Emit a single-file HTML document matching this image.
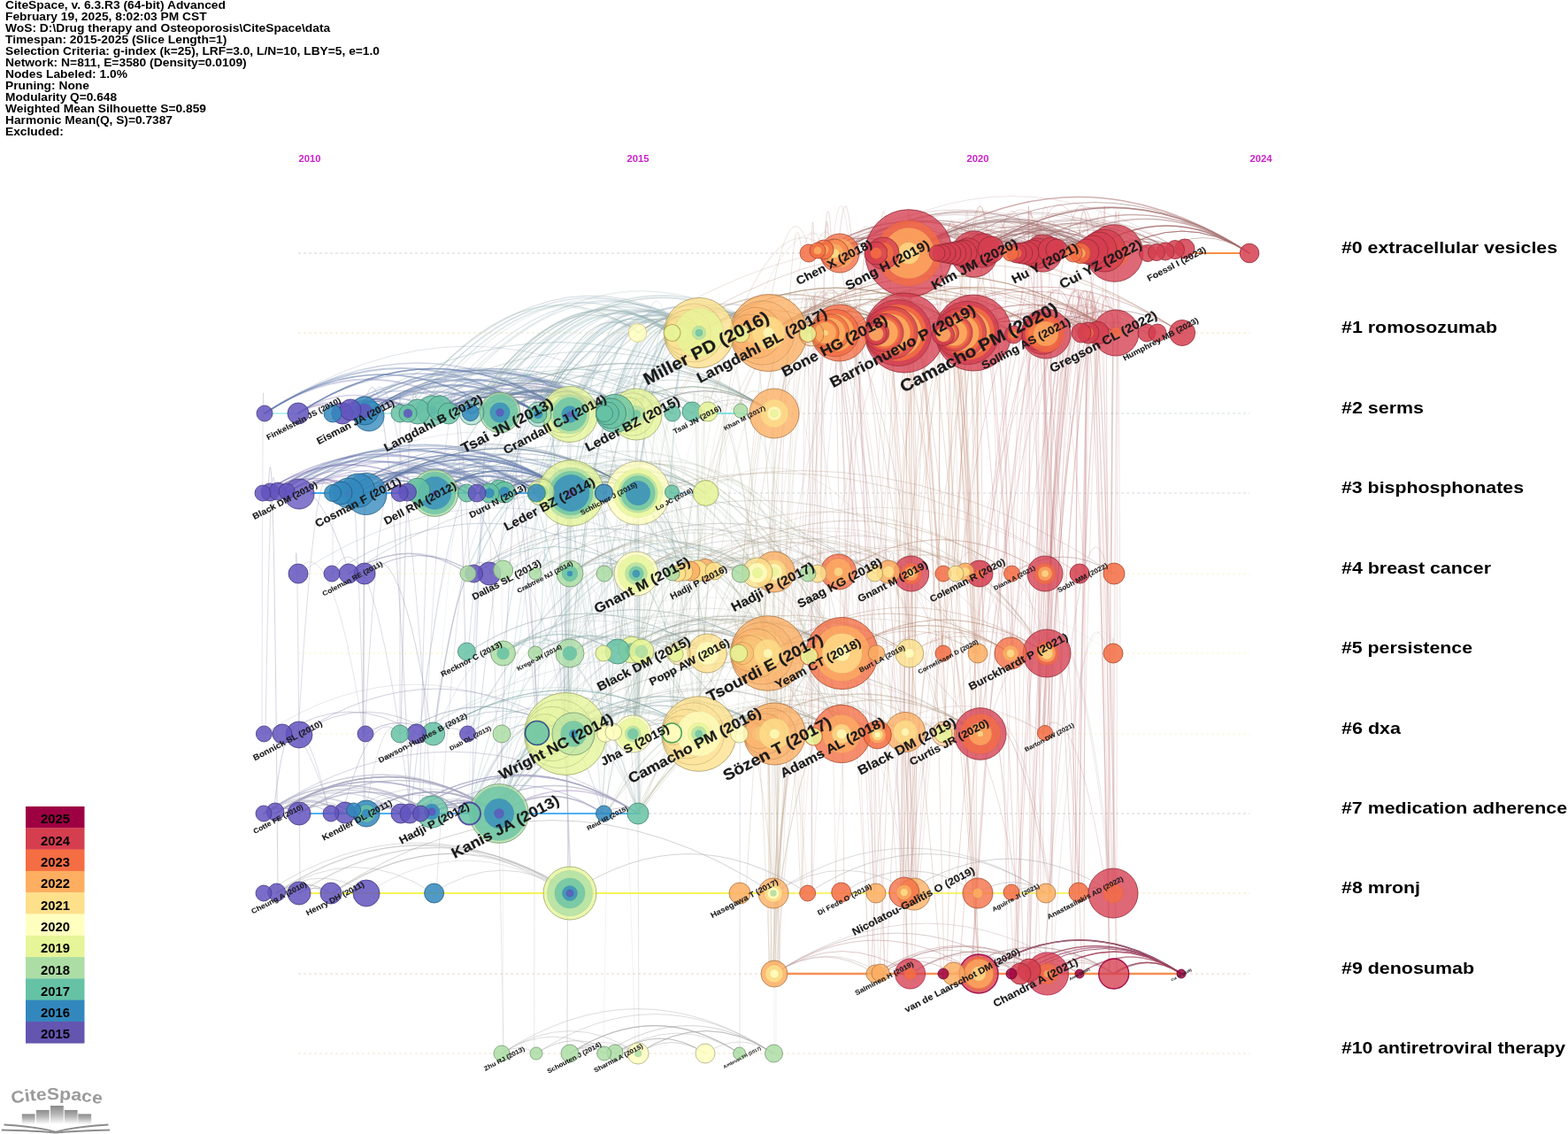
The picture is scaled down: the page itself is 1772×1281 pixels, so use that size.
<!DOCTYPE html>
<html lang="en"><head><meta charset="utf-8"><title>CiteSpace timeline</title>
<style>html,body{margin:0;padding:0;background:#fff;}svg{display:block}text{font-family:"Liberation Sans",sans-serif;font-weight:bold}</style></head><body>
<svg width="1772" height="1281" viewBox="0 0 1772 1281">
<rect width="1772" height="1281" fill="#fff"/>
<defs><linearGradient id="bg" x1="0" y1="0" x2="0" y2="1"><stop offset="0" stop-color="#8a8a8a"/><stop offset="0.45" stop-color="#b5b5b5"/><stop offset="1" stop-color="#ffffff"/></linearGradient>
<path id="lp" d="M 13.5 1247 Q 63 1237 116 1247.5"/></defs>
<g fill="none" stroke-width="1" stroke-dasharray="3 3">
<path d="M337 286.0H1412" stroke="#a8a8a8" stroke-opacity="0.50"/>
<path d="M337 376.0H1412" stroke="#e8d8a0" stroke-opacity="0.60"/>
<path d="M337 467.0H1412" stroke="#b4c4cc" stroke-opacity="0.60"/>
<path d="M337 557.0H1412" stroke="#b4c0cc" stroke-opacity="0.60"/>
<path d="M337 648.0H1412" stroke="#f3efb0" stroke-opacity="0.60"/>
<path d="M337 738.0H1412" stroke="#f3efb0" stroke-opacity="0.60"/>
<path d="M337 829.0H1412" stroke="#f3efb0" stroke-opacity="0.60"/>
<path d="M337 919.0H1412" stroke="#aaaaaa" stroke-opacity="0.50"/>
<path d="M337 1009.0H1412" stroke="#f0d8a0" stroke-opacity="0.60"/>
<path d="M337 1100.0H1412" stroke="#e0b8a8" stroke-opacity="0.60"/>
<path d="M337 1190.0H1412" stroke="#f0d0a8" stroke-opacity="0.60"/>
</g>
<g fill="none" stroke-linecap="round">
<path d="M338 557Q492 456 645 557M394 557Q466 509 539 557M491 557Q515 541 539 557" stroke="#6078a8" stroke-opacity="0.4" stroke-width="1.0"/>
<path d="M490 829Q569 777 648 829M490 829Q509 816 528 829M452 829Q546 767 639 829" stroke="#607890" stroke-opacity="0.3" stroke-width="1.0"/>
<path d="M1180 738Q1084 578 988 648" stroke="#a89078" stroke-opacity="0.3" stroke-width="1.5"/>
<path d="M1061 648Q1063 167 1064 286M1033 738Q1046 256 1058 376" stroke="#c09078" stroke-opacity="0.2" stroke-width="1.5"/>
<path d="M1187 738Q1187 257 1188 376M1175 829Q1173 107 1172 286" stroke="#c07878" stroke-opacity="0.2" stroke-width="1.5"/>
<path d="M414 919Q489 870 564 919M488 919Q526 894 564 919" stroke="#9090c0" stroke-opacity="0.4" stroke-width="1.5"/>
<path d="M868 738Q815 602 762 648M648 829Q800 633 952 738M950 829Q892 689 833 738M720 919Q834 748 949 829" stroke="#a8a890" stroke-opacity="0.3" stroke-width="1.5"/>
<path d="M1022 376Q1084 335 1146 376M952 738Q1047 675 1142 738" stroke="#a87860" stroke-opacity="0.4" stroke-width="0.5"/>
<path d="M721 1190Q798 1139 874 1190M721 1190Q798 1139 874 1190M644 1190Q670 1173 695 1190M721 1190Q759 1165 797 1190" stroke="#a8a8a8" stroke-opacity="0.5" stroke-width="1.0"/>
<path d="M683 1190Q779 1127 874 1190M376 1009Q513 919 649 1009" stroke="#a8a8a8" stroke-opacity="0.5" stroke-width="1.0"/>
<path d="M1251 1009Q1213 765 1175 829M1107 1100Q1084 618 1060 738M1031 1009Q1028 770 1025 829M1098 1100Q1123 617 1148 738" stroke="#c09090" stroke-opacity="0.3" stroke-width="1.0"/>
<path d="M298 919Q344 889 390 919M682 919Q702 906 721 919M463 919Q469 915 476 919M311 919Q400 861 488 919" stroke="#a8a8c0" stroke-opacity="0.6" stroke-width="1.0"/>
<path d="M507 467Q576 422 644 467M417 467Q512 404 608 467M305 557Q456 458 606 557M553 557Q562 551 570 557" stroke="#6078a8" stroke-opacity="0.5" stroke-width="2.0"/>
<path d="M720 376Q1028 173 1336 376M949 376Q1105 273 1261 376M949 376Q1024 326 1100 376M868 376Q1065 246 1261 376" stroke="#a87860" stroke-opacity="0.2" stroke-width="1.0"/>
<path d="M472 467Q540 422 608 467M337 467Q490 366 644 467M387 467Q442 431 497 467M337 467Q490 366 644 467" stroke="#6078a8" stroke-opacity="0.3" stroke-width="1.5"/>
<path d="M1248 286Q1330 232 1412 286M943 286Q1016 238 1089 286M1178 1100Q1220 615 1262 738" stroke="#a89090" stroke-opacity="0.2" stroke-width="0.5"/>
<path d="M411 829Q373 583 334 648M413 919Q432 797 451 829M493 1009Q530 406 568 557" stroke="#a8a8c0" stroke-opacity="0.3" stroke-width="1.0"/>
<path d="M374 919Q382 914 390 919" stroke="#a8a8c0" stroke-opacity="0.6" stroke-width="1.5"/>
<path d="M874 829Q872 227 870 376M868 738Q829 254 789 376M797 738Q837 608 877 648M917 829Q862 578 806 648" stroke="#a8a890" stroke-opacity="0.2" stroke-width="1.0"/>
<path d="M387 467Q400 459 412 467M337 467Q366 448 396 467M338 557Q399 517 460 557" stroke="#7860a8" stroke-opacity="0.3" stroke-width="2.0"/>
<path d="M952 738Q781 429 609 557M953 829Q777 518 602 648M640 829Q755 656 870 738M685 919Q780 760 875 829" stroke="#90a890" stroke-opacity="0.3" stroke-width="1.5"/>
<path d="M907 648Q910 286 913 376M988 1100Q952 136 916 376M945 1009Q928 167 912 376M873 738Q949 246 1026 376" stroke="#c09090" stroke-opacity="0.2" stroke-width="1.0"/>
<path d="M497 467Q553 430 609 467M314 557Q442 473 570 557M472 557Q500 539 528 557M452 557Q508 520 564 557" stroke="#6078a8" stroke-opacity="0.4" stroke-width="2.0"/>
<path d="M650 557Q704 306 759 376M684 467Q776 308 868 376M525 557Q641 279 758 376M465 467Q592 287 719 376" stroke="#a8c0c0" stroke-opacity="0.3" stroke-width="1.0"/>
<path d="M690 467Q783 406 875 467M644 467Q760 391 875 467M721 557Q759 532 798 557M719 648Q778 609 837 648" stroke="#90a890" stroke-opacity="0.3" stroke-width="0.5"/>
<path d="M857 648Q713 457 569 557" stroke="#90a8a8" stroke-opacity="0.2" stroke-width="1.0"/>
<path d="M690 467Q783 406 875 467M764 738Q782 726 799 738" stroke="#90a890" stroke-opacity="0.4" stroke-width="0.5"/>
<path d="M568 738Q569 497 569 557M530 738Q570 374 610 467" stroke="#7890a8" stroke-opacity="0.1" stroke-width="0.5"/>
<path d="M1059 286Q1150 226 1242 286M1179 286Q1207 268 1235 286" stroke="#904848" stroke-opacity="0.3" stroke-width="1.5"/>
<path d="M1111 286Q1170 247 1228 286M1167 286Q1198 266 1228 286" stroke="#906060" stroke-opacity="0.5" stroke-width="0.5"/>
<path d="M1100 376Q1170 330 1240 376" stroke="#a86060" stroke-opacity="0.3" stroke-width="1.5"/>
<path d="M1219 1009Q1229 167 1239 376M1262 1100Q1244 137 1226 376M1186 648Q1207 285 1228 376M1251 1009Q1235 47 1218 286" stroke="#c07878" stroke-opacity="0.3" stroke-width="1.5"/>
<path d="M608 738Q652 373 695 467M713 829Q661 461 609 557M725 738Q668 486 611 557M638 829Q641 588 644 648" stroke="#90a8a8" stroke-opacity="0.2" stroke-width="0.5"/>
<path d="M833 738Q811 256 789 376M875 829Q911 225 946 376M915 738Q857 370 799 467M873 829Q832 224 792 376" stroke="#a8a890" stroke-opacity="0.2" stroke-width="1.0"/>
<path d="M1157 1100Q1126 17 1095 286M1215 1100Q1217 137 1220 376M1212 1009Q1170 46 1127 286M1084 648Q1133 281 1182 376" stroke="#c07878" stroke-opacity="0.3" stroke-width="1.0"/>
<path d="M1078 1100Q1092 1091 1106 1100" stroke="#c09090" stroke-opacity="0.6" stroke-width="1.0"/>
<path d="M693 829Q669 466 644 557M605 829Q643 699 681 738" stroke="#90a8a8" stroke-opacity="0.2" stroke-width="0.5"/>
<path d="M641 829Q598 582 555 648M477 919Q504 317 530 467M296 829Q297 348 298 467M376 648Q376 527 376 557" stroke="#a8a8c0" stroke-opacity="0.3" stroke-width="1.0"/>
<path d="M1078 1100Q1168 1040 1259 1100" stroke="#c0a8a8" stroke-opacity="0.6" stroke-width="1.5"/>
<path d="M311 919Q421 847 530 919M463 919Q592 834 721 919" stroke="#9090c0" stroke-opacity="0.5" stroke-width="1.5"/>
<path d="M400 919Q407 914 414 919M414 919Q489 870 564 919M311 919Q342 898 374 919M390 919Q402 911 414 919" stroke="#a8a8c0" stroke-opacity="0.5" stroke-width="1.5"/>
<path d="M610 467Q685 319 759 376" stroke="#90c0c0" stroke-opacity="0.3" stroke-width="1.0"/>
<path d="M868 738Q986 660 1105 738M952 738Q990 713 1028 738M875 829Q992 752 1108 829M715 829Q912 699 1108 829" stroke="#a89078" stroke-opacity="0.2" stroke-width="1.0"/>
<path d="M1028 1009Q1015 529 1003 648M1018 1009Q1025 529 1031 648M1035 1009Q1026 769 1017 829M1002 1100Q1015 739 1029 829" stroke="#c09090" stroke-opacity="0.3" stroke-width="1.0"/>
<path d="M992 648Q953 283 914 376M914 829Q927 226 941 376M986 648Q953 165 920 286M918 1009Q914 167 909 376" stroke="#c09090" stroke-opacity="0.3" stroke-width="1.0"/>
<path d="M868 376Q1007 285 1146 376M949 376Q1105 273 1261 376" stroke="#a87860" stroke-opacity="0.3" stroke-width="1.5"/>
<path d="M837 376Q853 366 868 376M790 376Q854 334 917 376M788 648Q856 603 924 648M835 738Q851 727 868 738" stroke="#909078" stroke-opacity="0.2" stroke-width="1.0"/>
<path d="M461 467Q622 361 782 467M533 467Q626 406 719 467M491 557Q606 481 721 557M605 738Q660 702 714 738" stroke="#609090" stroke-opacity="0.2" stroke-width="1.0"/>
<path d="M914 738Q971 701 1028 738" stroke="#a89078" stroke-opacity="0.2" stroke-width="0.5"/>
<path d="M790 376Q829 350 868 376M720 376Q794 327 868 376M720 376Q794 327 868 376M719 467Q797 416 875 467" stroke="#909090" stroke-opacity="0.3" stroke-width="1.0"/>
<path d="M497 467Q608 394 719 467M570 557Q646 507 721 557M564 557Q642 505 721 557M536 648Q627 587 719 648" stroke="#609090" stroke-opacity="0.4" stroke-width="1.0"/>
<path d="M1257 1009Q1240 167 1223 376M1146 1100Q1193 16 1241 286M1253 1009Q1258 47 1263 286M1163 1100Q1195 136 1226 376" stroke="#c07878" stroke-opacity="0.3" stroke-width="1.0"/>
<path d="M646 648Q645 527 645 557M686 829Q684 588 681 648M639 829Q679 345 719 467M638 829Q642 348 646 467" stroke="#90a8a8" stroke-opacity="0.2" stroke-width="1.0"/>
<path d="M1214 1009Q1237 167 1260 376M1164 1100Q1163 17 1162 286M1143 738Q1118 255 1093 376M1253 1100Q1250 17 1247 286" stroke="#c07878" stroke-opacity="0.3" stroke-width="1.0"/>
<path d="M394 648Q465 601 536 648M298 829Q469 717 639 829" stroke="#606090" stroke-opacity="0.3" stroke-width="0.5"/>
<path d="M714 738Q791 687 868 738" stroke="#909090" stroke-opacity="0.4" stroke-width="1.5"/>
<path d="M650 829Q610 463 570 557M641 829Q606 464 570 557M561 919Q605 434 648 557M562 919Q606 787 651 829" stroke="#78a8a8" stroke-opacity="0.2" stroke-width="1.0"/>
<path d="M882 467Q895 345 909 376M881 648Q894 166 906 286M836 738Q894 251 952 376M754 467Q832 316 911 376" stroke="#c0a890" stroke-opacity="0.3" stroke-width="1.0"/>
<path d="M645 557Q664 545 682 557" stroke="#7890a8" stroke-opacity="0.5" stroke-width="1.0"/>
<path d="M488 467Q592 399 695 467M488 467Q586 403 683 467M553 557Q599 527 645 557M564 557Q605 530 645 557" stroke="#7878a8" stroke-opacity="0.4" stroke-width="1.5"/>
<path d="M645 557Q664 545 682 557M533 919Q548 318 563 467M529 738Q549 496 568 557M531 919Q587 313 644 467" stroke="#7890a8" stroke-opacity="0.3" stroke-width="1.0"/>
<path d="M1020 829Q983 583 945 648M1142 738Q1009 555 876 648" stroke="#a89090" stroke-opacity="0.2" stroke-width="1.0"/>
<path d="M564 557Q605 530 645 557" stroke="#7878a8" stroke-opacity="0.3" stroke-width="1.0"/>
<path d="M1104 738Q990 567 876 648" stroke="#a89090" stroke-opacity="0.3" stroke-width="1.0"/>
<path d="M564 919Q645 658 726 738M723 919Q665 781 607 829M782 648Q694 491 605 557M566 919Q683 640 801 738" stroke="#90a8a8" stroke-opacity="0.2" stroke-width="1.5"/>
<path d="M875 829Q992 752 1108 829M790 829Q906 752 1023 829M875 829Q913 804 951 829M1180 738Q1052 558 923 648" stroke="#a89078" stroke-opacity="0.3" stroke-width="1.0"/>
<path d="M394 557Q557 449 721 557M414 557Q567 456 721 557M337 648Q562 499 788 648M452 829Q546 767 639 829" stroke="#607890" stroke-opacity="0.2" stroke-width="1.0"/>
<path d="M954 829Q953 588 953 648M882 1100Q875 739 869 829M872 1100Q865 499 857 648M877 1100Q880 499 883 648" stroke="#c0a890" stroke-opacity="0.2" stroke-width="1.0"/>
<path d="M497 467Q648 367 800 467M387 467Q631 306 875 467M565 467Q642 416 719 467M565 467Q642 416 719 467" stroke="#609090" stroke-opacity="0.3" stroke-width="1.0"/>
<path d="M1187 829Q1211 226 1235 376M1254 1100Q1241 137 1228 376M1142 738Q1205 249 1269 376M1149 738Q1168 136 1187 286" stroke="#c07878" stroke-opacity="0.2" stroke-width="1.0"/>
<path d="M1120 286Q1184 244 1248 286" stroke="#a89090" stroke-opacity="0.4" stroke-width="1.5"/>
<path d="M723 919Q685 435 647 557M642 829Q645 467 648 557M714 738Q678 493 643 557M714 829Q697 587 680 648" stroke="#90a8a8" stroke-opacity="0.2" stroke-width="1.0"/>
<path d="M472 467Q502 447 533 467M417 467Q552 378 686 467M461 467Q576 391 690 467M417 467Q556 375 695 467" stroke="#6078a8" stroke-opacity="0.3" stroke-width="1.0"/>
<path d="M339 1009Q336 529 334 648M491 829Q523 585 555 648M411 919Q412 438 413 557M372 919Q345 794 318 829" stroke="#a8a8c0" stroke-opacity="0.4" stroke-width="1.0"/>
<path d="M412 467Q566 366 719 467M414 557Q567 456 721 557M414 557Q567 456 721 557M375 648Q547 534 719 648" stroke="#607890" stroke-opacity="0.3" stroke-width="1.0"/>
<path d="M533 467Q614 414 695 467M533 467Q612 415 690 467" stroke="#7890a8" stroke-opacity="0.3" stroke-width="1.5"/>
<path d="M721 919Q836 641 951 738" stroke="#a8a890" stroke-opacity="0.3" stroke-width="1.0"/>
<path d="M472 557Q518 527 564 557M491 557Q568 506 645 557M405 557Q479 508 553 557" stroke="#6078a8" stroke-opacity="0.4" stroke-width="1.5"/>
<path d="M875 1100Q952 1049 1029 1100M1184 1100Q1221 1075 1259 1100M989 1100Q1033 1071 1078 1100M989 1100Q1086 1036 1184 1100" stroke="#c09090" stroke-opacity="0.5" stroke-width="1.0"/>
<path d="M1017 1009Q1024 529 1031 648M1163 1100Q1174 618 1185 738M1027 1009Q1027 529 1027 648M1070 829Q1105 700 1140 738" stroke="#c09090" stroke-opacity="0.2" stroke-width="1.0"/>
<path d="M1179 286Q1210 265 1242 286" stroke="#904848" stroke-opacity="0.4" stroke-width="1.0"/>
<path d="M949 376Q985 352 1022 376M837 376Q930 315 1022 376M917 376Q970 341 1022 376M868 376Q945 325 1022 376" stroke="#a89078" stroke-opacity="0.4" stroke-width="1.0"/>
<path d="M949 286Q988 260 1027 286M1173 286Q1208 263 1242 286M1111 286Q1136 270 1161 286" stroke="#a87878" stroke-opacity="0.3" stroke-width="1.0"/>
<path d="M338 557Q415 506 491 557" stroke="#6060a8" stroke-opacity="0.4" stroke-width="1.0"/>
<path d="M949 376Q1047 311 1146 376M949 376Q1105 273 1261 376M949 376Q1065 299 1182 376M1023 829Q1102 777 1181 829" stroke="#a87860" stroke-opacity="0.3" stroke-width="0.5"/>
<path d="M604 829Q779 619 954 738" stroke="#90a890" stroke-opacity="0.2" stroke-width="1.5"/>
<path d="M943 286Q1008 243 1074 286M943 286Q1055 212 1167 286M998 286Q1012 276 1027 286M1120 286Q1157 262 1194 286" stroke="#904848" stroke-opacity="0.4" stroke-width="1.0"/>
<path d="M385 557Q399 548 414 557" stroke="#7860a8" stroke-opacity="0.5" stroke-width="2.0"/>
<path d="M1027 286Q1134 215 1242 286" stroke="#906060" stroke-opacity="0.4" stroke-width="1.5"/>
<path d="M787 829Q754 465 721 557M762 829Q780 466 798 557M759 829Q763 708 767 738M762 829Q759 467 757 557" stroke="#90a890" stroke-opacity="0.2" stroke-width="1.0"/>
<path d="M725 738Q838 663 952 738M605 738Q798 611 990 738M714 738Q833 660 952 738" stroke="#909090" stroke-opacity="0.2" stroke-width="0.5"/>
<path d="M1257 1100Q1296 1074 1335 1100" stroke="#903048" stroke-opacity="0.8" stroke-width="1.0"/>
<path d="M868 376Q945 325 1022 376M790 376Q945 274 1100 376M790 376Q869 324 949 376M790 376Q945 274 1100 376" stroke="#a89078" stroke-opacity="0.3" stroke-width="1.0"/>
<path d="M644 648Q784 556 924 648M715 829Q775 789 836 829M725 738Q742 496 760 557M791 829Q787 348 783 467" stroke="#90a890" stroke-opacity="0.2" stroke-width="1.5"/>
<path d="M644 1190Q682 1165 721 1190M695 1190Q746 1156 797 1190M695 1190Q708 1181 721 1190M567 1190Q644 1139 721 1190" stroke="#a8a8a8" stroke-opacity="0.4" stroke-width="1.0"/>
<path d="M948 829Q912 584 876 648M875 829Q839 700 802 738M949 829Q913 345 877 467M787 648Q811 405 836 467" stroke="#a8a890" stroke-opacity="0.3" stroke-width="0.5"/>
<path d="M642 829Q642 348 641 467M608 829Q647 464 685 557M641 738Q644 378 646 467M686 829Q646 583 607 648" stroke="#90a8a8" stroke-opacity="0.3" stroke-width="0.5"/>
<path d="M715 829Q869 727 1023 829" stroke="#a89078" stroke-opacity="0.3" stroke-width="0.5"/>
<path d="M394 648Q403 642 412 648" stroke="#606090" stroke-opacity="0.2" stroke-width="1.0"/>
<path d="M714 738Q833 660 952 738M799 738Q834 715 868 738M715 829Q753 804 790 829M639 829Q795 726 951 829" stroke="#909090" stroke-opacity="0.3" stroke-width="1.0"/>
<path d="M998 286Q1113 210 1228 286M1027 286Q1048 272 1069 286M1027 286Q1058 266 1089 286M931 286Q1026 224 1120 286" stroke="#a87878" stroke-opacity="0.2" stroke-width="1.0"/>
<path d="M791 829Q870 569 948 648M876 829Q934 689 991 738M953 738Q799 439 645 557" stroke="#a8a890" stroke-opacity="0.3" stroke-width="1.5"/>
<path d="M1101 286Q1137 262 1173 286" stroke="#904848" stroke-opacity="0.2" stroke-width="1.5"/>
<path d="M472 467Q518 436 565 467M414 557Q512 492 611 557M414 557Q433 544 452 557M491 557Q551 517 611 557" stroke="#6078a8" stroke-opacity="0.3" stroke-width="2.0"/>
<path d="M771 648Q728 516 685 557M562 919Q738 607 915 738M526 829Q698 621 869 738M874 648Q742 465 609 557" stroke="#90a8a8" stroke-opacity="0.2" stroke-width="1.0"/>
<path d="M759 829Q875 752 992 829M1067 829Q1009 577 950 648M1064 829Q1007 577 950 648" stroke="#a89078" stroke-opacity="0.2" stroke-width="1.0"/>
<path d="M564 919Q586 317 608 467M461 919Q466 799 470 829M309 919Q323 798 337 829M644 1009Q626 288 609 467" stroke="#a8a8c0" stroke-opacity="0.5" stroke-width="1.0"/>
<path d="M1223 648Q1229 286 1236 376M1074 1100Q1151 13 1228 286M1100 738Q1159 250 1217 376M1254 1100Q1235 137 1215 376" stroke="#c07878" stroke-opacity="0.3" stroke-width="1.0"/>
<path d="M778 648Q730 514 683 557M684 829Q741 460 798 557M797 738Q759 492 720 557M774 648Q747 405 720 467" stroke="#90a890" stroke-opacity="0.1" stroke-width="1.0"/>
<path d="M799 738Q914 663 1028 738M767 738Q897 652 1028 738M875 829Q913 804 951 829" stroke="#a89078" stroke-opacity="0.4" stroke-width="1.0"/>
<path d="M376 467Q424 435 472 467" stroke="#6060a8" stroke-opacity="0.4" stroke-width="2.0"/>
<path d="M716 829Q741 586 766 648M693 829Q730 699 767 738M700 738Q745 253 789 376M834 829Q776 689 717 738" stroke="#90a890" stroke-opacity="0.3" stroke-width="1.0"/>
<path d="M376 467Q394 455 412 467M297 557Q394 493 491 557M324 557Q359 534 394 557M314 557Q393 505 472 557" stroke="#7860a8" stroke-opacity="0.3" stroke-width="1.0"/>
<path d="M868 376Q984 300 1100 376M780 648Q962 528 1144 648M766 648Q877 575 989 648M875 648Q894 635 913 648" stroke="#a89078" stroke-opacity="0.4" stroke-width="1.0"/>
<path d="M685 557Q738 307 791 376M689 467Q726 337 763 376M721 467Q757 337 794 376M536 467Q700 264 864 376" stroke="#90a8a8" stroke-opacity="0.4" stroke-width="1.5"/>
<path d="M949 286Q1085 196 1221 286M1155 286Q1167 278 1179 286M1182 376Q1206 360 1230 376M1240 376Q1250 369 1261 376" stroke="#906060" stroke-opacity="0.3" stroke-width="0.5"/>
<path d="M568 738Q633 695 698 738" stroke="#609090" stroke-opacity="0.3" stroke-width="1.5"/>
<path d="M868 376Q945 325 1022 376M949 376Q985 352 1022 376M868 738Q910 710 952 738M836 829Q972 739 1108 829" stroke="#a89078" stroke-opacity="0.4" stroke-width="1.5"/>
<path d="M645 557Q683 532 721 557M721 557Q740 544 760 557M644 738Q706 697 767 738M527 738Q663 648 799 738" stroke="#789090" stroke-opacity="0.2" stroke-width="0.5"/>
<path d="M1307 286Q1360 251 1412 286" stroke="#a87878" stroke-opacity="0.5" stroke-width="1.0"/>
<path d="M911 648Q929 285 948 376M724 919Q818 652 913 738M954 829Q834 653 714 738M952 738Q869 586 786 648" stroke="#a8a890" stroke-opacity="0.2" stroke-width="1.0"/>
<path d="M338 919Q451 844 564 919M564 919Q623 880 682 919M488 919Q526 894 564 919M414 919Q489 870 564 919" stroke="#a8a8c0" stroke-opacity="0.4" stroke-width="1.5"/>
<path d="M644 467Q718 319 792 376M760 467Q776 344 792 376M723 467Q756 339 790 376" stroke="#90a8c0" stroke-opacity="0.4" stroke-width="1.5"/>
<path d="M953 829Q905 580 857 648M991 829Q816 619 642 738M950 829Q908 697 866 738M684 919Q817 736 951 829" stroke="#a8a890" stroke-opacity="0.3" stroke-width="1.0"/>
<path d="M1031 648Q991 282 951 376M983 738Q1024 254 1065 376M1008 648Q1040 284 1073 376M984 738Q1000 256 1016 376" stroke="#c09078" stroke-opacity="0.2" stroke-width="1.0"/>
<path d="M686 829Q664 586 641 648M723 919Q722 438 721 557M714 829Q679 464 643 557M716 829Q716 708 716 738" stroke="#90a8a8" stroke-opacity="0.2" stroke-width="1.0"/>
<path d="M1149 286Q1196 255 1242 286M1074 286Q1118 257 1161 286M1242 286Q1290 254 1339 286M943 286Q1016 238 1089 286" stroke="#906060" stroke-opacity="0.5" stroke-width="1.0"/>
<path d="M1021 1100Q1025 137 1029 376M1037 648Q1032 286 1027 376M1059 738Q1036 256 1014 376M1021 1009Q1007 47 993 286" stroke="#c09078" stroke-opacity="0.3" stroke-width="1.0"/>
<path d="M536 467Q646 297 756 376M608 557Q739 271 870 376" stroke="#a8c0c0" stroke-opacity="0.3" stroke-width="1.0"/>
<path d="M1116 829Q1091 106 1066 286M1067 1100Q1046 137 1025 376M1100 1009Q1060 46 1020 286M1107 1100Q1032 132 956 376" stroke="#c09078" stroke-opacity="0.3" stroke-width="1.0"/>
<path d="M641 829Q678 583 716 648M789 829Q678 658 566 738M792 829Q737 690 681 738M867 738Q738 453 609 557" stroke="#90a8a8" stroke-opacity="0.2" stroke-width="1.0"/>
<path d="M1027 286Q1131 217 1235 286M924 286Q976 252 1027 286M1027 286Q1046 274 1064 286M1297 286Q1312 276 1328 286" stroke="#906060" stroke-opacity="0.3" stroke-width="0.5"/>
<path d="M400 919Q426 901 453 919M400 919Q465 876 530 919" stroke="#9090c0" stroke-opacity="0.4" stroke-width="1.0"/>
<path d="M412 467Q528 390 644 467M387 467Q535 369 683 467M417 467Q452 444 488 467M376 467Q492 390 609 467" stroke="#6078a8" stroke-opacity="0.4" stroke-width="1.5"/>
<path d="M394 557Q520 474 645 557M460 557Q476 547 491 557M414 557Q471 519 528 557" stroke="#6078a8" stroke-opacity="0.3" stroke-width="1.0"/>
<path d="M412 829Q432 466 452 557M413 919Q402 437 391 557M567 919Q586 797 606 829M452 829Q452 348 452 467" stroke="#a8a8c0" stroke-opacity="0.4" stroke-width="1.0"/>
<path d="M1104 1009Q1097 47 1090 286M1026 1100Q1006 137 985 376M1062 829Q1004 222 946 376M1038 1009Q1107 162 1176 376" stroke="#c09078" stroke-opacity="0.2" stroke-width="1.0"/>
<path d="M533 467Q588 430 644 467M565 467Q604 441 644 467" stroke="#7878a8" stroke-opacity="0.3" stroke-width="1.5"/>
<path d="M1067 829Q1008 577 950 648" stroke="#a89078" stroke-opacity="0.1" stroke-width="1.0"/>
<path d="M645 557Q683 532 721 557M645 557Q721 507 798 557M721 557Q740 544 760 557M645 557Q683 532 721 557" stroke="#789090" stroke-opacity="0.4" stroke-width="1.0"/>
<path d="M718 829Q699 587 680 648M640 829Q641 588 641 648M530 919Q659 739 788 829M564 919Q640 771 716 829" stroke="#90a8a8" stroke-opacity="0.3" stroke-width="1.0"/>
<path d="M1101 286Q1257 183 1412 286" stroke="#904848" stroke-opacity="0.6" stroke-width="1.0"/>
<path d="M376 467Q424 435 472 467M299 467Q416 390 533 467M387 467Q430 439 472 467M305 557Q416 484 528 557" stroke="#6060a8" stroke-opacity="0.3" stroke-width="2.0"/>
<path d="M1027 1100Q972 134 917 376" stroke="#c09090" stroke-opacity="0.2" stroke-width="1.5"/>
<path d="M1175 829Q1185 107 1195 286M1187 648Q1205 285 1222 376M1181 1100Q1223 135 1266 376M1266 738Q1264 257 1262 376" stroke="#c07878" stroke-opacity="0.2" stroke-width="1.0"/>
<path d="M1242 286Q1285 258 1328 286M1111 286Q1214 218 1317 286M1179 286Q1214 263 1248 286M1111 286Q1214 218 1317 286" stroke="#a87878" stroke-opacity="0.3" stroke-width="1.0"/>
<path d="M912 829Q991 218 1070 376M1109 829Q1093 106 1077 286M1068 829Q1031 225 994 376M1037 648Q1026 286 1015 376" stroke="#c09078" stroke-opacity="0.2" stroke-width="1.0"/>
<path d="M1106 1100Q1220 1024 1335 1100" stroke="#781830" stroke-opacity="0.8" stroke-width="1.5"/>
<path d="M566 919Q629 778 692 829M603 738Q730 559 858 648M567 919Q702 735 837 829M608 738Q684 589 761 648" stroke="#90a8a8" stroke-opacity="0.3" stroke-width="1.5"/>
<path d="M1194 286Q1227 264 1260 286M1084 286Q1136 252 1188 286M1094 286Q1253 181 1412 286M1059 286Q1074 276 1089 286" stroke="#a87878" stroke-opacity="0.4" stroke-width="1.0"/>
<path d="M1260 286Q1336 236 1412 286" stroke="#904848" stroke-opacity="0.7" stroke-width="1.0"/>
<path d="M715 829Q737 587 758 648M788 829Q734 579 681 648M759 829Q767 588 775 648M765 738Q782 496 799 557" stroke="#90a890" stroke-opacity="0.2" stroke-width="1.0"/>
<path d="M1161 1100Q1248 1043 1335 1100" stroke="#781830" stroke-opacity="0.7" stroke-width="1.0"/>
<path d="M529 919Q583 783 637 829" stroke="#7890a8" stroke-opacity="0.2" stroke-width="1.0"/>
<path d="M760 376Q775 366 790 376M690 467Q764 419 837 467M719 467Q760 440 800 467M721 557Q759 532 798 557" stroke="#90a890" stroke-opacity="0.2" stroke-width="1.0"/>
<path d="M609 467Q740 285 871 376M473 467Q631 267 789 376M564 557Q678 280 791 376" stroke="#a8c0c0" stroke-opacity="0.2" stroke-width="1.5"/>
<path d="M1177 286Q1294 208 1412 286" stroke="#a86060" stroke-opacity="0.5" stroke-width="1.0"/>
<path d="M1029 1100Q1106 1049 1184 1100" stroke="#c0a8a8" stroke-opacity="0.5" stroke-width="1.5"/>
<path d="M788 648Q934 552 1080 648M766 648Q993 498 1220 648M780 648Q936 545 1091 648M868 738Q910 710 952 738" stroke="#a89078" stroke-opacity="0.2" stroke-width="1.0"/>
<path d="M530 829Q547 467 564 557M530 919Q585 782 641 829" stroke="#7890a8" stroke-opacity="0.2" stroke-width="1.5"/>
<path d="M640 829Q660 466 680 557" stroke="#90a8a8" stroke-opacity="0.1" stroke-width="1.0"/>
<path d="M992 829Q930 687 869 738M1069 738Q933 450 798 557M1022 829Q969 692 916 738M797 738Q859 597 922 648" stroke="#a8a890" stroke-opacity="0.2" stroke-width="1.0"/>
<path d="M644 467Q702 429 760 467M553 557Q675 476 798 557M645 557Q721 507 798 557M539 557Q668 472 798 557" stroke="#789090" stroke-opacity="0.3" stroke-width="0.5"/>
<path d="M528 919Q620 653 713 738" stroke="#78a8a8" stroke-opacity="0.2" stroke-width="1.5"/>
<path d="M1228 286Q1268 260 1307 286M931 286Q964 264 998 286" stroke="#904848" stroke-opacity="0.5" stroke-width="1.0"/>
<path d="M533 467Q588 430 644 467M564 557Q605 530 645 557" stroke="#7878a8" stroke-opacity="0.5" stroke-width="2.0"/>
<path d="M1072 648Q1073 286 1073 376M1103 738Q1081 256 1059 376M1111 738Q1108 257 1105 376M1068 738Q1087 256 1107 376" stroke="#c09078" stroke-opacity="0.3" stroke-width="1.0"/>
<path d="M719 919Q749 556 779 648M793 829Q786 347 780 467" stroke="#90a890" stroke-opacity="0.1" stroke-width="0.5"/>
<path d="M647 829Q609 464 572 557" stroke="#78a8a8" stroke-opacity="0.1" stroke-width="0.5"/>
<path d="M452 557Q472 544 491 557M472 557Q482 551 491 557M405 557Q508 489 611 557M414 557Q529 481 645 557" stroke="#6078a8" stroke-opacity="0.3" stroke-width="1.5"/>
<path d="M374 1009Q624 844 874 1009M644 1190Q740 1127 836 1190M695 1190Q746 1156 797 1190M606 1190Q650 1161 695 1190" stroke="#a8a8a8" stroke-opacity="0.5" stroke-width="1.0"/>
<path d="M1027 286Q1162 197 1297 286M949 286Q1088 194 1228 286" stroke="#a89090" stroke-opacity="0.5" stroke-width="0.5"/>
<path d="M714 467Q791 317 867 376M608 467Q665 328 723 376" stroke="#90a8a8" stroke-opacity="0.4" stroke-width="1.5"/>
<path d="M605 738Q665 698 725 738M527 738Q663 648 799 738" stroke="#789090" stroke-opacity="0.4" stroke-width="1.0"/>
<path d="M470 467Q613 277 756 376" stroke="#a8c0c0" stroke-opacity="0.4" stroke-width="1.5"/>
<path d="M924 286Q976 252 1027 286M1027 286Q1084 248 1142 286M1173 286Q1210 261 1248 286M1089 286Q1155 242 1221 286" stroke="#904848" stroke-opacity="0.4" stroke-width="1.0"/>
<path d="M876 1009Q874 529 873 648M1019 829Q988 702 957 738M906 1009Q915 529 924 648" stroke="#c0a890" stroke-opacity="0.2" stroke-width="1.0"/>
<path d="M528 919Q659 737 790 829M877 648Q741 462 604 557" stroke="#90a8a8" stroke-opacity="0.3" stroke-width="1.0"/>
<path d="M553 648Q906 415 1259 648M924 648Q936 640 948 648M807 648Q918 575 1030 648M868 738Q910 710 952 738" stroke="#a89078" stroke-opacity="0.3" stroke-width="1.0"/>
<path d="M1027 286Q1053 269 1079 286M1084 286Q1156 238 1228 286" stroke="#a87878" stroke-opacity="0.2" stroke-width="0.5"/>
<path d="M565 467Q630 424 695 467M533 467Q612 415 690 467" stroke="#7890a8" stroke-opacity="0.4" stroke-width="2.0"/>
<path d="M719 467Q797 416 875 467" stroke="#909090" stroke-opacity="0.2" stroke-width="1.5"/>
<path d="M1022 376Q1084 335 1146 376M990 376Q1006 365 1022 376M913 376Q1068 274 1222 376M760 376Q1048 186 1336 376" stroke="#a87860" stroke-opacity="0.3" stroke-width="1.0"/>
<path d="M1225 1100Q1227 137 1229 376M1152 1100Q1111 136 1070 376M1175 648Q1195 285 1215 376M1159 1100Q1194 136 1229 376" stroke="#c07878" stroke-opacity="0.3" stroke-width="1.0"/>
<path d="M787 829Q739 343 691 467M797 648Q739 508 681 557M765 738Q780 496 796 557M716 829Q749 346 783 467" stroke="#90a890" stroke-opacity="0.2" stroke-width="0.5"/>
<path d="M835 738Q851 727 868 738" stroke="#909078" stroke-opacity="0.4" stroke-width="0.5"/>
<path d="M759 829Q817 791 875 829M759 829Q797 804 836 829M648 829Q836 705 1023 829M715 829Q753 804 790 829" stroke="#909090" stroke-opacity="0.2" stroke-width="1.0"/>
<path d="M305 557Q355 524 405 557" stroke="#7860a8" stroke-opacity="0.4" stroke-width="1.5"/>
<path d="M920 829Q782 539 645 648M641 738Q759 565 877 648M866 738Q773 580 681 648" stroke="#90a890" stroke-opacity="0.2" stroke-width="1.0"/>
<path d="M1032 1009Q1029 47 1025 286M1101 738Q1067 135 1034 286" stroke="#c09078" stroke-opacity="0.3" stroke-width="1.5"/>
<path d="M723 738Q752 376 781 467M716 829Q740 586 765 648M698 738Q727 494 757 557M696 829Q747 693 798 738" stroke="#90a890" stroke-opacity="0.2" stroke-width="1.0"/>
<path d="M836 1190Q836 710 837 829" stroke="#a8a8a8" stroke-opacity="0.3" stroke-width="1.0"/>
<path d="M460 557Q476 547 491 557M491 557Q509 545 528 557M314 557Q480 448 645 557" stroke="#6078a8" stroke-opacity="0.4" stroke-width="2.0"/>
<path d="M1069 829Q1043 226 1017 376M1021 1009Q1104 41 1187 286M1099 738Q1082 256 1065 376M995 829Q1014 106 1033 286" stroke="#c09078" stroke-opacity="0.3" stroke-width="1.0"/>
<path d="M1027 286Q1088 246 1149 286M1066 376Q1106 350 1146 376M1146 376Q1164 364 1182 376" stroke="#a86060" stroke-opacity="0.4" stroke-width="0.5"/>
<path d="M385 557Q418 535 452 557M324 557Q432 486 539 557" stroke="#6060a8" stroke-opacity="0.3" stroke-width="1.5"/>
<path d="M1104 829Q1086 226 1069 376M1106 1100Q1047 134 987 376M1061 738Q1062 257 1063 376M1065 738Q1086 136 1108 286" stroke="#c09078" stroke-opacity="0.3" stroke-width="1.0"/>
<path d="M1186 829Q1216 225 1246 376M1084 1100Q1150 133 1217 376M1107 738Q1147 254 1188 376M1223 1100Q1187 136 1150 376" stroke="#c07878" stroke-opacity="0.3" stroke-width="1.0"/>
<path d="M868 738Q910 710 952 738M767 738Q859 677 952 738M790 829Q928 738 1066 829M790 829Q891 762 992 829" stroke="#a89078" stroke-opacity="0.3" stroke-width="1.0"/>
<path d="M698 738Q743 606 788 648M805 648Q750 397 695 467" stroke="#90a890" stroke-opacity="0.1" stroke-width="1.0"/>
<path d="M868 376Q891 361 913 376M868 376Q909 350 949 376M837 376Q991 274 1146 376M790 376Q869 324 949 376" stroke="#a89078" stroke-opacity="0.2" stroke-width="1.0"/>
<path d="M526 648Q586 508 645 557" stroke="#78a8a8" stroke-opacity="0.3" stroke-width="1.5"/>
<path d="M765 738Q820 601 876 648M947 648Q796 453 645 557" stroke="#a8a890" stroke-opacity="0.2" stroke-width="1.5"/>
<path d="M412 467Q551 375 690 467M337 467Q490 366 644 467M461 467Q474 458 488 467M452 467Q574 387 695 467" stroke="#6078a8" stroke-opacity="0.4" stroke-width="1.5"/>
<path d="M878 829Q800 569 722 648M989 829Q816 519 644 648M724 919Q800 770 877 829M793 829Q835 582 877 648" stroke="#a8a890" stroke-opacity="0.2" stroke-width="1.5"/>
<path d="M913 648Q1010 584 1107 648M1066 648Q1105 622 1144 648M990 738Q1009 726 1028 738M868 738Q1005 648 1142 738" stroke="#a87860" stroke-opacity="0.2" stroke-width="0.5"/>
<path d="M872 1100Q893 738 914 829M878 1009Q909 527 941 648M875 1009Q852 768 829 829M869 829Q890 587 911 648" stroke="#c0a890" stroke-opacity="0.3" stroke-width="1.0"/>
<path d="M528 829Q622 767 715 829M490 829Q624 740 759 829" stroke="#609090" stroke-opacity="0.3" stroke-width="1.0"/>
<path d="M1102 1009Q1059 165 1015 376M1107 738Q1103 257 1098 376M994 1100Q1030 136 1065 376M1031 1100Q1023 137 1014 376" stroke="#c09078" stroke-opacity="0.3" stroke-width="1.0"/>
<path d="M1146 1009Q1128 768 1110 829M1140 738Q1111 613 1082 648M1113 829Q1092 587 1070 648M1188 738Q1145 607 1102 648" stroke="#c09090" stroke-opacity="0.2" stroke-width="1.0"/>
<path d="M472 467Q484 459 497 467M412 467Q510 402 609 467M472 467Q484 459 497 467M417 467Q439 452 461 467" stroke="#6078a8" stroke-opacity="0.3" stroke-width="1.5"/>
<path d="M1027 286Q1134 215 1242 286M914 286Q992 235 1069 286M1094 286Q1177 231 1260 286" stroke="#a87878" stroke-opacity="0.3" stroke-width="0.5"/>
<path d="M1222 376Q1242 363 1261 376M1182 376Q1259 325 1336 376" stroke="#906060" stroke-opacity="0.3" stroke-width="1.0"/>
<path d="M606 467Q699 308 792 376M714 467Q753 337 791 376" stroke="#a8c0c0" stroke-opacity="0.4" stroke-width="1.0"/>
<path d="M1022 376Q1142 297 1261 376M1066 376Q1164 312 1261 376M1100 376Q1180 323 1261 376M1100 376Q1170 330 1240 376" stroke="#a86060" stroke-opacity="0.2" stroke-width="1.0"/>
<path d="M641 648Q624 525 607 557M650 829Q629 705 607 738M650 829Q630 347 611 467M570 829Q608 464 647 557" stroke="#78a8a8" stroke-opacity="0.2" stroke-width="0.5"/>
<path d="M698 738Q825 654 952 738M682 738Q798 661 914 738" stroke="#909090" stroke-opacity="0.4" stroke-width="0.5"/>
<path d="M639 829Q714 779 790 829M648 829Q719 782 790 829" stroke="#789090" stroke-opacity="0.2" stroke-width="0.5"/>
<path d="M390 919Q477 862 564 919M414 919Q438 903 463 919M298 919Q318 906 338 919M463 919Q592 834 721 919" stroke="#a8a8c0" stroke-opacity="0.4" stroke-width="1.0"/>
<path d="M1101 286Q1122 272 1142 286M949 286Q988 260 1027 286" stroke="#a87878" stroke-opacity="0.2" stroke-width="1.0"/>
<path d="M528 557Q586 518 645 557" stroke="#7878a8" stroke-opacity="0.4" stroke-width="1.5"/>
<path d="M562 919Q605 788 648 829M566 919Q606 789 646 829" stroke="#78a8a8" stroke-opacity="0.2" stroke-width="1.0"/>
<path d="M1074 286Q1158 231 1242 286" stroke="#906060" stroke-opacity="0.3" stroke-width="1.5"/>
<path d="M1188 648Q1176 166 1164 286M1181 738Q1211 255 1241 376M1177 829Q1223 223 1269 376M1180 829Q1199 226 1219 376" stroke="#c07878" stroke-opacity="0.3" stroke-width="1.0"/>
<path d="M1027 286Q1097 240 1167 286M1100 376Q1123 361 1146 376M1100 376Q1165 333 1230 376M1022 376Q1179 272 1336 376" stroke="#a86060" stroke-opacity="0.4" stroke-width="1.0"/>
<path d="M531 648Q520 407 509 467M490 829Q523 584 556 648M608 829Q586 347 563 467M474 919Q484 437 493 557" stroke="#a8a8c0" stroke-opacity="0.4" stroke-width="1.0"/>
<path d="M1100 376Q1141 349 1182 376M1066 376Q1164 312 1261 376M1066 376Q1164 312 1261 376" stroke="#a86060" stroke-opacity="0.3" stroke-width="1.0"/>
<path d="M639 829Q757 751 875 829M684 829Q780 766 875 829M759 829Q775 819 790 829M714 829Q755 582 796 648" stroke="#90a890" stroke-opacity="0.2" stroke-width="1.0"/>
<path d="M533 467Q704 354 875 467M645 557Q702 519 760 557M606 557Q683 506 760 557M536 648Q666 562 797 648" stroke="#789090" stroke-opacity="0.3" stroke-width="1.0"/>
<path d="M790 376Q945 274 1100 376M917 376Q933 366 949 376M949 376Q969 362 990 376M605 738Q932 523 1258 738" stroke="#a89078" stroke-opacity="0.2" stroke-width="0.5"/>
<path d="M924 286Q1033 214 1142 286M990 286Q1008 274 1027 286" stroke="#a89090" stroke-opacity="0.4" stroke-width="1.0"/>
<path d="M1027 286Q1100 238 1173 286M1189 1100Q1221 617 1252 738M1258 1009Q1218 645 1179 738M1256 1009Q1217 645 1177 738" stroke="#a89090" stroke-opacity="0.2" stroke-width="1.0"/>
<path d="M1106 1100Q1082 137 1059 376M1104 738Q1105 137 1105 286M1077 648Q1073 286 1068 376M1104 829Q1086 106 1068 286" stroke="#c09078" stroke-opacity="0.2" stroke-width="1.5"/>
<path d="M872 467Q947 318 1022 376M925 829Q921 107 917 286M957 738Q974 256 990 376M989 1100Q968 17 947 286" stroke="#c09090" stroke-opacity="0.3" stroke-width="1.0"/>
<path d="M644 467Q702 429 760 467M611 557Q704 496 798 557M644 648Q716 600 788 648" stroke="#789090" stroke-opacity="0.4" stroke-width="0.5"/>
<path d="M873 829Q864 588 855 648M875 829Q828 344 782 467M836 829Q851 706 866 738M869 738Q908 254 946 376" stroke="#a8a890" stroke-opacity="0.2" stroke-width="1.0"/>
<path d="M790 376Q906 299 1022 376M868 376Q945 325 1022 376" stroke="#a89078" stroke-opacity="0.4" stroke-width="0.5"/>
<path d="M311 919Q350 893 390 919M311 919Q421 847 530 919M390 919Q426 895 463 919M298 919Q431 831 564 919" stroke="#a8a8c0" stroke-opacity="0.5" stroke-width="1.5"/>
<path d="M396 467Q446 434 497 467M299 467Q432 379 565 467M497 467Q515 455 533 467M452 467Q492 441 532 467" stroke="#6078a8" stroke-opacity="0.3" stroke-width="1.5"/>
<path d="M790 376Q869 324 949 376M868 376Q945 325 1022 376M948 648Q989 621 1030 648M875 648Q952 597 1030 648" stroke="#a89078" stroke-opacity="0.2" stroke-width="1.0"/>
<path d="M787 829Q850 575 913 648M1031 738Q973 600 916 648M953 829Q857 668 762 738M951 738Q833 565 716 648" stroke="#a8a890" stroke-opacity="0.2" stroke-width="1.0"/>
<path d="M1028 738Q1085 700 1142 738" stroke="#a87860" stroke-opacity="0.2" stroke-width="1.5"/>
<path d="M875 1190Q874 710 873 829M682 1190Q691 589 701 738M877 1190Q877 949 876 1009M718 1190Q705 710 692 829" stroke="#a8a8a8" stroke-opacity="0.3" stroke-width="0.5"/>
<path d="M1108 829Q1085 226 1062 376M1019 1009Q1057 166 1096 376M1028 738Q1008 256 988 376M1065 738Q1041 255 1016 376" stroke="#c09078" stroke-opacity="0.3" stroke-width="1.0"/>
<path d="M533 467Q614 414 695 467M644 467Q667 452 690 467" stroke="#7890a8" stroke-opacity="0.5" stroke-width="2.0"/>
<path d="M872 829Q837 700 802 738M789 648Q832 401 875 467M918 829Q934 226 950 376M835 738Q821 617 807 648" stroke="#a8a890" stroke-opacity="0.2" stroke-width="0.5"/>
<path d="M647 648Q667 406 688 467M717 829Q718 467 719 557M650 829Q669 347 688 467M692 829Q668 346 644 467" stroke="#90a8a8" stroke-opacity="0.2" stroke-width="1.0"/>
<path d="M644 467Q682 442 719 467M695 467Q707 459 719 467M565 467Q720 365 875 467M644 467Q722 416 800 467" stroke="#789090" stroke-opacity="0.4" stroke-width="1.0"/>
<path d="M569 648Q746 531 924 648M719 648Q833 573 948 648M807 648Q832 632 856 648M698 738Q825 654 952 738" stroke="#909090" stroke-opacity="0.3" stroke-width="1.0"/>
<path d="M606 557Q626 544 645 557M645 557Q664 545 682 557" stroke="#7890a8" stroke-opacity="0.3" stroke-width="2.0"/>
<path d="M1002 1100Q973 738 944 829M1029 1100Q987 615 945 738M876 1100Q873 740 870 829" stroke="#c0a890" stroke-opacity="0.2" stroke-width="0.5"/>
<path d="M924 286Q1033 214 1142 286" stroke="#a86060" stroke-opacity="0.4" stroke-width="1.5"/>
<path d="M1150 1100Q1170 17 1189 286M1183 829Q1213 106 1243 286M1225 648Q1242 286 1259 376M1139 1100Q1122 137 1106 376" stroke="#c07878" stroke-opacity="0.2" stroke-width="1.0"/>
<path d="M529 919Q541 558 554 648M556 648Q602 514 648 557M640 829Q596 463 553 557" stroke="#7890a8" stroke-opacity="0.1" stroke-width="1.0"/>
<path d="M1089 286Q1131 258 1173 286M1101 286Q1144 257 1188 286M1230 376Q1246 366 1261 376M1144 648Q1201 610 1259 648" stroke="#906060" stroke-opacity="0.4" stroke-width="1.0"/>
<path d="M533 467Q608 418 683 467M564 557Q605 530 645 557" stroke="#7878a8" stroke-opacity="0.4" stroke-width="2.0"/>
<path d="M684 829Q649 464 614 557M682 919Q647 316 612 467M719 919Q720 438 721 557M695 829Q705 707 716 738" stroke="#90a8a8" stroke-opacity="0.1" stroke-width="1.0"/>
<path d="M452 829Q490 804 528 829" stroke="#606090" stroke-opacity="0.2" stroke-width="0.5"/>
<path d="M690 467Q723 339 757 376M716 829Q718 588 719 648M651 829Q705 460 760 557M715 738Q664 489 614 557" stroke="#90a8a8" stroke-opacity="0.2" stroke-width="1.0"/>
<path d="M1106 1100Q1134 1081 1163 1100M1106 1100Q1145 1074 1184 1100M875 1100Q1048 986 1220 1100M1029 1100Q1096 1056 1163 1100" stroke="#c0a8a8" stroke-opacity="0.4" stroke-width="1.0"/>
<path d="M337 467Q490 366 644 467M376 467Q454 416 532 467M507 467Q536 448 565 467M507 467Q520 458 533 467" stroke="#6078a8" stroke-opacity="0.3" stroke-width="1.5"/>
<path d="M417 467Q491 418 565 467M396 467Q543 370 690 467M497 467Q552 430 608 467M299 467Q454 365 608 467" stroke="#6078a8" stroke-opacity="0.4" stroke-width="2.0"/>
<path d="M414 919Q434 906 453 919M564 919Q642 867 721 919" stroke="#a890c0" stroke-opacity="0.5" stroke-width="1.5"/>
<path d="M1262 1009Q1263 47 1265 286M1251 738Q1246 137 1242 286M1222 1009Q1239 167 1257 376M1189 738Q1222 255 1254 376" stroke="#c07878" stroke-opacity="0.2" stroke-width="1.0"/>
<path d="M338 557Q376 532 414 557" stroke="#7860a8" stroke-opacity="0.4" stroke-width="1.0"/>
<path d="M1066 1100Q1110 1071 1153 1100M875 1100Q990 1024 1106 1100M1153 1100Q1186 1078 1220 1100" stroke="#c09090" stroke-opacity="0.5" stroke-width="1.0"/>
<path d="M868 376Q1025 273 1182 376M868 376Q1065 246 1261 376M868 376Q1025 273 1182 376M1022 376Q1044 361 1066 376" stroke="#a87860" stroke-opacity="0.2" stroke-width="1.0"/>
<path d="M1144 738Q1185 254 1225 376M1174 829Q1208 225 1243 376M1143 738Q1160 256 1178 376M1186 1009Q1206 167 1227 376" stroke="#c07878" stroke-opacity="0.2" stroke-width="1.0"/>
<path d="M1027 1009Q1011 167 994 376M1035 1009Q1026 167 1016 376M1064 1100Q984 131 905 376M1103 648Q1081 285 1059 376" stroke="#c09078" stroke-opacity="0.3" stroke-width="1.0"/>
<path d="M385 557Q553 446 721 557M452 557Q586 468 721 557M567 829Q603 805 639 829" stroke="#607890" stroke-opacity="0.4" stroke-width="1.0"/>
<path d="M1120 286Q1150 267 1179 286M1161 286Q1204 257 1248 286M931 286Q1080 188 1228 286M949 286Q1081 199 1213 286" stroke="#a87878" stroke-opacity="0.3" stroke-width="1.0"/>
<path d="M606 467Q696 310 785 376M565 467Q662 305 759 376M691 467Q727 338 763 376" stroke="#90c0c0" stroke-opacity="0.3" stroke-width="1.5"/>
<path d="M488 919Q585 855 682 919M453 919Q587 831 721 919" stroke="#9090c0" stroke-opacity="0.5" stroke-width="1.0"/>
<path d="M490 829Q640 730 790 829M607 829Q623 818 639 829" stroke="#609090" stroke-opacity="0.4" stroke-width="1.0"/>
<path d="M297 557Q345 525 394 557" stroke="#7860a8" stroke-opacity="0.3" stroke-width="1.0"/>
<path d="M1026 829Q1028 227 1029 376" stroke="#c09078" stroke-opacity="0.2" stroke-width="1.0"/>
<path d="M464 919Q515 433 566 557" stroke="#7890a8" stroke-opacity="0.3" stroke-width="1.0"/>
<path d="M931 286Q1021 227 1111 286M949 286Q1092 192 1235 286M1027 286Q1143 209 1260 286M1188 286Q1224 262 1260 286" stroke="#906060" stroke-opacity="0.5" stroke-width="1.0"/>
<path d="M1142 286Q1152 280 1161 286" stroke="#904848" stroke-opacity="0.3" stroke-width="0.5"/>
<path d="M497 467Q608 394 719 467M497 467Q640 373 782 467M570 557Q646 507 721 557M568 738Q633 695 698 738" stroke="#609090" stroke-opacity="0.3" stroke-width="0.5"/>
<path d="M1120 286Q1224 217 1328 286M1079 286Q1117 261 1155 286M1027 286Q1094 242 1161 286M1259 286Q1336 236 1412 286" stroke="#a87878" stroke-opacity="0.5" stroke-width="1.0"/>
<path d="M875 1100Q935 1060 995 1100M1078 1100Q1168 1040 1259 1100M1153 1100Q1168 1090 1184 1100M1106 1100Q1182 1050 1259 1100" stroke="#c0a8a8" stroke-opacity="0.4" stroke-width="1.0"/>
<path d="M1022 376Q1061 350 1100 376M1022 376Q1061 350 1100 376M913 376Q1048 287 1182 376M913 376Q1072 271 1230 376" stroke="#a87860" stroke-opacity="0.4" stroke-width="1.0"/>
<path d="M1183 1100Q1259 1050 1335 1100" stroke="#901848" stroke-opacity="0.8" stroke-width="1.0"/>
<path d="M694 829Q669 466 645 557M683 829Q665 587 646 648M699 738Q673 495 646 557M680 919Q719 195 757 376" stroke="#90a8a8" stroke-opacity="0.2" stroke-width="1.0"/>
<path d="M488 467Q604 391 719 467M338 557Q549 418 760 557" stroke="#607890" stroke-opacity="0.3" stroke-width="0.5"/>
<path d="M1142 286Q1182 260 1221 286" stroke="#a87878" stroke-opacity="0.4" stroke-width="1.5"/>
<path d="M954 1009Q943 47 931 286M992 738Q950 253 909 376M906 648Q931 285 955 376M984 829Q951 225 917 376" stroke="#c09090" stroke-opacity="0.3" stroke-width="1.0"/>
<path d="M1034 1009Q972 163 909 376M1000 1100Q954 135 909 376M871 467Q906 338 942 376M982 1100Q947 136 911 376" stroke="#c09090" stroke-opacity="0.2" stroke-width="1.0"/>
<path d="M507 467Q597 408 686 467" stroke="#7878a8" stroke-opacity="0.3" stroke-width="2.0"/>
<path d="M1143 1100Q1239 1037 1335 1100" stroke="#903048" stroke-opacity="0.7" stroke-width="1.5"/>
<path d="M1177 738Q1156 615 1136 648M1186 1009Q1145 764 1104 829" stroke="#c09090" stroke-opacity="0.3" stroke-width="1.0"/>
<path d="M394 557Q404 550 414 557M297 557Q394 493 491 557" stroke="#7860a8" stroke-opacity="0.3" stroke-width="1.5"/>
<path d="M1080 648Q1094 639 1107 648M948 648Q1064 571 1181 648M952 738Q1067 662 1183 738M1028 738Q1105 687 1183 738" stroke="#a87860" stroke-opacity="0.2" stroke-width="1.0"/>
<path d="M394 648Q462 603 529 648" stroke="#606090" stroke-opacity="0.3" stroke-width="1.5"/>
<path d="M720 376Q794 327 868 376M695 467Q785 408 875 467M800 467Q838 442 875 467M644 738Q798 636 952 738" stroke="#909090" stroke-opacity="0.2" stroke-width="1.0"/>
<path d="M782 467Q828 436 875 467M773 648Q785 640 797 648M644 648Q796 548 948 648M780 648Q828 617 875 648" stroke="#909090" stroke-opacity="0.3" stroke-width="1.0"/>
<path d="M868 376Q945 325 1022 376M790 376Q928 285 1066 376M868 376Q945 325 1022 376M790 376Q945 274 1100 376" stroke="#a89078" stroke-opacity="0.2" stroke-width="1.0"/>
<path d="M488 467Q624 377 760 467M472 557Q635 450 798 557M491 557Q606 481 721 557M490 829Q640 730 790 829" stroke="#609090" stroke-opacity="0.3" stroke-width="1.0"/>
<path d="M414 557Q492 505 570 557M414 557Q548 468 682 557M324 557Q468 462 611 557M491 557Q515 541 539 557" stroke="#6078a8" stroke-opacity="0.3" stroke-width="2.0"/>
<path d="M639 829Q677 804 715 829M648 829Q682 807 715 829M607 829Q661 793 715 829M607 829Q661 793 715 829" stroke="#789090" stroke-opacity="0.3" stroke-width="1.0"/>
<path d="M532 467Q657 384 782 467M553 557Q656 489 760 557" stroke="#609090" stroke-opacity="0.4" stroke-width="0.5"/>
<path d="M1084 286Q1132 255 1179 286M1149 286Q1228 234 1307 286M1256 648Q1258 286 1260 376" stroke="#a87878" stroke-opacity="0.3" stroke-width="1.5"/>
<path d="M1101 286Q1220 207 1339 286M949 286Q988 260 1027 286M943 286Q1049 216 1155 286" stroke="#904848" stroke-opacity="0.2" stroke-width="1.0"/>
<path d="M920 738Q957 135 993 286M873 1100Q935 134 997 376M880 1100Q916 136 952 376M873 648Q901 165 930 286" stroke="#c09090" stroke-opacity="0.2" stroke-width="1.0"/>
<path d="M376 467Q418 439 461 467M297 557Q430 469 564 557" stroke="#6060a8" stroke-opacity="0.4" stroke-width="1.5"/>
<path d="M872 1100Q866 618 860 738M913 1009Q895 768 876 829M869 1100Q909 616 950 738M883 829Q879 588 875 648" stroke="#c0a890" stroke-opacity="0.2" stroke-width="1.0"/>
<path d="M797 738Q741 370 686 467M802 738Q760 373 718 467M722 919Q742 677 761 738" stroke="#90a890" stroke-opacity="0.2" stroke-width="0.5"/>
<path d="M868 376Q984 300 1100 376M790 376Q945 274 1100 376M868 376Q967 311 1066 376M760 376Q891 289 1022 376" stroke="#a89078" stroke-opacity="0.3" stroke-width="1.0"/>
<path d="M719 648Q763 619 807 648M800 738Q762 492 723 557M764 738Q781 616 798 648M761 829Q727 345 693 467" stroke="#90a890" stroke-opacity="0.3" stroke-width="1.0"/>
<path d="M681 919Q644 790 606 829M566 919Q603 790 641 829" stroke="#a8a8c0" stroke-opacity="0.4" stroke-width="1.0"/>
<path d="M790 376Q854 334 917 376M605 648Q856 482 1107 648" stroke="#909078" stroke-opacity="0.3" stroke-width="1.0"/>
<path d="M924 286Q1036 212 1149 286M1248 286Q1288 260 1328 286M1221 286Q1264 258 1307 286M1120 286Q1218 221 1317 286" stroke="#904848" stroke-opacity="0.3" stroke-width="1.0"/>
<path d="M955 829Q952 708 948 738M983 1100Q953 497 922 648M880 1100Q878 619 875 738" stroke="#c0a890" stroke-opacity="0.3" stroke-width="1.0"/>
<path d="M607 829Q857 664 1108 829" stroke="#909078" stroke-opacity="0.4" stroke-width="1.0"/>
<path d="M868 376Q929 336 990 376M760 376Q891 289 1022 376M949 376Q985 352 1022 376M914 738Q952 713 990 738" stroke="#a89078" stroke-opacity="0.3" stroke-width="1.5"/>
<path d="M720 376Q819 311 917 376" stroke="#909090" stroke-opacity="0.3" stroke-width="1.5"/>
<path d="M639 829Q714 779 790 829" stroke="#789090" stroke-opacity="0.3" stroke-width="0.5"/>
<path d="M1094 286Q1164 239 1235 286" stroke="#a87878" stroke-opacity="0.5" stroke-width="0.5"/>
<path d="M1027 286Q1094 242 1161 286" stroke="#a87878" stroke-opacity="0.4" stroke-width="1.0"/>
<path d="M607 467Q681 319 755 376" stroke="#90a8a8" stroke-opacity="0.4" stroke-width="1.0"/>
<path d="M869 1100Q867 619 865 738M875 1009Q896 528 917 648M877 1100Q915 616 953 738M905 1009Q889 648 873 738" stroke="#c0a890" stroke-opacity="0.3" stroke-width="1.0"/>
<path d="M390 919Q402 911 414 919M298 919Q393 856 488 919M476 919Q520 890 564 919M311 919Q438 836 564 919" stroke="#a8a8c0" stroke-opacity="0.4" stroke-width="1.5"/>
<path d="M473 829Q521 462 569 557M486 919Q526 316 565 467M608 648Q587 524 566 557" stroke="#7890a8" stroke-opacity="0.2" stroke-width="0.5"/>
<path d="M680 919Q646 436 613 557M679 738Q701 495 724 557M720 648Q707 407 693 467M718 648Q682 403 646 467" stroke="#90a8a8" stroke-opacity="0.2" stroke-width="1.5"/>
<path d="M1101 286Q1140 260 1179 286M1022 376Q1165 282 1308 376M1100 376Q1141 349 1182 376M1100 376Q1141 349 1182 376" stroke="#a86060" stroke-opacity="0.3" stroke-width="1.0"/>
<path d="M529 467Q643 295 758 376M646 557Q704 305 761 376M714 467Q752 337 789 376M495 557Q645 261 794 376" stroke="#a8c0c0" stroke-opacity="0.4" stroke-width="1.5"/>
<path d="M1154 1100Q1245 1040 1335 1100" stroke="#903060" stroke-opacity="0.6" stroke-width="1.5"/>
<path d="M1260 286Q1299 260 1339 286M1064 286Q1074 279 1084 286M1069 286Q1145 236 1221 286M990 286Q1055 243 1120 286" stroke="#a87878" stroke-opacity="0.4" stroke-width="1.0"/>
<path d="M690 467Q783 406 875 467M764 738Q782 726 799 738" stroke="#90a890" stroke-opacity="0.4" stroke-width="1.0"/>
<path d="M943 286Q1014 239 1084 286M1142 286Q1235 225 1328 286M1027 286Q1138 213 1248 286M1179 286Q1219 259 1260 286" stroke="#906060" stroke-opacity="0.4" stroke-width="1.0"/>
<path d="M993 1100Q966 17 940 286M1033 1100Q1050 618 1068 738M1187 1009Q1145 763 1103 829M1100 738Q1139 609 1179 648" stroke="#c09090" stroke-opacity="0.2" stroke-width="1.0"/>
<path d="M717 829Q682 584 647 648M727 738Q710 377 693 467" stroke="#90a8a8" stroke-opacity="0.1" stroke-width="0.5"/>
<path d="M787 829Q793 347 799 467M993 738Q934 599 876 648M807 648Q802 527 797 557M790 829Q812 586 835 648" stroke="#a8a890" stroke-opacity="0.1" stroke-width="1.0"/>
<path d="M719 919Q776 781 834 829M858 648Q750 480 642 557M714 829Q775 576 835 648" stroke="#90a890" stroke-opacity="0.3" stroke-width="1.0"/>
<path d="M916 738Q856 485 795 557" stroke="#a8a890" stroke-opacity="0.1" stroke-width="1.5"/>
<path d="M690 467Q783 406 875 467M644 467Q760 391 875 467M719 648Q778 609 837 648M766 648Q782 638 797 648" stroke="#90a890" stroke-opacity="0.3" stroke-width="1.0"/>
<path d="M1101 286Q1131 266 1161 286M1101 286Q1174 237 1248 286M1228 286Q1235 281 1242 286M949 286Q1061 212 1173 286" stroke="#a89090" stroke-opacity="0.3" stroke-width="1.0"/>
<path d="M875 1100Q1014 1008 1153 1100M995 1100Q1089 1038 1184 1100" stroke="#c0a8a8" stroke-opacity="0.6" stroke-width="1.0"/>
<path d="M722 919Q720 559 718 648M719 919Q718 318 717 467M723 919Q704 437 684 557M683 738Q648 493 613 557" stroke="#90a8a8" stroke-opacity="0.1" stroke-width="1.0"/>
<path d="M913 1009Q1047 920 1182 1009M1219 1009Q1238 996 1258 1009M1022 1009Q1140 931 1258 1009M1105 1009Q1144 984 1182 1009" stroke="#a8a8a8" stroke-opacity="0.5" stroke-width="1.0"/>
<path d="M951 1009Q1028 958 1105 1009M644 1009Q778 920 913 1009M313 1009Q343 989 374 1009M338 1009Q356 997 374 1009" stroke="#a8a8a8" stroke-opacity="0.5" stroke-width="1.0"/>
<path d="M715 738Q757 607 799 648M878 648Q763 475 648 557M877 648Q763 476 648 557M946 648Q758 429 570 557" stroke="#90a890" stroke-opacity="0.2" stroke-width="1.5"/>
<path d="M877 1009Q895 768 913 829M863 738Q852 617 842 648M988 1009Q990 770 993 829M875 1100Q903 498 931 648" stroke="#c0a890" stroke-opacity="0.3" stroke-width="1.0"/>
<path d="M953 738Q973 136 994 286M925 829Q931 107 937 286M959 829Q950 226 942 376" stroke="#c09090" stroke-opacity="0.3" stroke-width="1.5"/>
<path d="M497 467Q553 430 609 467M417 467Q530 392 644 467M528 557Q540 549 553 557M324 557Q485 451 645 557" stroke="#6078a8" stroke-opacity="0.3" stroke-width="1.0"/>
<path d="M1258 1009Q1258 649 1258 738M1025 829Q987 699 950 738M993 829Q971 705 949 738M1001 648Q956 282 912 376" stroke="#a89090" stroke-opacity="0.2" stroke-width="1.0"/>
<path d="M689 467Q741 331 793 376M458 467Q622 264 785 376M567 467Q677 297 788 376M606 467Q737 285 867 376" stroke="#90a8c0" stroke-opacity="0.3" stroke-width="1.5"/>
<path d="M868 376Q909 350 949 376M799 738Q875 688 952 738M868 738Q929 698 990 738M875 829Q933 791 992 829" stroke="#a89078" stroke-opacity="0.3" stroke-width="0.5"/>
<path d="M559 557Q675 279 791 376M647 557Q760 281 873 376M719 467Q795 317 871 376M640 467Q713 319 786 376" stroke="#90a8c0" stroke-opacity="0.2" stroke-width="1.5"/>
<path d="M989 738Q898 581 808 648M641 829Q817 618 992 738M868 738Q794 591 720 648M684 919Q838 620 992 738" stroke="#a8a890" stroke-opacity="0.2" stroke-width="1.0"/>
<path d="M1015 1009Q981 527 946 648M880 1009Q919 764 959 829M870 1100Q852 618 834 738M873 1009Q916 644 960 738" stroke="#c0a890" stroke-opacity="0.3" stroke-width="1.0"/>
<path d="M876 1009Q900 166 925 376M833 467Q879 333 925 376M799 557Q876 183 953 286M881 1009Q903 167 924 376" stroke="#c0a890" stroke-opacity="0.2" stroke-width="1.0"/>
<path d="M452 467Q664 327 875 467M644 467Q682 442 719 467M719 467Q740 453 760 467M609 467Q742 379 875 467" stroke="#789090" stroke-opacity="0.3" stroke-width="1.0"/>
<path d="M609 829Q588 466 566 557M569 648Q530 518 492 557M314 1009Q309 408 303 557M410 829Q412 467 414 557" stroke="#a8a8c0" stroke-opacity="0.5" stroke-width="1.0"/>
<path d="M1212 1009Q1219 167 1226 376M1148 648Q1119 165 1090 286M1138 738Q1136 137 1135 286M1258 1009Q1262 167 1266 376" stroke="#c07878" stroke-opacity="0.2" stroke-width="1.5"/>
<path d="M488 919Q526 894 564 919M338 919Q451 844 564 919M414 919Q489 870 564 919M390 919Q402 911 414 919" stroke="#a8a8c0" stroke-opacity="0.4" stroke-width="1.0"/>
<path d="M305 557Q314 551 324 557M324 557Q369 527 414 557" stroke="#7860a8" stroke-opacity="0.4" stroke-width="2.0"/>
<path d="M949 738Q904 606 858 648M866 738Q816 604 767 648M1023 829Q860 627 698 738M788 829Q890 664 993 738" stroke="#a8a890" stroke-opacity="0.2" stroke-width="1.0"/>
<path d="M719 648Q874 545 1030 648M788 648Q909 568 1030 648M529 648Q874 420 1220 648M719 648Q931 508 1144 648" stroke="#a89078" stroke-opacity="0.3" stroke-width="1.0"/>
<path d="M311 919Q382 872 453 919M298 919Q356 881 414 919M298 919Q318 906 338 919M488 919Q526 894 564 919" stroke="#a8a8c0" stroke-opacity="0.4" stroke-width="1.5"/>
<path d="M338 829Q414 779 490 829M338 829Q493 727 648 829M319 829Q395 779 471 829" stroke="#606090" stroke-opacity="0.3" stroke-width="1.0"/>
<path d="M718 557Q756 311 795 376" stroke="#90a8c0" stroke-opacity="0.2" stroke-width="1.0"/>
<path d="M761 829Q818 342 876 467M866 738Q824 373 782 467M952 738Q932 615 912 648M870 738Q838 612 806 648" stroke="#a8a890" stroke-opacity="0.3" stroke-width="1.0"/>
<path d="M605 829Q685 677 765 738M562 919Q675 749 788 829M721 919Q682 789 642 829M876 829Q721 632 566 738" stroke="#90a8a8" stroke-opacity="0.2" stroke-width="1.0"/>
<path d="M568 738Q606 713 644 738M471 829Q630 724 790 829M607 829Q628 815 648 829" stroke="#609090" stroke-opacity="0.2" stroke-width="1.0"/>
<path d="M861 738Q889 255 917 376" stroke="#c0a890" stroke-opacity="0.3" stroke-width="1.5"/>
<path d="M797 829Q836 698 876 738" stroke="#c0a8a8" stroke-opacity="0.3" stroke-width="1.0"/>
<path d="M924 286Q976 252 1027 286" stroke="#a87878" stroke-opacity="0.5" stroke-width="1.5"/>
<path d="M1213 286Q1230 274 1248 286M1027 286Q1167 194 1307 286M931 286Q940 280 949 286M1027 286Q1143 209 1260 286" stroke="#906060" stroke-opacity="0.3" stroke-width="1.0"/>
<path d="M533 467Q704 354 875 467" stroke="#789090" stroke-opacity="0.2" stroke-width="1.5"/>
<path d="M1225 286Q1318 224 1412 286" stroke="#904848" stroke-opacity="0.7" stroke-width="1.5"/>
<path d="M797 648Q795 286 792 376M762 829Q816 222 869 376M950 648Q908 282 866 376M952 829Q905 581 858 648" stroke="#a8a890" stroke-opacity="0.2" stroke-width="1.0"/>
<path d="M645 557Q682 311 720 376M757 557Q771 316 785 376M606 467Q737 284 869 376M529 467Q700 259 871 376" stroke="#a8c0c0" stroke-opacity="0.4" stroke-width="1.5"/>
<path d="M719 467Q797 416 875 467M807 648Q822 638 837 648M807 648Q832 632 856 648M644 648Q816 534 989 648" stroke="#909090" stroke-opacity="0.4" stroke-width="1.0"/>
<path d="M337 467Q399 426 461 467M337 467Q374 442 412 467M396 467Q406 460 417 467M376 467Q386 460 396 467" stroke="#7860a8" stroke-opacity="0.3" stroke-width="1.5"/>
<path d="M952 738Q1047 675 1142 738M952 738Q1067 662 1183 738" stroke="#a87860" stroke-opacity="0.4" stroke-width="1.0"/>
<path d="M374 1009Q509 920 644 1009M338 1009Q356 997 374 1009M683 1190Q702 1177 721 1190M644 1190Q740 1127 836 1190" stroke="#a8a8a8" stroke-opacity="0.4" stroke-width="1.0"/>
<path d="M414 557Q567 456 721 557" stroke="#607890" stroke-opacity="0.2" stroke-width="1.5"/>
<path d="M566 919Q624 313 681 467M643 738Q605 492 567 557M564 919Q623 550 683 648M682 829Q622 341 562 467" stroke="#78a8a8" stroke-opacity="0.2" stroke-width="1.0"/>
<path d="M642 738Q704 597 766 648M716 738Q644 592 572 648M646 829Q724 678 802 738M530 919Q699 612 867 738" stroke="#90a8a8" stroke-opacity="0.2" stroke-width="1.0"/>
<path d="M1101 286Q1214 211 1328 286M1027 286Q1120 225 1213 286M1242 286Q1251 280 1260 286M1027 286Q1108 233 1188 286" stroke="#906060" stroke-opacity="0.4" stroke-width="1.0"/>
<path d="M759 829Q855 766 951 829" stroke="#909078" stroke-opacity="0.3" stroke-width="0.5"/>
<path d="M868 376Q945 325 1022 376M868 376Q909 350 949 376M868 376Q909 350 949 376M868 376Q945 325 1022 376" stroke="#a89078" stroke-opacity="0.3" stroke-width="0.5"/>
<path d="M914 286Q970 249 1027 286M1222 376Q1231 370 1240 376" stroke="#906060" stroke-opacity="0.4" stroke-width="0.5"/>
<path d="M463 919Q497 897 530 919M311 919Q438 836 564 919M338 919Q413 870 488 919M298 919Q318 906 338 919" stroke="#a8a8c0" stroke-opacity="0.5" stroke-width="1.5"/>
<path d="M1101 286Q1172 239 1242 286" stroke="#904848" stroke-opacity="0.3" stroke-width="1.0"/>
<path d="M788 829Q745 696 701 738M716 829Q739 347 761 467M925 648Q785 460 646 557M859 648Q752 480 645 557" stroke="#90a890" stroke-opacity="0.2" stroke-width="1.5"/>
<path d="M567 1190Q586 1177 606 1190M567 1190Q625 1152 683 1190M644 1190Q663 1177 683 1190M606 1190Q740 1101 874 1190" stroke="#a8a8a8" stroke-opacity="0.4" stroke-width="1.0"/>
<path d="M639 829Q757 751 875 829M722 919Q780 313 838 467M695 738Q738 607 780 648M799 738Q778 615 758 648" stroke="#90a890" stroke-opacity="0.2" stroke-width="0.5"/>
<path d="M1022 376Q1102 323 1182 376M868 376Q1007 285 1146 376M868 376Q1065 246 1261 376M949 376Q1065 299 1182 376" stroke="#a87860" stroke-opacity="0.3" stroke-width="1.0"/>
<path d="M794 557Q871 298 948 376M803 557Q873 300 944 376M799 467Q869 210 939 286" stroke="#c0a890" stroke-opacity="0.2" stroke-width="1.5"/>
<path d="M764 738Q782 726 799 738M685 829Q743 690 800 738" stroke="#90a890" stroke-opacity="0.3" stroke-width="0.5"/>
<path d="M412 648Q474 607 536 648M413 829Q451 804 490 829" stroke="#606090" stroke-opacity="0.4" stroke-width="1.0"/>
<path d="M489 829Q547 459 605 557M534 648Q591 509 648 557M492 829Q550 689 608 738M531 919Q585 783 639 829" stroke="#7890a8" stroke-opacity="0.2" stroke-width="1.0"/>
<path d="M762 738Q741 376 719 467M800 648Q759 517 719 557M792 829Q757 345 721 467M764 738Q723 491 681 557" stroke="#90a890" stroke-opacity="0.1" stroke-width="1.0"/>
<path d="M488 829Q450 583 411 648M453 829Q463 347 472 467M395 648Q353 516 312 557" stroke="#a8a8c0" stroke-opacity="0.5" stroke-width="1.0"/>
<path d="M713 829Q741 703 768 738M766 738Q742 495 719 557M682 919Q726 672 770 738M718 829Q759 698 799 738" stroke="#90a890" stroke-opacity="0.2" stroke-width="1.0"/>
<path d="M312 1009Q325 1000 338 1009M312 1009Q343 989 374 1009M312 1009Q363 975 414 1009M312 1009Q401 950 490 1009" stroke="#a8a8a8" stroke-opacity="0.4" stroke-width="1.0"/>
<path d="M693 467Q782 310 871 376" stroke="#90a8c0" stroke-opacity="0.2" stroke-width="1.5"/>
<path d="M562 557Q677 279 793 376M538 467Q631 308 724 376M718 557Q753 312 788 376M449 467Q620 259 792 376" stroke="#90a8a8" stroke-opacity="0.4" stroke-width="1.0"/>
<path d="M488 467Q592 399 695 467M532 467Q607 417 683 467" stroke="#7878a8" stroke-opacity="0.4" stroke-width="1.0"/>
<path d="M874 829Q932 577 989 648M950 829Q877 572 805 648M720 919Q835 748 950 829M718 919Q835 747 951 829" stroke="#a8a890" stroke-opacity="0.3" stroke-width="1.0"/>
<path d="M1106 1100Q1221 1024 1335 1100" stroke="#781848" stroke-opacity="0.6" stroke-width="1.5"/>
<path d="M1188 1009Q1150 764 1111 829M1028 1009Q1045 648 1063 738M1027 829Q1031 588 1036 648M1219 1009Q1200 648 1180 738" stroke="#c09090" stroke-opacity="0.3" stroke-width="1.0"/>
<path d="M299 467Q432 379 565 467M461 467Q497 443 533 467M337 467Q473 377 609 467M507 467Q536 448 565 467" stroke="#6078a8" stroke-opacity="0.4" stroke-width="1.5"/>
<path d="M992 829Q1007 819 1023 829M1067 829Q1087 816 1108 829" stroke="#a87860" stroke-opacity="0.3" stroke-width="1.0"/>
<path d="M1027 286Q1043 275 1059 286M1155 286Q1192 262 1228 286M1179 286Q1296 209 1412 286M1027 286Q1138 213 1248 286" stroke="#a89090" stroke-opacity="0.4" stroke-width="1.0"/>
<path d="M1023 829Q1045 814 1067 829" stroke="#a87860" stroke-opacity="0.3" stroke-width="0.5"/>
<path d="M695 1190Q765 1144 836 1190M797 1190Q836 1164 874 1190M567 1190Q721 1089 874 1190M644 1190Q740 1127 836 1190" stroke="#a8a8a8" stroke-opacity="0.4" stroke-width="1.0"/>
<path d="M875 1100Q932 1062 989 1100M1106 1100Q1145 1074 1184 1100M989 1100Q1071 1046 1153 1100M1078 1100Q1120 1072 1163 1100" stroke="#c0a8a8" stroke-opacity="0.5" stroke-width="1.0"/>
<path d="M394 648Q691 452 989 648M568 738Q718 639 868 738M639 829Q737 764 836 829M693 829Q742 797 790 829" stroke="#789090" stroke-opacity="0.3" stroke-width="1.0"/>
<path d="M1222 376Q1259 352 1296 376M1182 376Q1222 350 1261 376M1146 376Q1203 338 1261 376M1261 376Q1284 360 1308 376" stroke="#906060" stroke-opacity="0.3" stroke-width="1.0"/>
<path d="M1173 829Q1181 226 1188 376M1146 1100Q1162 137 1179 376M1160 1100Q1202 135 1245 376M1109 829Q1172 221 1236 376" stroke="#c07878" stroke-opacity="0.2" stroke-width="1.0"/>
<path d="M873 648Q856 286 840 376M914 738Q855 486 796 557M788 829Q828 224 868 376M761 829Q856 669 950 738" stroke="#a8a890" stroke-opacity="0.3" stroke-width="1.0"/>
<path d="M719 648Q788 603 856 648M799 738Q834 715 868 738M714 738Q791 687 868 738M790 829Q833 801 875 829" stroke="#909090" stroke-opacity="0.4" stroke-width="1.0"/>
<path d="M562 919Q676 748 790 829M566 919Q721 722 876 829M720 919Q679 789 638 829M562 919Q676 748 791 829" stroke="#90a8a8" stroke-opacity="0.2" stroke-width="1.5"/>
<path d="M1184 1100Q1260 1050 1335 1100" stroke="#a84860" stroke-opacity="0.7" stroke-width="1.5"/>
<path d="M567 738Q626 370 684 467M553 648Q598 515 643 557M530 919Q587 668 644 738M565 919Q606 789 647 829" stroke="#78a8a8" stroke-opacity="0.3" stroke-width="1.0"/>
<path d="M992 829Q1086 766 1181 829M992 829Q1029 804 1067 829M1023 829Q1065 801 1108 829" stroke="#a87860" stroke-opacity="0.2" stroke-width="1.0"/>
<path d="M1101 286Q1180 234 1260 286M1062 286Q1237 171 1412 286" stroke="#906060" stroke-opacity="0.5" stroke-width="1.0"/>
<path d="M497 467Q570 418 644 467M472 557Q506 535 539 557M405 557Q448 528 491 557" stroke="#6078a8" stroke-opacity="0.5" stroke-width="1.0"/>
<path d="M874 1009Q1028 907 1182 1009M1219 1009Q1238 996 1258 1009M874 1009Q954 957 1033 1009M1143 1009Q1162 996 1182 1009" stroke="#a8a8a8" stroke-opacity="0.4" stroke-width="1.0"/>
<path d="M486 467Q639 271 792 376M568 557Q677 283 786 376" stroke="#90a8c0" stroke-opacity="0.4" stroke-width="1.0"/>
<path d="M800 738Q744 370 688 467" stroke="#90a890" stroke-opacity="0.1" stroke-width="1.5"/>
<path d="M680 919Q721 315 762 467M641 829Q679 345 716 467M645 738Q680 375 716 467M636 829Q678 344 721 467" stroke="#90a8a8" stroke-opacity="0.3" stroke-width="1.0"/>
<path d="M759 648Q660 486 562 557M798 648Q681 474 565 557M918 829Q744 619 570 738M608 738Q742 555 876 648" stroke="#90a8a8" stroke-opacity="0.2" stroke-width="1.0"/>
<path d="M497 467Q515 455 533 467M533 467Q549 456 565 467M472 467Q558 410 644 467M472 467Q502 447 533 467" stroke="#6078a8" stroke-opacity="0.3" stroke-width="2.0"/>
<path d="M461 467Q534 418 608 467M488 467Q526 442 565 467M491 557Q568 506 645 557M460 557Q536 507 611 557" stroke="#6078a8" stroke-opacity="0.5" stroke-width="1.5"/>
<path d="M1027 648Q1048 285 1070 376M1036 1009Q1032 167 1028 376M1067 829Q1105 105 1143 286M1070 1100Q1094 17 1117 286" stroke="#c09078" stroke-opacity="0.3" stroke-width="1.0"/>
<path d="M532 467Q609 416 686 467M611 557Q628 546 645 557" stroke="#7890a8" stroke-opacity="0.5" stroke-width="1.5"/>
<path d="M1106 1100Q1145 1074 1184 1100" stroke="#c0a8a8" stroke-opacity="0.4" stroke-width="1.5"/>
<path d="M452 467Q470 455 488 467M507 467Q576 422 644 467M472 557Q559 500 645 557M385 557Q515 471 645 557" stroke="#6078a8" stroke-opacity="0.4" stroke-width="1.0"/>
<path d="M868 376Q1102 222 1336 376M868 376Q1065 246 1261 376M868 376Q1025 273 1182 376M948 648Q1064 571 1181 648" stroke="#a87860" stroke-opacity="0.3" stroke-width="1.0"/>
<path d="M645 557Q683 532 721 557M606 557Q664 519 721 557M529 648Q683 546 837 648M644 648Q682 623 719 648" stroke="#789090" stroke-opacity="0.4" stroke-width="1.0"/>
<path d="M537 557Q662 274 787 376M715 467Q755 336 794 376M692 467Q740 332 788 376M723 738Q720 378 716 467" stroke="#90a8a8" stroke-opacity="0.3" stroke-width="1.0"/>
<path d="M647 829Q685 464 723 557M643 738Q645 497 647 557M682 648Q687 407 692 467M694 829Q649 581 605 648" stroke="#90a8a8" stroke-opacity="0.2" stroke-width="1.0"/>
<path d="M1167 1100Q1191 498 1215 648M1182 1009Q1158 647 1135 738" stroke="#c09090" stroke-opacity="0.2" stroke-width="0.5"/>
<path d="M298 919Q510 779 721 919M464 919Q437 317 410 467M387 919Q420 792 452 829M528 829Q518 347 508 467" stroke="#a8a8c0" stroke-opacity="0.5" stroke-width="1.0"/>
<path d="M488 467Q510 452 533 467M532 467Q548 456 565 467M488 467Q510 453 532 467M491 557Q568 506 645 557" stroke="#6078a8" stroke-opacity="0.4" stroke-width="1.5"/>
<path d="M606 829Q625 347 643 467M646 829Q628 466 610 557M535 648Q589 510 643 557M564 919Q605 789 645 829" stroke="#78a8a8" stroke-opacity="0.2" stroke-width="1.5"/>
<path d="M645 557Q683 532 721 557" stroke="#789090" stroke-opacity="0.4" stroke-width="1.5"/>
<path d="M1184 738Q1066 565 948 648" stroke="#a89078" stroke-opacity="0.2" stroke-width="1.5"/>
<path d="M530 557Q658 273 786 376M529 467Q660 284 792 376" stroke="#a8c0c0" stroke-opacity="0.2" stroke-width="1.0"/>
<path d="M917 376Q970 341 1022 376M917 376Q954 352 990 376M790 376Q906 299 1022 376M790 376Q945 274 1100 376" stroke="#a89078" stroke-opacity="0.3" stroke-width="1.0"/>
<path d="M794 467Q859 324 924 376M843 648Q876 284 909 376M832 738Q874 134 916 286M870 1009Q869 649 868 738" stroke="#c0a890" stroke-opacity="0.3" stroke-width="1.0"/>
<path d="M1084 648Q1077 286 1071 376M1024 738Q1065 253 1107 376M1022 738Q1020 257 1019 376M990 829Q1003 226 1015 376" stroke="#c09078" stroke-opacity="0.2" stroke-width="1.0"/>
<path d="M687 467Q736 332 785 376M609 557Q698 292 788 376" stroke="#a8c0c0" stroke-opacity="0.3" stroke-width="1.5"/>
<path d="M338 1009Q494 906 649 1009" stroke="#a8a8a8" stroke-opacity="0.4" stroke-width="1.5"/>
<path d="M311 919Q362 885 414 919M373 919Q337 791 301 829M488 919Q451 316 414 467M300 829Q306 467 311 557" stroke="#a8a8c0" stroke-opacity="0.4" stroke-width="1.0"/>
<path d="M790 376Q869 324 949 376M868 376Q984 300 1100 376M913 376Q931 364 949 376M917 376Q933 366 949 376" stroke="#a89078" stroke-opacity="0.3" stroke-width="1.0"/>
<path d="M460 557Q553 496 645 557M414 557Q529 481 645 557M385 557Q456 510 528 557M491 557Q549 519 606 557" stroke="#6078a8" stroke-opacity="0.5" stroke-width="1.5"/>
<path d="M644 648Q708 605 773 648M568 738Q718 639 868 738M644 738Q722 687 799 738M639 829Q677 804 715 829" stroke="#789090" stroke-opacity="0.3" stroke-width="0.5"/>
<path d="M648 829Q800 729 951 829" stroke="#909090" stroke-opacity="0.3" stroke-width="1.0"/>
<path d="M949 286Q988 260 1027 286M1100 376Q1141 349 1182 376M1100 376Q1161 336 1222 376M990 376Q1106 299 1222 376" stroke="#a86060" stroke-opacity="0.2" stroke-width="1.0"/>
<path d="M951 829Q1009 791 1067 829M992 829Q1050 791 1108 829" stroke="#a87860" stroke-opacity="0.2" stroke-width="0.5"/>
<path d="M533 467Q612 415 690 467M609 467Q626 455 644 467M533 467Q610 416 686 467M683 467Q689 463 695 467" stroke="#7890a8" stroke-opacity="0.3" stroke-width="2.0"/>
<path d="M460 557Q572 484 682 557M405 557Q484 504 564 557M405 557Q448 528 491 557M539 557Q546 552 553 557" stroke="#6078a8" stroke-opacity="0.4" stroke-width="1.5"/>
<path d="M787 829Q795 347 802 467M802 738Q839 374 877 467M833 829Q854 347 875 467M866 738Q830 610 795 648" stroke="#a8a890" stroke-opacity="0.2" stroke-width="1.0"/>
<path d="M608 648Q665 509 721 557M722 919Q646 660 569 738M564 919Q720 722 875 829M762 738Q723 609 684 648" stroke="#90a8a8" stroke-opacity="0.3" stroke-width="1.5"/>
<path d="M299 467Q472 353 644 467M338 557Q446 486 553 557M414 557Q529 481 645 557M405 557Q525 478 645 557" stroke="#6078a8" stroke-opacity="0.3" stroke-width="1.5"/>
<path d="M453 919Q587 831 721 919M311 919Q393 865 476 919M488 919Q509 905 530 919M311 919Q438 836 564 919" stroke="#a8a8c0" stroke-opacity="0.6" stroke-width="1.0"/>
<path d="M529 919Q701 712 873 829M766 648Q688 497 609 557M528 829Q691 525 854 648M780 648Q732 513 683 557" stroke="#90a8a8" stroke-opacity="0.3" stroke-width="1.5"/>
<path d="M1111 286Q1225 211 1339 286M924 286Q961 262 998 286M1027 286Q1124 222 1221 286M1064 286Q1142 234 1221 286" stroke="#906060" stroke-opacity="0.2" stroke-width="1.0"/>
<path d="M1072 829Q1036 584 1000 648M1028 1009Q1044 769 1060 829M1176 1100Q1161 618 1146 738M1105 1009Q1083 647 1062 738" stroke="#c09090" stroke-opacity="0.2" stroke-width="1.0"/>
<path d="M1149 286Q1196 255 1242 286" stroke="#a89090" stroke-opacity="0.5" stroke-width="1.0"/>
<path d="M1027 286Q1219 159 1412 286" stroke="#a86060" stroke-opacity="0.5" stroke-width="1.5"/>
<path d="M995 1100Q1012 1089 1029 1100" stroke="#c09090" stroke-opacity="0.4" stroke-width="1.0"/>
<path d="M723 919Q837 748 951 829M1020 829Q860 628 699 738M952 738Q797 542 642 648M711 738Q794 586 876 648" stroke="#a8a890" stroke-opacity="0.3" stroke-width="1.0"/>
<path d="M717 648Q661 510 606 557M646 738Q702 601 758 648M530 919Q665 631 800 738M609 829Q661 692 713 738" stroke="#90a8a8" stroke-opacity="0.3" stroke-width="1.0"/>
<path d="M646 557Q705 305 764 376M723 557Q742 315 761 376M606 467Q699 308 792 376" stroke="#90a8c0" stroke-opacity="0.3" stroke-width="1.0"/>
<path d="M1097 648Q1081 286 1066 376M1105 648Q1105 286 1106 376M1096 648Q1087 166 1079 286M1023 648Q1061 283 1100 376" stroke="#c09078" stroke-opacity="0.3" stroke-width="1.0"/>
<path d="M1102 1100Q1104 740 1107 829M1026 1009Q1006 768 985 829M1147 1100Q1165 618 1182 738M1136 738Q1162 614 1188 648" stroke="#c09090" stroke-opacity="0.3" stroke-width="0.5"/>
<path d="M868 738Q1025 634 1183 738M868 738Q1005 648 1142 738M990 738Q1066 688 1142 738M952 738Q1028 687 1105 738" stroke="#a87860" stroke-opacity="0.3" stroke-width="1.0"/>
<path d="M387 467Q541 365 695 467M412 467Q528 390 644 467M461 467Q497 443 533 467M497 467Q552 430 608 467" stroke="#6078a8" stroke-opacity="0.3" stroke-width="1.5"/>
<path d="M1098 1100Q1159 134 1219 376M1179 829Q1201 226 1223 376M1186 829Q1178 107 1169 286" stroke="#c07878" stroke-opacity="0.3" stroke-width="1.5"/>
<path d="M644 467Q665 453 686 467M608 467Q646 442 683 467M565 467Q628 426 690 467M532 467Q613 413 695 467" stroke="#7890a8" stroke-opacity="0.4" stroke-width="1.5"/>
<path d="M645 557Q664 545 682 557M611 557Q628 546 645 557" stroke="#7890a8" stroke-opacity="0.4" stroke-width="1.5"/>
<path d="M943 1009Q970 527 998 648M871 1100Q873 740 874 829M880 1009Q920 764 959 829M918 1009Q934 648 950 738" stroke="#c0a890" stroke-opacity="0.2" stroke-width="1.0"/>
<path d="M644 467Q667 452 690 467" stroke="#7890a8" stroke-opacity="0.4" stroke-width="1.0"/>
<path d="M1070 829Q1044 226 1018 376" stroke="#c09078" stroke-opacity="0.3" stroke-width="1.0"/>
<path d="M412 467Q566 366 719 467M488 467Q604 391 719 467M414 557Q567 456 721 557M405 557Q563 453 721 557" stroke="#607890" stroke-opacity="0.2" stroke-width="1.0"/>
<path d="M1101 286Q1256 183 1412 286M1149 286Q1281 199 1412 286" stroke="#a87878" stroke-opacity="0.6" stroke-width="1.5"/>
<path d="M874 1100Q897 137 920 376M838 648Q877 283 917 376M843 1009Q892 165 941 376M757 467Q833 318 909 376" stroke="#c0a890" stroke-opacity="0.3" stroke-width="1.0"/>
<path d="M990 286Q1112 205 1235 286M1027 286Q1128 220 1228 286" stroke="#906060" stroke-opacity="0.2" stroke-width="0.5"/>
<path d="M491 557Q549 519 606 557M385 557Q515 471 645 557M394 557Q479 501 564 557" stroke="#6078a8" stroke-opacity="0.3" stroke-width="1.5"/>
<path d="M874 829Q856 587 837 648" stroke="#a8a890" stroke-opacity="0.2" stroke-width="0.5"/>
<path d="M476 919Q520 890 564 919M463 919Q469 915 476 919M338 919Q369 899 400 919M564 919Q623 880 682 919" stroke="#a8a8c0" stroke-opacity="0.6" stroke-width="1.5"/>
<path d="M1100 376Q1141 349 1182 376M1100 376Q1141 349 1182 376M990 376Q1126 287 1261 376M1100 376Q1198 311 1296 376" stroke="#a86060" stroke-opacity="0.3" stroke-width="0.5"/>
<path d="M569 1190Q566 228 563 467M604 1190Q606 348 608 557M603 1190Q605 228 607 467M641 1190Q642 589 643 738" stroke="#a8a8a8" stroke-opacity="0.3" stroke-width="0.5"/>
<path d="M565 467Q662 403 760 467M683 648Q728 618 773 648M471 829Q731 657 992 829" stroke="#789090" stroke-opacity="0.2" stroke-width="1.0"/>
<path d="M1024 1100Q1029 499 1034 648M1146 1100Q1130 739 1113 829M984 1100Q1002 739 1021 829M1027 1009Q1048 768 1070 829" stroke="#c09090" stroke-opacity="0.3" stroke-width="1.0"/>
<path d="M1000 1100Q971 136 943 376M1003 648Q978 285 954 376M988 1009Q951 166 913 376M917 1009Q919 167 921 376" stroke="#c09090" stroke-opacity="0.3" stroke-width="1.0"/>
<path d="M1089 286Q1095 282 1101 286M1022 376Q1165 282 1308 376M1100 376Q1198 311 1296 376M1107 648Q1144 624 1181 648" stroke="#a86060" stroke-opacity="0.2" stroke-width="0.5"/>
<path d="M876 829Q874 227 871 376M1106 738Q935 531 764 648M789 829Q871 676 953 738M718 829Q796 569 875 648" stroke="#a8a890" stroke-opacity="0.2" stroke-width="1.5"/>
<path d="M311 919Q355 890 400 919M463 919Q514 886 564 919M488 919Q509 905 530 919M463 919Q497 897 530 919" stroke="#a8a8c0" stroke-opacity="0.5" stroke-width="1.0"/>
<path d="M488 467Q676 248 864 376M555 557Q672 278 789 376M698 467Q742 334 785 376M604 557Q696 291 789 376" stroke="#90a8a8" stroke-opacity="0.2" stroke-width="1.5"/>
<path d="M464 919Q419 554 375 648M607 829Q581 466 555 557M337 829Q358 466 378 557M646 1009Q626 528 606 648" stroke="#a8a8c0" stroke-opacity="0.4" stroke-width="1.0"/>
<path d="M790 829Q789 227 787 376M779 648Q749 404 720 467M787 829Q753 345 719 467M766 738Q781 617 797 648" stroke="#90a890" stroke-opacity="0.2" stroke-width="1.0"/>
<path d="M860 738Q869 618 878 648M1028 1009Q986 763 944 829M905 1009Q924 648 944 738M877 1100Q859 498 842 648" stroke="#c0a890" stroke-opacity="0.2" stroke-width="1.0"/>
<path d="M1180 1100Q1217 497 1253 648M1032 648Q972 278 912 376M1186 738Q1011 529 837 648M1106 829Q987 654 869 738" stroke="#a89090" stroke-opacity="0.3" stroke-width="1.0"/>
<path d="M568 738Q647 686 725 738M490 829Q624 740 759 829M607 829Q646 804 684 829" stroke="#609090" stroke-opacity="0.2" stroke-width="0.5"/>
<path d="M1176 1009Q1169 47 1162 286M1169 1100Q1205 136 1240 376M1139 648Q1111 165 1083 286M1107 829Q1183 218 1259 376" stroke="#c07878" stroke-opacity="0.3" stroke-width="1.0"/>
<path d="M311 919Q438 836 564 919M390 919Q422 898 453 919M488 919Q509 905 530 919M530 919Q626 856 721 919" stroke="#a8a8c0" stroke-opacity="0.6" stroke-width="1.5"/>
<path d="M299 1009Q472 895 646 1009M310 1009Q475 901 639 1009M312 1009Q479 899 646 1009M489 1009Q567 957 646 1009" stroke="#a8a8a8" stroke-opacity="0.4" stroke-width="1.0"/>
<path d="M1084 286Q1128 257 1173 286M1228 286Q1244 276 1260 286" stroke="#904848" stroke-opacity="0.4" stroke-width="0.5"/>
<path d="M1035 1009Q1073 526 1110 648M1115 829Q1150 700 1185 738M1151 1009Q1105 762 1060 829M1018 1009Q1007 529 996 648" stroke="#c09090" stroke-opacity="0.3" stroke-width="1.0"/>
<path d="M1185 648Q1180 286 1176 376M1183 738Q1215 135 1247 286M1219 1009Q1234 47 1249 286M1089 648Q1114 285 1138 376" stroke="#c07878" stroke-opacity="0.2" stroke-width="1.0"/>
<path d="M385 557Q456 510 528 557M405 557Q487 502 570 557M385 557Q515 471 645 557M338 557Q492 456 645 557" stroke="#6078a8" stroke-opacity="0.3" stroke-width="1.5"/>
<path d="M299 467Q530 315 760 467M528 829Q588 790 648 829" stroke="#607890" stroke-opacity="0.4" stroke-width="0.5"/>
<path d="M561 467Q661 303 761 376M531 467Q659 287 787 376M637 829Q642 467 647 557M774 648Q710 505 646 557" stroke="#90a8a8" stroke-opacity="0.3" stroke-width="1.5"/>
<path d="M1106 1100Q1124 1088 1143 1100M1029 1100Q1106 1049 1184 1100M1163 1100Q1211 1068 1259 1100M1106 1100Q1220 1024 1335 1100" stroke="#c0a8a8" stroke-opacity="0.5" stroke-width="1.0"/>
<path d="M949 286Q1144 157 1339 286M1094 286Q1136 258 1179 286M949 286Q1096 189 1242 286" stroke="#a87878" stroke-opacity="0.4" stroke-width="0.5"/>
<path d="M566 648Q627 395 688 467M603 648Q623 524 643 557" stroke="#78a8a8" stroke-opacity="0.1" stroke-width="1.0"/>
<path d="M529 919Q701 712 873 829M774 648Q729 515 684 557M789 829Q734 691 680 738M833 829Q738 669 644 738" stroke="#90a8a8" stroke-opacity="0.3" stroke-width="1.5"/>
<path d="M713 829Q756 582 798 648M766 648Q727 402 688 467M781 648Q732 513 684 557M764 648Q723 517 683 557" stroke="#90a890" stroke-opacity="0.2" stroke-width="1.0"/>
<path d="M644 467Q722 416 800 467M533 467Q704 354 875 467M695 467Q738 438 782 467M695 467Q707 459 719 467" stroke="#789090" stroke-opacity="0.2" stroke-width="1.0"/>
<path d="M788 829Q698 672 608 738M650 829Q724 681 798 738M682 919Q726 672 769 738M564 919Q717 621 870 738" stroke="#90a8a8" stroke-opacity="0.3" stroke-width="1.0"/>
<path d="M1153 1100Q1186 1078 1220 1100M1029 1100Q1106 1049 1184 1100M995 1100Q1089 1038 1184 1100M995 1100Q1050 1063 1106 1100" stroke="#c09090" stroke-opacity="0.4" stroke-width="1.0"/>
<path d="M799 738Q829 612 858 648M871 738Q835 610 799 648M790 829Q800 588 810 648M919 829Q858 688 798 738" stroke="#a8a890" stroke-opacity="0.2" stroke-width="1.5"/>
<path d="M497 467Q645 274 793 376M680 467Q737 328 795 376M642 467Q719 317 795 376M611 557Q701 292 791 376" stroke="#a8c0c0" stroke-opacity="0.3" stroke-width="1.5"/>
<path d="M1101 286Q1180 234 1260 286M1120 286Q1157 262 1194 286M1089 286Q1174 230 1260 286M1149 286Q1198 253 1248 286" stroke="#a87878" stroke-opacity="0.5" stroke-width="1.0"/>
<path d="M722 919Q720 559 718 648M723 919Q721 438 719 557M645 829Q645 348 644 467M719 919Q683 435 646 557" stroke="#90a8a8" stroke-opacity="0.3" stroke-width="1.0"/>
<path d="M1220 1100Q1277 1062 1335 1100M1260 1100Q1297 1075 1335 1100" stroke="#903048" stroke-opacity="0.6" stroke-width="1.5"/>
<path d="M1261 1009Q1247 167 1233 376M1179 1009Q1180 167 1181 376M1078 648Q1106 165 1135 286M1184 738Q1161 256 1138 376" stroke="#c07878" stroke-opacity="0.2" stroke-width="1.0"/>
<path d="M879 1100Q877 619 875 738M881 1100Q870 499 860 648M907 1009Q893 529 880 648M909 1009Q896 529 883 648" stroke="#c0a890" stroke-opacity="0.2" stroke-width="1.0"/>
<path d="M453 919Q587 831 721 919M476 919Q482 915 488 919M338 919Q413 870 488 919M298 919Q393 856 488 919" stroke="#a8a8c0" stroke-opacity="0.5" stroke-width="1.0"/>
<path d="M414 1009Q527 935 640 1009M722 1190Q719 228 716 467M641 1190Q643 348 646 557M569 1190Q554 348 539 557" stroke="#a8a8a8" stroke-opacity="0.3" stroke-width="1.0"/>
<path d="M455 467Q589 283 722 376M529 467Q644 294 760 376M640 467Q697 328 755 376M640 467Q755 294 870 376" stroke="#90a8a8" stroke-opacity="0.3" stroke-width="1.5"/>
<path d="M1194 286Q1208 277 1221 286M1182 376Q1259 325 1336 376M1146 376Q1203 338 1261 376" stroke="#906060" stroke-opacity="0.2" stroke-width="1.0"/>
<path d="M1183 829Q1221 224 1258 376M1187 1009Q1224 166 1260 376M1148 1100Q1191 135 1234 376M1189 1100Q1188 137 1187 376" stroke="#c07878" stroke-opacity="0.3" stroke-width="1.0"/>
<path d="M1099 648Q1180 271 1262 376M1227 648Q1228 286 1230 376M1226 648Q1187 164 1149 286M1137 1009Q1154 47 1171 286" stroke="#c07878" stroke-opacity="0.2" stroke-width="1.0"/>
</g>
<g fill="none">
<path d="M1350.0 286.0H1401.0" stroke="#f58a3c" stroke-width="2.2" stroke-opacity="0.95"/>
<path d="M808.0 467.0H842.0" stroke="#66e0e0" stroke-width="2.0" stroke-opacity="0.80"/>
<path d="M352.0 557.0H620.0" stroke="#2b9bf0" stroke-width="2.0" stroke-opacity="0.85"/>
<path d="M620.0 557.0H790.0" stroke="#6bbcf0" stroke-width="1.5" stroke-opacity="0.60"/>
<path d="M349.0 919.0H722.0" stroke="#3fa9f5" stroke-width="2.2" stroke-opacity="0.90"/>
<path d="M349.0 1009.0H880.0" stroke="#f6f23c" stroke-width="2.2" stroke-opacity="0.85"/>
<path d="M880.0 1009.0H1225.0" stroke="#f6f23c" stroke-width="2.0" stroke-opacity="0.70"/>
<path d="M888.0 1100.0H1332.0" stroke="#f58a4a" stroke-width="2.6" stroke-opacity="0.95"/>
<path d="M300.0 467.0H340.0" stroke="#66e0e0" stroke-width="1.5" stroke-opacity="0.60"/>
<path d="M428.0 467.0H445.0" stroke="#66e0e0" stroke-width="1.5" stroke-opacity="0.60"/>
</g>
<g stroke-width="0.8">
<circle cx="1027.0" cy="286.0" r="49.3" fill="#d53e4f" fill-opacity="0.78" stroke="#912a36" stroke-opacity="0.80" stroke-width="1.0"/>
<circle cx="1027.0" cy="286.0" r="37.0" fill="#f46d43" fill-opacity="0.75" stroke="#ab4c2f" stroke-opacity="0.25" stroke-width="0.5"/>
<circle cx="1027.0" cy="286.0" r="28.8" fill="#fdae61" fill-opacity="0.75" stroke="#b17a44" stroke-opacity="0.25" stroke-width="0.5"/>
<circle cx="1027.0" cy="286.0" r="12.3" fill="#fee08b" fill-opacity="0.75" stroke="#b29d61" stroke-opacity="0.25" stroke-width="0.5"/>
<circle cx="1027.0" cy="286.0" r="4.1" fill="#ffffbf" fill-opacity="0.75" stroke="#b2b286" stroke-opacity="0.25" stroke-width="0.5"/>
<circle cx="1259.5" cy="286.0" r="32.3" fill="#d53e4f" fill-opacity="0.78" stroke="#912a36" stroke-opacity="0.80" stroke-width="1.0"/>
<circle cx="1259.5" cy="286.0" r="16.1" fill="#f46d43" fill-opacity="0.75" stroke="#ab4c2f" stroke-opacity="0.25" stroke-width="0.5"/>
<circle cx="1259.5" cy="286.0" r="5.4" fill="#fdae61" fill-opacity="0.75" stroke="#b17a44" stroke-opacity="0.25" stroke-width="0.5"/>
<circle cx="1101.0" cy="287.0" r="26.0" fill="#d53e4f" fill-opacity="0.78" stroke="#912a36" stroke-opacity="0.80" stroke-width="1.0"/>
<circle cx="1101.0" cy="287.0" r="10.4" fill="#f46d43" fill-opacity="0.75" stroke="#ab4c2f" stroke-opacity="0.25" stroke-width="0.5"/>
<circle cx="1248.0" cy="283.0" r="24.0" fill="#d53e4f" fill-opacity="0.78" stroke="#912a36" stroke-opacity="0.80" stroke-width="1.0"/>
<circle cx="949.0" cy="286.0" r="22.0" fill="#f46d43" fill-opacity="0.78" stroke="#a64a2e" stroke-opacity="0.80" stroke-width="1.0"/>
<circle cx="949.0" cy="286.0" r="16.5" fill="#fdae61" fill-opacity="0.75" stroke="#b17a44" stroke-opacity="0.25" stroke-width="0.5"/>
<circle cx="949.0" cy="286.0" r="5.5" fill="#fee08b" fill-opacity="0.75" stroke="#b29d61" stroke-opacity="0.25" stroke-width="0.5"/>
<circle cx="1179.0" cy="286.0" r="21.0" fill="#d53e4f" fill-opacity="0.78" stroke="#912a36" stroke-opacity="0.80" stroke-width="1.0"/>
<circle cx="1179.0" cy="286.0" r="10.5" fill="#f46d43" fill-opacity="0.75" stroke="#ab4c2f" stroke-opacity="0.25" stroke-width="0.5"/>
<circle cx="1242.0" cy="282.0" r="20.0" fill="#d53e4f" fill-opacity="0.78" stroke="#912a36" stroke-opacity="0.80" stroke-width="1.0"/>
<circle cx="1111.0" cy="283.0" r="19.0" fill="#d53e4f" fill-opacity="0.78" stroke="#912a36" stroke-opacity="0.80" stroke-width="1.0"/>
<circle cx="998.0" cy="286.0" r="18.0" fill="#d53e4f" fill-opacity="0.78" stroke="#912a36" stroke-opacity="0.80" stroke-width="1.0"/>
<circle cx="998.0" cy="286.0" r="12.0" fill="#f46d43" fill-opacity="0.85" stroke="#ab4c2f" stroke-opacity="0.25" stroke-width="0.5"/>
<circle cx="998.0" cy="286.0" r="6.0" fill="#fdae61" fill-opacity="0.85" stroke="#b17a44" stroke-opacity="0.25" stroke-width="0.5"/>
<circle cx="1094.0" cy="286.0" r="17.0" fill="#d53e4f" fill-opacity="0.78" stroke="#912a36" stroke-opacity="0.80" stroke-width="1.0"/>
<circle cx="1173.0" cy="286.0" r="17.0" fill="#d53e4f" fill-opacity="0.78" stroke="#912a36" stroke-opacity="0.80" stroke-width="1.0"/>
<circle cx="1235.0" cy="283.0" r="17.0" fill="#d53e4f" fill-opacity="0.78" stroke="#912a36" stroke-opacity="0.80" stroke-width="1.0"/>
<circle cx="943.0" cy="286.0" r="16.0" fill="#f46d43" fill-opacity="0.40" stroke="#a64a2e" stroke-opacity="0.80" stroke-width="1.0"/>
<circle cx="943.0" cy="286.0" r="10.7" fill="#fdae61" fill-opacity="0.85" stroke="#b17a44" stroke-opacity="0.25" stroke-width="0.5"/>
<circle cx="943.0" cy="286.0" r="5.3" fill="#fee08b" fill-opacity="0.85" stroke="#b29d61" stroke-opacity="0.25" stroke-width="0.5"/>
<circle cx="1089.0" cy="286.0" r="15.0" fill="#d53e4f" fill-opacity="0.85" stroke="#912a36" stroke-opacity="0.80" stroke-width="1.0"/>
<circle cx="1120.0" cy="282.0" r="15.0" fill="#d53e4f" fill-opacity="0.85" stroke="#912a36" stroke-opacity="0.80" stroke-width="1.0"/>
<circle cx="1167.0" cy="286.0" r="15.0" fill="#d53e4f" fill-opacity="0.85" stroke="#912a36" stroke-opacity="0.80" stroke-width="1.0"/>
<circle cx="1188.0" cy="283.0" r="15.0" fill="#d53e4f" fill-opacity="0.85" stroke="#912a36" stroke-opacity="0.80" stroke-width="1.0"/>
<circle cx="1084.0" cy="286.0" r="14.0" fill="#d53e4f" fill-opacity="0.85" stroke="#912a36" stroke-opacity="0.80" stroke-width="1.0"/>
<circle cx="1228.0" cy="284.0" r="14.0" fill="#d53e4f" fill-opacity="0.85" stroke="#912a36" stroke-opacity="0.80" stroke-width="1.0"/>
<circle cx="990.0" cy="286.0" r="13.0" fill="#d53e4f" fill-opacity="0.85" stroke="#912a36" stroke-opacity="0.80" stroke-width="1.0"/>
<circle cx="990.0" cy="286.0" r="6.5" fill="#f46d43" fill-opacity="0.85" stroke="#ab4c2f" stroke-opacity="0.25" stroke-width="0.5"/>
<circle cx="1079.0" cy="286.0" r="13.0" fill="#d53e4f" fill-opacity="0.85" stroke="#912a36" stroke-opacity="0.80" stroke-width="1.0"/>
<circle cx="1161.0" cy="286.0" r="13.0" fill="#d53e4f" fill-opacity="0.85" stroke="#912a36" stroke-opacity="0.80" stroke-width="1.0"/>
<circle cx="1074.0" cy="286.0" r="12.0" fill="#d53e4f" fill-opacity="0.85" stroke="#912a36" stroke-opacity="0.80" stroke-width="1.0"/>
<circle cx="1155.0" cy="286.0" r="12.0" fill="#d53e4f" fill-opacity="0.85" stroke="#912a36" stroke-opacity="0.80" stroke-width="1.0"/>
<circle cx="1194.0" cy="282.0" r="12.0" fill="#d53e4f" fill-opacity="0.85" stroke="#912a36" stroke-opacity="0.80" stroke-width="1.0"/>
<circle cx="1221.0" cy="286.0" r="11.5" fill="#f46d43" fill-opacity="0.85" stroke="#a64a2e" stroke-opacity="0.80" stroke-width="1.0"/>
<circle cx="1221.0" cy="286.0" r="5.8" fill="#fdae61" fill-opacity="0.85" stroke="#b17a44" stroke-opacity="0.25" stroke-width="0.5"/>
<circle cx="931.0" cy="282.0" r="11.0" fill="#f46d43" fill-opacity="0.85" stroke="#a64a2e" stroke-opacity="0.80" stroke-width="1.0"/>
<circle cx="931.0" cy="282.0" r="5.5" fill="#fdae61" fill-opacity="0.85" stroke="#b17a44" stroke-opacity="0.25" stroke-width="0.5"/>
<circle cx="1069.0" cy="286.0" r="11.0" fill="#d53e4f" fill-opacity="0.85" stroke="#912a36" stroke-opacity="0.80" stroke-width="1.0"/>
<circle cx="1149.0" cy="286.0" r="11.0" fill="#d53e4f" fill-opacity="0.85" stroke="#912a36" stroke-opacity="0.80" stroke-width="1.0"/>
<circle cx="1149.0" cy="286.0" r="5.5" fill="#f46d43" fill-opacity="0.85" stroke="#ab4c2f" stroke-opacity="0.25" stroke-width="0.5"/>
<circle cx="1339.0" cy="281.0" r="11.0" fill="#d53e4f" fill-opacity="0.85" stroke="#912a36" stroke-opacity="0.80" stroke-width="1.0"/>
<circle cx="1412.0" cy="286.0" r="10.8" fill="#d53e4f" fill-opacity="0.85" stroke="#912a36" stroke-opacity="0.80" stroke-width="1.0"/>
<circle cx="1328.0" cy="282.0" r="10.5" fill="#d53e4f" fill-opacity="0.85" stroke="#912a36" stroke-opacity="0.80" stroke-width="1.0"/>
<circle cx="914.0" cy="286.0" r="10.0" fill="#f46d43" fill-opacity="0.85" stroke="#a64a2e" stroke-opacity="0.80" stroke-width="1.0"/>
<circle cx="1064.0" cy="286.0" r="10.0" fill="#d53e4f" fill-opacity="0.85" stroke="#912a36" stroke-opacity="0.80" stroke-width="1.0"/>
<circle cx="1213.0" cy="286.0" r="10.0" fill="#f46d43" fill-opacity="0.85" stroke="#a64a2e" stroke-opacity="0.80" stroke-width="1.0"/>
<circle cx="1317.0" cy="284.0" r="10.0" fill="#d53e4f" fill-opacity="0.85" stroke="#912a36" stroke-opacity="0.80" stroke-width="1.0"/>
<circle cx="1297.0" cy="286.0" r="9.5" fill="#d53e4f" fill-opacity="0.85" stroke="#912a36" stroke-opacity="0.80" stroke-width="1.0"/>
<circle cx="1307.0" cy="285.0" r="9.5" fill="#d53e4f" fill-opacity="0.85" stroke="#912a36" stroke-opacity="0.80" stroke-width="1.0"/>
<circle cx="924.0" cy="283.0" r="9.0" fill="#f46d43" fill-opacity="0.85" stroke="#a64a2e" stroke-opacity="0.80" stroke-width="1.0"/>
<circle cx="924.0" cy="283.0" r="4.5" fill="#fdae61" fill-opacity="0.85" stroke="#b17a44" stroke-opacity="0.25" stroke-width="0.5"/>
<circle cx="1059.0" cy="286.0" r="9.0" fill="#d53e4f" fill-opacity="0.85" stroke="#912a36" stroke-opacity="0.80" stroke-width="1.0"/>
<circle cx="1142.0" cy="286.0" r="9.0" fill="#f46d43" fill-opacity="0.85" stroke="#a64a2e" stroke-opacity="0.80" stroke-width="1.0"/>
<circle cx="1022.0" cy="376.0" r="45.0" fill="#d53e4f" fill-opacity="0.78" stroke="#912a36" stroke-opacity="0.80" stroke-width="1.0"/>
<circle cx="1015.1" cy="376.0" r="37.4" fill="#d53e4f" fill-opacity="0.80" stroke="#912a36" stroke-opacity="0.70" stroke-width="0.9"/>
<circle cx="1015.1" cy="376.0" r="32.0" fill="#f46d43" fill-opacity="0.88" stroke="#ab4c2f" stroke-opacity="0.25" stroke-width="0.5"/>
<circle cx="1015.1" cy="376.0" r="26.7" fill="#fdae61" fill-opacity="0.88" stroke="#b17a44" stroke-opacity="0.25" stroke-width="0.5"/>
<circle cx="1015.1" cy="376.0" r="5.3" fill="#fee08b" fill-opacity="0.88" stroke="#b29d61" stroke-opacity="0.25" stroke-width="0.5"/>
<circle cx="1007.5" cy="376.0" r="29.7" fill="#d53e4f" fill-opacity="0.80" stroke="#912a36" stroke-opacity="0.70" stroke-width="0.9"/>
<circle cx="1007.5" cy="376.0" r="25.5" fill="#f46d43" fill-opacity="0.88" stroke="#ab4c2f" stroke-opacity="0.25" stroke-width="0.5"/>
<circle cx="1007.5" cy="376.0" r="21.2" fill="#fdae61" fill-opacity="0.88" stroke="#b17a44" stroke-opacity="0.25" stroke-width="0.5"/>
<circle cx="1007.5" cy="376.0" r="4.2" fill="#fee08b" fill-opacity="0.88" stroke="#b29d61" stroke-opacity="0.25" stroke-width="0.5"/>
<circle cx="999.4" cy="376.0" r="21.6" fill="#d53e4f" fill-opacity="0.80" stroke="#912a36" stroke-opacity="0.70" stroke-width="0.9"/>
<circle cx="999.4" cy="376.0" r="18.5" fill="#f46d43" fill-opacity="0.88" stroke="#ab4c2f" stroke-opacity="0.25" stroke-width="0.5"/>
<circle cx="999.4" cy="376.0" r="15.4" fill="#fdae61" fill-opacity="0.88" stroke="#b17a44" stroke-opacity="0.25" stroke-width="0.5"/>
<circle cx="999.4" cy="376.0" r="3.1" fill="#fee08b" fill-opacity="0.88" stroke="#b29d61" stroke-opacity="0.25" stroke-width="0.5"/>
<circle cx="991.3" cy="376.0" r="13.5" fill="#d53e4f" fill-opacity="0.80" stroke="#912a36" stroke-opacity="0.70" stroke-width="0.9"/>
<circle cx="991.3" cy="376.0" r="11.6" fill="#f46d43" fill-opacity="0.88" stroke="#ab4c2f" stroke-opacity="0.25" stroke-width="0.5"/>
<circle cx="991.3" cy="376.0" r="9.6" fill="#fdae61" fill-opacity="0.88" stroke="#b17a44" stroke-opacity="0.25" stroke-width="0.5"/>
<circle cx="991.3" cy="376.0" r="1.9" fill="#fee08b" fill-opacity="0.88" stroke="#b29d61" stroke-opacity="0.25" stroke-width="0.5"/>
<circle cx="868.5" cy="376.0" r="43.5" fill="#fdae61" fill-opacity="0.78" stroke="#ac7642" stroke-opacity="0.80" stroke-width="1.0"/>
<circle cx="861.9" cy="376.0" r="36.1" fill="#fdae61" fill-opacity="0.23" stroke="#ac7642" stroke-opacity="0.45" stroke-width="0.9"/>
<circle cx="861.9" cy="376.0" r="18.1" fill="#fee08b" fill-opacity="0.25" stroke="#b29d61" stroke-opacity="0.25" stroke-width="0.5"/>
<circle cx="854.5" cy="376.0" r="28.7" fill="#fdae61" fill-opacity="0.23" stroke="#ac7642" stroke-opacity="0.45" stroke-width="0.9"/>
<circle cx="854.5" cy="376.0" r="14.4" fill="#fee08b" fill-opacity="0.25" stroke="#b29d61" stroke-opacity="0.25" stroke-width="0.5"/>
<circle cx="846.7" cy="376.0" r="20.9" fill="#fdae61" fill-opacity="0.23" stroke="#ac7642" stroke-opacity="0.45" stroke-width="0.9"/>
<circle cx="846.7" cy="376.0" r="10.4" fill="#fee08b" fill-opacity="0.25" stroke="#b29d61" stroke-opacity="0.25" stroke-width="0.5"/>
<circle cx="868.5" cy="376.0" r="18.6" fill="#fee08b" fill-opacity="0.75" stroke="#b29d61" stroke-opacity="0.25" stroke-width="0.5"/>
<circle cx="868.5" cy="376.0" r="6.2" fill="#ffffbf" fill-opacity="0.75" stroke="#b2b286" stroke-opacity="0.25" stroke-width="0.5"/>
<circle cx="1100.0" cy="376.0" r="43.0" fill="#d53e4f" fill-opacity="0.78" stroke="#912a36" stroke-opacity="0.80" stroke-width="1.0"/>
<circle cx="1093.5" cy="376.0" r="35.7" fill="#d53e4f" fill-opacity="0.80" stroke="#912a36" stroke-opacity="0.70" stroke-width="0.9"/>
<circle cx="1093.5" cy="376.0" r="30.6" fill="#f46d43" fill-opacity="0.88" stroke="#ab4c2f" stroke-opacity="0.25" stroke-width="0.5"/>
<circle cx="1093.5" cy="376.0" r="25.5" fill="#fdae61" fill-opacity="0.88" stroke="#b17a44" stroke-opacity="0.25" stroke-width="0.5"/>
<circle cx="1093.5" cy="376.0" r="5.1" fill="#fee08b" fill-opacity="0.88" stroke="#b29d61" stroke-opacity="0.25" stroke-width="0.5"/>
<circle cx="1086.2" cy="376.0" r="28.4" fill="#d53e4f" fill-opacity="0.80" stroke="#912a36" stroke-opacity="0.70" stroke-width="0.9"/>
<circle cx="1086.2" cy="376.0" r="24.3" fill="#f46d43" fill-opacity="0.88" stroke="#ab4c2f" stroke-opacity="0.25" stroke-width="0.5"/>
<circle cx="1086.2" cy="376.0" r="20.3" fill="#fdae61" fill-opacity="0.88" stroke="#b17a44" stroke-opacity="0.25" stroke-width="0.5"/>
<circle cx="1086.2" cy="376.0" r="4.1" fill="#fee08b" fill-opacity="0.88" stroke="#b29d61" stroke-opacity="0.25" stroke-width="0.5"/>
<circle cx="1078.4" cy="376.0" r="20.6" fill="#d53e4f" fill-opacity="0.80" stroke="#912a36" stroke-opacity="0.70" stroke-width="0.9"/>
<circle cx="1078.4" cy="376.0" r="17.7" fill="#f46d43" fill-opacity="0.88" stroke="#ab4c2f" stroke-opacity="0.25" stroke-width="0.5"/>
<circle cx="1078.4" cy="376.0" r="14.7" fill="#fdae61" fill-opacity="0.88" stroke="#b17a44" stroke-opacity="0.25" stroke-width="0.5"/>
<circle cx="1078.4" cy="376.0" r="2.9" fill="#fee08b" fill-opacity="0.88" stroke="#b29d61" stroke-opacity="0.25" stroke-width="0.5"/>
<circle cx="1070.7" cy="376.0" r="12.9" fill="#d53e4f" fill-opacity="0.80" stroke="#912a36" stroke-opacity="0.70" stroke-width="0.9"/>
<circle cx="1070.7" cy="376.0" r="11.1" fill="#f46d43" fill-opacity="0.88" stroke="#ab4c2f" stroke-opacity="0.25" stroke-width="0.5"/>
<circle cx="1070.7" cy="376.0" r="9.2" fill="#fdae61" fill-opacity="0.88" stroke="#b17a44" stroke-opacity="0.25" stroke-width="0.5"/>
<circle cx="1070.7" cy="376.0" r="1.8" fill="#fee08b" fill-opacity="0.88" stroke="#b29d61" stroke-opacity="0.25" stroke-width="0.5"/>
<circle cx="790.0" cy="376.0" r="39.6" fill="#fee08b" fill-opacity="0.78" stroke="#ad985f" stroke-opacity="0.80" stroke-width="1.0"/>
<circle cx="784.1" cy="376.0" r="32.9" fill="#fee08b" fill-opacity="0.23" stroke="#ad985f" stroke-opacity="0.45" stroke-width="0.9"/>
<circle cx="784.1" cy="376.0" r="16.4" fill="#e6f598" fill-opacity="0.25" stroke="#a1ac6a" stroke-opacity="0.25" stroke-width="0.5"/>
<circle cx="777.3" cy="376.0" r="26.1" fill="#fee08b" fill-opacity="0.23" stroke="#ad985f" stroke-opacity="0.45" stroke-width="0.9"/>
<circle cx="777.3" cy="376.0" r="13.1" fill="#e6f598" fill-opacity="0.25" stroke="#a1ac6a" stroke-opacity="0.25" stroke-width="0.5"/>
<circle cx="770.2" cy="376.0" r="19.0" fill="#fee08b" fill-opacity="0.23" stroke="#ad985f" stroke-opacity="0.45" stroke-width="0.9"/>
<circle cx="770.2" cy="376.0" r="9.5" fill="#e6f598" fill-opacity="0.25" stroke="#a1ac6a" stroke-opacity="0.25" stroke-width="0.5"/>
<circle cx="790.0" cy="376.0" r="27.7" fill="#e6f598" fill-opacity="0.75" stroke="#a1ac6a" stroke-opacity="0.25" stroke-width="0.5"/>
<circle cx="790.0" cy="376.0" r="7.9" fill="#abdda4" fill-opacity="0.75" stroke="#789b73" stroke-opacity="0.25" stroke-width="0.5"/>
<circle cx="790.0" cy="376.0" r="4.0" fill="#66c2a5" fill-opacity="0.75" stroke="#478873" stroke-opacity="0.25" stroke-width="0.5"/>
<circle cx="948.6" cy="376.0" r="32.0" fill="#f46d43" fill-opacity="0.78" stroke="#a64a2e" stroke-opacity="0.80" stroke-width="1.0"/>
<circle cx="944.0" cy="376.0" r="26.6" fill="#f46d43" fill-opacity="0.80" stroke="#a64a2e" stroke-opacity="0.70" stroke-width="0.9"/>
<circle cx="944.0" cy="376.0" r="21.2" fill="#fdae61" fill-opacity="0.88" stroke="#b17a44" stroke-opacity="0.25" stroke-width="0.5"/>
<circle cx="944.0" cy="376.0" r="5.3" fill="#fee08b" fill-opacity="0.88" stroke="#b29d61" stroke-opacity="0.25" stroke-width="0.5"/>
<circle cx="938.5" cy="376.0" r="21.1" fill="#f46d43" fill-opacity="0.80" stroke="#a64a2e" stroke-opacity="0.70" stroke-width="0.9"/>
<circle cx="938.5" cy="376.0" r="16.9" fill="#fdae61" fill-opacity="0.88" stroke="#b17a44" stroke-opacity="0.25" stroke-width="0.5"/>
<circle cx="938.5" cy="376.0" r="4.2" fill="#fee08b" fill-opacity="0.88" stroke="#b29d61" stroke-opacity="0.25" stroke-width="0.5"/>
<circle cx="932.8" cy="376.0" r="15.4" fill="#f46d43" fill-opacity="0.80" stroke="#a64a2e" stroke-opacity="0.70" stroke-width="0.9"/>
<circle cx="932.8" cy="376.0" r="12.3" fill="#fdae61" fill-opacity="0.88" stroke="#b17a44" stroke-opacity="0.25" stroke-width="0.5"/>
<circle cx="932.8" cy="376.0" r="3.1" fill="#fee08b" fill-opacity="0.88" stroke="#b29d61" stroke-opacity="0.25" stroke-width="0.5"/>
<circle cx="1182.0" cy="377.0" r="28.0" fill="#d53e4f" fill-opacity="0.78" stroke="#912a36" stroke-opacity="0.80" stroke-width="1.0"/>
<circle cx="1178.0" cy="377.0" r="23.2" fill="#d53e4f" fill-opacity="0.80" stroke="#912a36" stroke-opacity="0.70" stroke-width="0.9"/>
<circle cx="1178.0" cy="377.0" r="18.6" fill="#f46d43" fill-opacity="0.88" stroke="#ab4c2f" stroke-opacity="0.25" stroke-width="0.5"/>
<circle cx="1178.0" cy="377.0" r="13.9" fill="#fdae61" fill-opacity="0.88" stroke="#b17a44" stroke-opacity="0.25" stroke-width="0.5"/>
<circle cx="1178.0" cy="377.0" r="4.6" fill="#fee08b" fill-opacity="0.88" stroke="#b29d61" stroke-opacity="0.25" stroke-width="0.5"/>
<circle cx="1173.3" cy="377.0" r="18.5" fill="#d53e4f" fill-opacity="0.80" stroke="#912a36" stroke-opacity="0.70" stroke-width="0.9"/>
<circle cx="1173.3" cy="377.0" r="14.8" fill="#f46d43" fill-opacity="0.88" stroke="#ab4c2f" stroke-opacity="0.25" stroke-width="0.5"/>
<circle cx="1173.3" cy="377.0" r="11.1" fill="#fdae61" fill-opacity="0.88" stroke="#b17a44" stroke-opacity="0.25" stroke-width="0.5"/>
<circle cx="1173.3" cy="377.0" r="3.7" fill="#fee08b" fill-opacity="0.88" stroke="#b29d61" stroke-opacity="0.25" stroke-width="0.5"/>
<circle cx="1182.0" cy="377.0" r="21.0" fill="#f46d43" fill-opacity="0.75" stroke="#ab4c2f" stroke-opacity="0.25" stroke-width="0.5"/>
<circle cx="1182.0" cy="377.0" r="14.0" fill="#fdae61" fill-opacity="0.75" stroke="#b17a44" stroke-opacity="0.25" stroke-width="0.5"/>
<circle cx="1261.0" cy="376.0" r="26.0" fill="#d53e4f" fill-opacity="0.78" stroke="#912a36" stroke-opacity="0.80" stroke-width="1.0"/>
<circle cx="1261.0" cy="376.0" r="6.5" fill="#f46d43" fill-opacity="0.75" stroke="#ab4c2f" stroke-opacity="0.25" stroke-width="0.5"/>
<circle cx="1336.0" cy="376.0" r="14.6" fill="#d53e4f" fill-opacity="0.85" stroke="#912a36" stroke-opacity="0.80" stroke-width="1.0"/>
<circle cx="917.0" cy="377.0" r="14.0" fill="#fdae61" fill-opacity="0.30" stroke="#ac7642" stroke-opacity="0.80" stroke-width="1.0"/>
<circle cx="1240.0" cy="376.0" r="13.0" fill="#d53e4f" fill-opacity="0.85" stroke="#912a36" stroke-opacity="0.80" stroke-width="1.0"/>
<circle cx="990.0" cy="377.0" r="12.5" fill="#d53e4f" fill-opacity="0.85" stroke="#912a36" stroke-opacity="0.80" stroke-width="1.0"/>
<circle cx="990.0" cy="377.0" r="8.3" fill="#fdae61" fill-opacity="0.85" stroke="#b17a44" stroke-opacity="0.25" stroke-width="0.5"/>
<circle cx="1066.0" cy="378.0" r="12.5" fill="#d53e4f" fill-opacity="0.85" stroke="#912a36" stroke-opacity="0.80" stroke-width="1.0"/>
<circle cx="1066.0" cy="378.0" r="8.3" fill="#fdae61" fill-opacity="0.85" stroke="#b17a44" stroke-opacity="0.25" stroke-width="0.5"/>
<circle cx="1230.0" cy="376.0" r="12.0" fill="#d53e4f" fill-opacity="0.85" stroke="#912a36" stroke-opacity="0.80" stroke-width="1.0"/>
<circle cx="1230.0" cy="376.0" r="6.0" fill="#f46d43" fill-opacity="0.85" stroke="#ab4c2f" stroke-opacity="0.25" stroke-width="0.5"/>
<circle cx="1222.0" cy="376.0" r="11.0" fill="#d53e4f" fill-opacity="0.85" stroke="#912a36" stroke-opacity="0.80" stroke-width="1.0"/>
<circle cx="720.5" cy="376.0" r="10.3" fill="#ffffbf" fill-opacity="0.85" stroke="#d8c870" stroke-opacity="0.80" stroke-width="1.0"/>
<circle cx="837.0" cy="377.0" r="10.0" fill="#e6f598" fill-opacity="0.85" stroke="#c09050" stroke-opacity="0.80" stroke-width="1.0"/>
<circle cx="1145.5" cy="378.0" r="10.0" fill="#d53e4f" fill-opacity="0.85" stroke="#912a36" stroke-opacity="0.80" stroke-width="1.0"/>
<circle cx="1145.5" cy="378.0" r="6.7" fill="#f46d43" fill-opacity="0.85" stroke="#ab4c2f" stroke-opacity="0.25" stroke-width="0.5"/>
<circle cx="1145.5" cy="378.0" r="3.3" fill="#fdae61" fill-opacity="0.85" stroke="#b17a44" stroke-opacity="0.25" stroke-width="0.5"/>
<circle cx="1296.0" cy="376.0" r="10.0" fill="#d53e4f" fill-opacity="0.85" stroke="#912a36" stroke-opacity="0.80" stroke-width="1.0"/>
<circle cx="1308.0" cy="376.0" r="10.0" fill="#d53e4f" fill-opacity="0.85" stroke="#912a36" stroke-opacity="0.80" stroke-width="1.0"/>
<circle cx="759.5" cy="376.0" r="9.5" fill="#e6f598" fill-opacity="0.85" stroke="#b0a050" stroke-opacity="0.80" stroke-width="1.2"/>
<circle cx="913.0" cy="377.0" r="9.5" fill="#e6f598" fill-opacity="0.85" stroke="#c07040" stroke-opacity="0.80" stroke-width="1.2"/>
<circle cx="644.0" cy="468.0" r="31.5" fill="#e6f598" fill-opacity="0.78" stroke="#9ca767" stroke-opacity="0.80" stroke-width="1.0"/>
<circle cx="639.4" cy="468.0" r="26.1" fill="#e6f598" fill-opacity="0.18" stroke="#9ca767" stroke-opacity="0.45" stroke-width="0.9"/>
<circle cx="634.1" cy="468.0" r="20.8" fill="#e6f598" fill-opacity="0.18" stroke="#9ca767" stroke-opacity="0.45" stroke-width="0.9"/>
<circle cx="644.0" cy="468.0" r="22.1" fill="#abdda4" fill-opacity="0.75" stroke="#789b73" stroke-opacity="0.25" stroke-width="0.5"/>
<circle cx="644.0" cy="468.0" r="18.9" fill="#66c2a5" fill-opacity="0.75" stroke="#478873" stroke-opacity="0.25" stroke-width="0.5"/>
<circle cx="644.0" cy="468.0" r="9.4" fill="#3288bd" fill-opacity="0.75" stroke="#235f84" stroke-opacity="0.25" stroke-width="0.5"/>
<circle cx="644.0" cy="468.0" r="3.1" fill="#6253be" fill-opacity="0.75" stroke="#453a85" stroke-opacity="0.25" stroke-width="0.5"/>
<circle cx="719.0" cy="468.0" r="29.0" fill="#e6f598" fill-opacity="0.78" stroke="#9ca767" stroke-opacity="0.80" stroke-width="1.0"/>
<circle cx="714.9" cy="468.0" r="24.1" fill="#e6f598" fill-opacity="0.18" stroke="#9ca767" stroke-opacity="0.45" stroke-width="0.9"/>
<circle cx="709.9" cy="468.0" r="19.1" fill="#e6f598" fill-opacity="0.18" stroke="#9ca767" stroke-opacity="0.45" stroke-width="0.9"/>
<circle cx="719.0" cy="468.0" r="9.7" fill="#abdda4" fill-opacity="0.75" stroke="#789b73" stroke-opacity="0.25" stroke-width="0.5"/>
<circle cx="719.0" cy="468.0" r="4.8" fill="#66c2a5" fill-opacity="0.75" stroke="#478873" stroke-opacity="0.25" stroke-width="0.5"/>
<circle cx="875.0" cy="467.0" r="28.0" fill="#fdae61" fill-opacity="0.78" stroke="#ac7642" stroke-opacity="0.80" stroke-width="1.0"/>
<circle cx="875.0" cy="467.0" r="16.0" fill="#fee08b" fill-opacity="0.75" stroke="#b29d61" stroke-opacity="0.25" stroke-width="0.5"/>
<circle cx="875.0" cy="467.0" r="8.0" fill="#ffffbf" fill-opacity="0.75" stroke="#b2b286" stroke-opacity="0.25" stroke-width="0.5"/>
<circle cx="875.0" cy="467.0" r="4.0" fill="#e6f598" fill-opacity="0.75" stroke="#a1ac6a" stroke-opacity="0.25" stroke-width="0.5"/>
<circle cx="565.0" cy="466.0" r="22.7" fill="#abdda4" fill-opacity="0.78" stroke="#749670" stroke-opacity="0.80" stroke-width="1.0"/>
<circle cx="565.0" cy="466.0" r="20.4" fill="#66c2a5" fill-opacity="0.75" stroke="#478873" stroke-opacity="0.25" stroke-width="0.5"/>
<circle cx="565.0" cy="466.0" r="11.3" fill="#3288bd" fill-opacity="0.75" stroke="#235f84" stroke-opacity="0.25" stroke-width="0.5"/>
<circle cx="565.0" cy="466.0" r="4.5" fill="#6253be" fill-opacity="0.75" stroke="#453a85" stroke-opacity="0.25" stroke-width="0.5"/>
<circle cx="695.0" cy="467.0" r="21.5" fill="#66c2a5" fill-opacity="0.78" stroke="#458470" stroke-opacity="0.80" stroke-width="1.0"/>
<circle cx="695.0" cy="467.0" r="5.4" fill="#3288bd" fill-opacity="0.75" stroke="#235f84" stroke-opacity="0.25" stroke-width="0.5"/>
<circle cx="417.0" cy="470.0" r="17.0" fill="#3288bd" fill-opacity="0.78" stroke="#225c81" stroke-opacity="0.80" stroke-width="1.0"/>
<circle cx="488.0" cy="464.0" r="17.0" fill="#66c2a5" fill-opacity="0.78" stroke="#458470" stroke-opacity="0.80" stroke-width="1.0"/>
<circle cx="488.0" cy="464.0" r="5.7" fill="#3288bd" fill-opacity="0.85" stroke="#235f84" stroke-opacity="0.25" stroke-width="0.5"/>
<circle cx="690.5" cy="467.0" r="17.0" fill="#66c2a5" fill-opacity="0.78" stroke="#458470" stroke-opacity="0.80" stroke-width="1.0"/>
<circle cx="412.0" cy="464.0" r="16.0" fill="#3288bd" fill-opacity="0.78" stroke="#225c81" stroke-opacity="0.80" stroke-width="1.0"/>
<circle cx="412.0" cy="464.0" r="8.0" fill="#6253be" fill-opacity="0.85" stroke="#453a85" stroke-opacity="0.25" stroke-width="0.5"/>
<circle cx="472.0" cy="465.0" r="14.0" fill="#66c2a5" fill-opacity="0.85" stroke="#458470" stroke-opacity="0.80" stroke-width="1.0"/>
<circle cx="497.0" cy="461.0" r="14.0" fill="#66c2a5" fill-opacity="0.85" stroke="#458470" stroke-opacity="0.80" stroke-width="1.0"/>
<circle cx="533.0" cy="466.0" r="14.0" fill="#66c2a5" fill-opacity="0.40" stroke="#458470" stroke-opacity="0.80" stroke-width="1.0"/>
<circle cx="609.0" cy="468.0" r="14.0" fill="#66c2a5" fill-opacity="0.40" stroke="#458470" stroke-opacity="0.80" stroke-width="1.0"/>
<circle cx="686.5" cy="467.0" r="13.0" fill="#66c2a5" fill-opacity="0.85" stroke="#458470" stroke-opacity="0.80" stroke-width="1.0"/>
<circle cx="337.0" cy="467.0" r="12.0" fill="#6253be" fill-opacity="0.85" stroke="#433881" stroke-opacity="0.80" stroke-width="1.0"/>
<circle cx="387.0" cy="467.0" r="12.0" fill="#6253be" fill-opacity="0.85" stroke="#433881" stroke-opacity="0.80" stroke-width="1.0"/>
<circle cx="396.0" cy="463.0" r="12.0" fill="#6253be" fill-opacity="0.85" stroke="#433881" stroke-opacity="0.80" stroke-width="1.0"/>
<circle cx="507.0" cy="467.0" r="12.0" fill="#66c2a5" fill-opacity="0.85" stroke="#458470" stroke-opacity="0.80" stroke-width="1.0"/>
<circle cx="782.0" cy="465.0" r="11.0" fill="#66c2a5" fill-opacity="0.85" stroke="#458470" stroke-opacity="0.80" stroke-width="1.0"/>
<circle cx="800.0" cy="465.0" r="11.0" fill="#e6f598" fill-opacity="0.85" stroke="#9ca767" stroke-opacity="0.80" stroke-width="1.0"/>
<circle cx="376.0" cy="467.0" r="10.0" fill="#3288bd" fill-opacity="0.85" stroke="#225c81" stroke-opacity="0.80" stroke-width="1.0"/>
<circle cx="452.0" cy="467.0" r="10.0" fill="#66c2a5" fill-opacity="0.85" stroke="#458470" stroke-opacity="0.80" stroke-width="1.0"/>
<circle cx="461.0" cy="467.0" r="10.0" fill="#66c2a5" fill-opacity="0.85" stroke="#458470" stroke-opacity="0.80" stroke-width="1.0"/>
<circle cx="461.0" cy="467.0" r="5.0" fill="#6253be" fill-opacity="0.85" stroke="#453a85" stroke-opacity="0.25" stroke-width="0.5"/>
<circle cx="608.0" cy="468.0" r="10.0" fill="#66c2a5" fill-opacity="0.85" stroke="#458470" stroke-opacity="0.80" stroke-width="1.0"/>
<circle cx="608.0" cy="468.0" r="5.0" fill="#3288bd" fill-opacity="0.85" stroke="#235f84" stroke-opacity="0.25" stroke-width="0.5"/>
<circle cx="531.7" cy="466.0" r="9.5" fill="#3288bd" fill-opacity="0.85" stroke="#225c81" stroke-opacity="0.80" stroke-width="1.0"/>
<circle cx="683.0" cy="467.0" r="9.5" fill="#66c2a5" fill-opacity="0.85" stroke="#458470" stroke-opacity="0.80" stroke-width="1.0"/>
<circle cx="299.0" cy="467.0" r="9.0" fill="#6253be" fill-opacity="0.85" stroke="#433881" stroke-opacity="0.80" stroke-width="1.0"/>
<circle cx="760.0" cy="467.0" r="9.0" fill="#66c2a5" fill-opacity="0.85" stroke="#458470" stroke-opacity="0.80" stroke-width="1.0"/>
<circle cx="837.0" cy="464.0" r="8.0" fill="#abdda4" fill-opacity="0.85" stroke="#749670" stroke-opacity="0.80" stroke-width="1.0"/>
<circle cx="645.3" cy="557.0" r="37.2" fill="#e6f598" fill-opacity="0.78" stroke="#9ca767" stroke-opacity="0.80" stroke-width="1.0"/>
<circle cx="645.3" cy="557.0" r="28.9" fill="#abdda4" fill-opacity="0.75" stroke="#789b73" stroke-opacity="0.25" stroke-width="0.5"/>
<circle cx="645.3" cy="557.0" r="24.8" fill="#66c2a5" fill-opacity="0.75" stroke="#478873" stroke-opacity="0.25" stroke-width="0.5"/>
<circle cx="645.3" cy="557.0" r="20.7" fill="#3288bd" fill-opacity="0.75" stroke="#235f84" stroke-opacity="0.25" stroke-width="0.5"/>
<circle cx="645.3" cy="557.0" r="4.1" fill="#6253be" fill-opacity="0.75" stroke="#453a85" stroke-opacity="0.25" stroke-width="0.5"/>
<circle cx="721.0" cy="557.0" r="36.0" fill="#ffffbf" fill-opacity="0.78" stroke="#adad82" stroke-opacity="0.80" stroke-width="1.0"/>
<circle cx="721.0" cy="557.0" r="27.7" fill="#e6f598" fill-opacity="0.75" stroke="#a1ac6a" stroke-opacity="0.25" stroke-width="0.5"/>
<circle cx="721.0" cy="557.0" r="22.2" fill="#abdda4" fill-opacity="0.75" stroke="#789b73" stroke-opacity="0.25" stroke-width="0.5"/>
<circle cx="721.0" cy="557.0" r="19.4" fill="#66c2a5" fill-opacity="0.75" stroke="#478873" stroke-opacity="0.25" stroke-width="0.5"/>
<circle cx="721.0" cy="557.0" r="13.8" fill="#3288bd" fill-opacity="0.75" stroke="#235f84" stroke-opacity="0.25" stroke-width="0.5"/>
<circle cx="491.3" cy="557.0" r="26.4" fill="#abdda4" fill-opacity="0.78" stroke="#749670" stroke-opacity="0.80" stroke-width="1.0"/>
<circle cx="491.3" cy="557.0" r="23.8" fill="#66c2a5" fill-opacity="0.75" stroke="#478873" stroke-opacity="0.25" stroke-width="0.5"/>
<circle cx="491.3" cy="557.0" r="18.5" fill="#3288bd" fill-opacity="0.75" stroke="#235f84" stroke-opacity="0.25" stroke-width="0.5"/>
<circle cx="491.3" cy="557.0" r="2.6" fill="#6253be" fill-opacity="0.75" stroke="#453a85" stroke-opacity="0.25" stroke-width="0.5"/>
<circle cx="413.5" cy="558.0" r="23.5" fill="#3288bd" fill-opacity="0.78" stroke="#225c81" stroke-opacity="0.80" stroke-width="1.0"/>
<circle cx="404.7" cy="554.0" r="19.0" fill="#3288bd" fill-opacity="0.78" stroke="#225c81" stroke-opacity="0.80" stroke-width="1.0"/>
<circle cx="338.0" cy="558.0" r="17.0" fill="#6253be" fill-opacity="0.78" stroke="#433881" stroke-opacity="0.80" stroke-width="1.0"/>
<circle cx="393.7" cy="557.0" r="17.0" fill="#3288bd" fill-opacity="0.78" stroke="#225c81" stroke-opacity="0.80" stroke-width="1.0"/>
<circle cx="393.7" cy="557.0" r="3.4" fill="#6253be" fill-opacity="0.85" stroke="#453a85" stroke-opacity="0.25" stroke-width="0.5"/>
<circle cx="611.4" cy="556.0" r="15.0" fill="#e6f598" fill-opacity="0.50" stroke="#9ca767" stroke-opacity="0.80" stroke-width="1.0"/>
<circle cx="611.4" cy="556.0" r="7.5" fill="#abdda4" fill-opacity="0.85" stroke="#789b73" stroke-opacity="0.25" stroke-width="0.5"/>
<circle cx="797.6" cy="557.0" r="14.4" fill="#e6f598" fill-opacity="0.85" stroke="#9ca767" stroke-opacity="0.80" stroke-width="1.0"/>
<circle cx="472.0" cy="554.0" r="14.0" fill="#66c2a5" fill-opacity="0.85" stroke="#458470" stroke-opacity="0.80" stroke-width="1.0"/>
<circle cx="385.0" cy="557.0" r="13.0" fill="#3288bd" fill-opacity="0.85" stroke="#225c81" stroke-opacity="0.80" stroke-width="1.0"/>
<circle cx="564.0" cy="554.0" r="12.0" fill="#66c2a5" fill-opacity="0.85" stroke="#458470" stroke-opacity="0.80" stroke-width="1.0"/>
<circle cx="570.0" cy="556.0" r="12.0" fill="#66c2a5" fill-opacity="0.85" stroke="#458470" stroke-opacity="0.80" stroke-width="1.0"/>
<circle cx="570.0" cy="556.0" r="6.0" fill="#3288bd" fill-opacity="0.85" stroke="#235f84" stroke-opacity="0.25" stroke-width="0.5"/>
<circle cx="553.0" cy="557.0" r="11.0" fill="#66c2a5" fill-opacity="0.85" stroke="#458470" stroke-opacity="0.80" stroke-width="1.0"/>
<circle cx="553.0" cy="557.0" r="5.5" fill="#3288bd" fill-opacity="0.85" stroke="#235f84" stroke-opacity="0.25" stroke-width="0.5"/>
<circle cx="305.0" cy="556.0" r="10.0" fill="#6253be" fill-opacity="0.85" stroke="#433881" stroke-opacity="0.80" stroke-width="1.0"/>
<circle cx="314.0" cy="555.0" r="10.0" fill="#6253be" fill-opacity="0.85" stroke="#433881" stroke-opacity="0.80" stroke-width="1.0"/>
<circle cx="460.5" cy="556.0" r="10.0" fill="#6253be" fill-opacity="0.85" stroke="#433881" stroke-opacity="0.80" stroke-width="1.0"/>
<circle cx="527.6" cy="557.0" r="10.0" fill="#66c2a5" fill-opacity="0.85" stroke="#458470" stroke-opacity="0.80" stroke-width="1.0"/>
<circle cx="539.0" cy="557.0" r="10.0" fill="#6253be" fill-opacity="0.85" stroke="#433881" stroke-opacity="0.80" stroke-width="1.0"/>
<circle cx="606.3" cy="557.0" r="10.0" fill="#3288bd" fill-opacity="0.85" stroke="#3a8a5a" stroke-opacity="0.80" stroke-width="1.2"/>
<circle cx="682.5" cy="557.0" r="10.0" fill="#3288bd" fill-opacity="0.85" stroke="#205080" stroke-opacity="0.80" stroke-width="1.2"/>
<circle cx="376.0" cy="557.0" r="9.5" fill="#3288bd" fill-opacity="0.85" stroke="#225c81" stroke-opacity="0.80" stroke-width="1.0"/>
<circle cx="451.7" cy="557.0" r="9.5" fill="#6253be" fill-opacity="0.85" stroke="#433881" stroke-opacity="0.80" stroke-width="1.0"/>
<circle cx="297.0" cy="557.0" r="9.0" fill="#6253be" fill-opacity="0.85" stroke="#433881" stroke-opacity="0.80" stroke-width="1.0"/>
<circle cx="324.0" cy="555.0" r="9.0" fill="#6253be" fill-opacity="0.85" stroke="#433881" stroke-opacity="0.80" stroke-width="1.0"/>
<circle cx="759.5" cy="556.0" r="8.0" fill="#66c2a5" fill-opacity="0.85" stroke="#458470" stroke-opacity="0.80" stroke-width="1.0"/>
<circle cx="719.0" cy="648.0" r="25.0" fill="#ffffbf" fill-opacity="0.78" stroke="#adad82" stroke-opacity="0.80" stroke-width="1.0"/>
<circle cx="719.0" cy="648.0" r="20.8" fill="#e6f598" fill-opacity="0.75" stroke="#a1ac6a" stroke-opacity="0.25" stroke-width="0.5"/>
<circle cx="719.0" cy="648.0" r="12.5" fill="#abdda4" fill-opacity="0.75" stroke="#789b73" stroke-opacity="0.25" stroke-width="0.5"/>
<circle cx="719.0" cy="648.0" r="8.3" fill="#66c2a5" fill-opacity="0.75" stroke="#478873" stroke-opacity="0.25" stroke-width="0.5"/>
<circle cx="719.0" cy="648.0" r="4.2" fill="#3288bd" fill-opacity="0.75" stroke="#235f84" stroke-opacity="0.25" stroke-width="0.5"/>
<circle cx="875.0" cy="646.0" r="23.0" fill="#fdae61" fill-opacity="0.78" stroke="#ac7642" stroke-opacity="0.80" stroke-width="1.0"/>
<circle cx="875.0" cy="646.0" r="13.8" fill="#fee08b" fill-opacity="0.75" stroke="#b29d61" stroke-opacity="0.25" stroke-width="0.5"/>
<circle cx="875.0" cy="646.0" r="9.2" fill="#ffffbf" fill-opacity="0.75" stroke="#b2b286" stroke-opacity="0.25" stroke-width="0.5"/>
<circle cx="875.0" cy="646.0" r="4.6" fill="#e6f598" fill-opacity="0.75" stroke="#a1ac6a" stroke-opacity="0.25" stroke-width="0.5"/>
<circle cx="947.5" cy="646.0" r="20.0" fill="#f46d43" fill-opacity="0.78" stroke="#a64a2e" stroke-opacity="0.80" stroke-width="1.0"/>
<circle cx="947.5" cy="646.0" r="15.0" fill="#fdae61" fill-opacity="0.75" stroke="#b17a44" stroke-opacity="0.25" stroke-width="0.5"/>
<circle cx="947.5" cy="646.0" r="5.0" fill="#fee08b" fill-opacity="0.75" stroke="#b29d61" stroke-opacity="0.25" stroke-width="0.5"/>
<circle cx="1029.7" cy="648.0" r="20.0" fill="#d53e4f" fill-opacity="0.78" stroke="#912a36" stroke-opacity="0.80" stroke-width="1.0"/>
<circle cx="1029.7" cy="648.0" r="12.0" fill="#f46d43" fill-opacity="0.75" stroke="#ab4c2f" stroke-opacity="0.25" stroke-width="0.5"/>
<circle cx="1029.7" cy="648.0" r="8.0" fill="#fdae61" fill-opacity="0.75" stroke="#b17a44" stroke-opacity="0.25" stroke-width="0.5"/>
<circle cx="1029.7" cy="648.0" r="4.0" fill="#fee08b" fill-opacity="0.75" stroke="#b29d61" stroke-opacity="0.25" stroke-width="0.5"/>
<circle cx="1181.0" cy="648.0" r="20.0" fill="#d53e4f" fill-opacity="0.78" stroke="#912a36" stroke-opacity="0.80" stroke-width="1.0"/>
<circle cx="1181.0" cy="648.0" r="12.0" fill="#f46d43" fill-opacity="0.75" stroke="#ab4c2f" stroke-opacity="0.25" stroke-width="0.5"/>
<circle cx="1181.0" cy="648.0" r="8.0" fill="#fdae61" fill-opacity="0.75" stroke="#b17a44" stroke-opacity="0.25" stroke-width="0.5"/>
<circle cx="1181.0" cy="648.0" r="4.0" fill="#fee08b" fill-opacity="0.75" stroke="#b29d61" stroke-opacity="0.25" stroke-width="0.5"/>
<circle cx="856.0" cy="647.0" r="17.0" fill="#fee08b" fill-opacity="0.78" stroke="#ad985f" stroke-opacity="0.80" stroke-width="1.0"/>
<circle cx="856.0" cy="647.0" r="11.3" fill="#ffffbf" fill-opacity="0.85" stroke="#b2b286" stroke-opacity="0.25" stroke-width="0.5"/>
<circle cx="856.0" cy="647.0" r="5.7" fill="#e6f598" fill-opacity="0.85" stroke="#a1ac6a" stroke-opacity="0.25" stroke-width="0.5"/>
<circle cx="644.0" cy="648.0" r="15.0" fill="#abdda4" fill-opacity="0.85" stroke="#749670" stroke-opacity="0.80" stroke-width="1.0"/>
<circle cx="644.0" cy="648.0" r="9.0" fill="#66c2a5" fill-opacity="0.85" stroke="#478873" stroke-opacity="0.25" stroke-width="0.5"/>
<circle cx="644.0" cy="648.0" r="3.0" fill="#3288bd" fill-opacity="0.85" stroke="#235f84" stroke-opacity="0.25" stroke-width="0.5"/>
<circle cx="1107.0" cy="648.0" r="15.0" fill="#d53e4f" fill-opacity="0.85" stroke="#912a36" stroke-opacity="0.80" stroke-width="1.0"/>
<circle cx="1107.0" cy="648.0" r="5.0" fill="#f46d43" fill-opacity="0.85" stroke="#ab4c2f" stroke-opacity="0.25" stroke-width="0.5"/>
<circle cx="553.0" cy="648.0" r="13.0" fill="#6253be" fill-opacity="0.85" stroke="#433881" stroke-opacity="0.80" stroke-width="1.0"/>
<circle cx="1004.0" cy="646.0" r="13.0" fill="#fdae61" fill-opacity="0.85" stroke="#ac7642" stroke-opacity="0.80" stroke-width="1.0"/>
<circle cx="1004.0" cy="646.0" r="6.5" fill="#fee08b" fill-opacity="0.85" stroke="#b29d61" stroke-opacity="0.25" stroke-width="0.5"/>
<circle cx="797.0" cy="644.0" r="12.5" fill="#fdae61" fill-opacity="0.85" stroke="#ac7642" stroke-opacity="0.80" stroke-width="1.0"/>
<circle cx="797.0" cy="644.0" r="6.2" fill="#fee08b" fill-opacity="0.85" stroke="#b29d61" stroke-opacity="0.25" stroke-width="0.5"/>
<circle cx="412.0" cy="648.0" r="12.0" fill="#6253be" fill-opacity="0.85" stroke="#433881" stroke-opacity="0.80" stroke-width="1.0"/>
<circle cx="788.0" cy="645.0" r="12.0" fill="#fee08b" fill-opacity="0.85" stroke="#ad985f" stroke-opacity="0.80" stroke-width="1.0"/>
<circle cx="1259.0" cy="648.0" r="12.0" fill="#f46d43" fill-opacity="0.85" stroke="#a64a2e" stroke-opacity="0.80" stroke-width="1.0"/>
<circle cx="337.0" cy="648.0" r="11.0" fill="#6253be" fill-opacity="0.85" stroke="#433881" stroke-opacity="0.80" stroke-width="1.0"/>
<circle cx="394.0" cy="648.0" r="11.0" fill="#6253be" fill-opacity="0.85" stroke="#433881" stroke-opacity="0.80" stroke-width="1.0"/>
<circle cx="568.6" cy="644.0" r="11.0" fill="#abdda4" fill-opacity="0.85" stroke="#749670" stroke-opacity="0.80" stroke-width="1.0"/>
<circle cx="780.0" cy="645.0" r="11.0" fill="#fdae61" fill-opacity="0.85" stroke="#ac7642" stroke-opacity="0.80" stroke-width="1.0"/>
<circle cx="1220.0" cy="648.0" r="11.0" fill="#d53e4f" fill-opacity="0.85" stroke="#912a36" stroke-opacity="0.80" stroke-width="1.0"/>
<circle cx="535.5" cy="648.0" r="10.0" fill="#6253be" fill-opacity="0.85" stroke="#433881" stroke-opacity="0.80" stroke-width="1.0"/>
<circle cx="773.0" cy="646.0" r="10.0" fill="#fee08b" fill-opacity="0.85" stroke="#ad985f" stroke-opacity="0.80" stroke-width="1.0"/>
<circle cx="807.0" cy="645.0" r="10.0" fill="#fee08b" fill-opacity="0.85" stroke="#ad985f" stroke-opacity="0.80" stroke-width="1.0"/>
<circle cx="837.0" cy="648.0" r="10.0" fill="#abdda4" fill-opacity="0.85" stroke="#749670" stroke-opacity="0.80" stroke-width="1.0"/>
<circle cx="924.0" cy="648.0" r="10.0" fill="#fee08b" fill-opacity="0.85" stroke="#ad985f" stroke-opacity="0.80" stroke-width="1.0"/>
<circle cx="1091.0" cy="646.0" r="10.0" fill="#fdae61" fill-opacity="0.85" stroke="#ac7642" stroke-opacity="0.80" stroke-width="1.0"/>
<circle cx="1091.0" cy="646.0" r="5.0" fill="#fee08b" fill-opacity="0.85" stroke="#b29d61" stroke-opacity="0.25" stroke-width="0.5"/>
<circle cx="375.0" cy="648.0" r="9.0" fill="#6253be" fill-opacity="0.85" stroke="#433881" stroke-opacity="0.80" stroke-width="1.0"/>
<circle cx="529.0" cy="648.0" r="9.0" fill="#abdda4" fill-opacity="0.85" stroke="#749670" stroke-opacity="0.80" stroke-width="1.0"/>
<circle cx="683.0" cy="648.0" r="9.0" fill="#abdda4" fill-opacity="0.85" stroke="#749670" stroke-opacity="0.80" stroke-width="1.0"/>
<circle cx="766.0" cy="648.0" r="9.0" fill="#fee08b" fill-opacity="0.85" stroke="#ad985f" stroke-opacity="0.80" stroke-width="1.0"/>
<circle cx="913.0" cy="648.0" r="9.0" fill="#abdda4" fill-opacity="0.85" stroke="#749670" stroke-opacity="0.80" stroke-width="1.0"/>
<circle cx="988.6" cy="648.0" r="9.0" fill="#fee08b" fill-opacity="0.85" stroke="#ad985f" stroke-opacity="0.80" stroke-width="1.0"/>
<circle cx="1066.0" cy="648.0" r="9.0" fill="#f46d43" fill-opacity="0.85" stroke="#a64a2e" stroke-opacity="0.80" stroke-width="1.0"/>
<circle cx="1080.0" cy="648.0" r="9.0" fill="#fee08b" fill-opacity="0.85" stroke="#ad985f" stroke-opacity="0.80" stroke-width="1.0"/>
<circle cx="1143.5" cy="648.0" r="9.0" fill="#f46d43" fill-opacity="0.85" stroke="#a64a2e" stroke-opacity="0.80" stroke-width="1.0"/>
<circle cx="760.0" cy="648.0" r="8.0" fill="#abdda4" fill-opacity="0.85" stroke="#749670" stroke-opacity="0.80" stroke-width="1.0"/>
<circle cx="605.0" cy="648.0" r="7.0" fill="#abdda4" fill-opacity="0.85" stroke="#749670" stroke-opacity="0.80" stroke-width="1.0"/>
<circle cx="867.8" cy="738.0" r="42.3" fill="#fdae61" fill-opacity="0.78" stroke="#ac7642" stroke-opacity="0.80" stroke-width="1.0"/>
<circle cx="861.4" cy="738.0" r="35.1" fill="#fdae61" fill-opacity="0.20" stroke="#ac7642" stroke-opacity="0.45" stroke-width="0.9"/>
<circle cx="861.4" cy="738.0" r="26.3" fill="#fee08b" fill-opacity="0.22" stroke="#b29d61" stroke-opacity="0.25" stroke-width="0.5"/>
<circle cx="854.2" cy="738.0" r="27.9" fill="#fdae61" fill-opacity="0.20" stroke="#ac7642" stroke-opacity="0.45" stroke-width="0.9"/>
<circle cx="854.2" cy="738.0" r="20.9" fill="#fee08b" fill-opacity="0.22" stroke="#b29d61" stroke-opacity="0.25" stroke-width="0.5"/>
<circle cx="846.6" cy="738.0" r="20.3" fill="#fdae61" fill-opacity="0.20" stroke="#ac7642" stroke-opacity="0.45" stroke-width="0.9"/>
<circle cx="846.6" cy="738.0" r="15.2" fill="#fee08b" fill-opacity="0.22" stroke="#b29d61" stroke-opacity="0.25" stroke-width="0.5"/>
<circle cx="839.0" cy="738.0" r="12.7" fill="#fdae61" fill-opacity="0.20" stroke="#ac7642" stroke-opacity="0.45" stroke-width="0.9"/>
<circle cx="839.0" cy="738.0" r="9.5" fill="#fee08b" fill-opacity="0.22" stroke="#b29d61" stroke-opacity="0.25" stroke-width="0.5"/>
<circle cx="867.8" cy="738.0" r="15.9" fill="#fee08b" fill-opacity="0.75" stroke="#b29d61" stroke-opacity="0.25" stroke-width="0.5"/>
<circle cx="867.8" cy="738.0" r="5.3" fill="#ffffbf" fill-opacity="0.75" stroke="#b2b286" stroke-opacity="0.25" stroke-width="0.5"/>
<circle cx="951.6" cy="738.0" r="40.6" fill="#f46d43" fill-opacity="0.78" stroke="#a64a2e" stroke-opacity="0.80" stroke-width="1.0"/>
<circle cx="951.6" cy="738.0" r="31.6" fill="#fdae61" fill-opacity="0.75" stroke="#b17a44" stroke-opacity="0.25" stroke-width="0.5"/>
<circle cx="951.6" cy="738.0" r="22.6" fill="#fee08b" fill-opacity="0.75" stroke="#b29d61" stroke-opacity="0.25" stroke-width="0.5"/>
<circle cx="951.6" cy="738.0" r="9.0" fill="#ffffbf" fill-opacity="0.75" stroke="#b2b286" stroke-opacity="0.25" stroke-width="0.5"/>
<circle cx="1183.0" cy="738.0" r="27.0" fill="#d53e4f" fill-opacity="0.78" stroke="#912a36" stroke-opacity="0.80" stroke-width="1.0"/>
<circle cx="1183.0" cy="738.0" r="13.5" fill="#f46d43" fill-opacity="0.75" stroke="#ab4c2f" stroke-opacity="0.25" stroke-width="0.5"/>
<circle cx="1183.0" cy="738.0" r="10.1" fill="#fdae61" fill-opacity="0.75" stroke="#b17a44" stroke-opacity="0.25" stroke-width="0.5"/>
<circle cx="1183.0" cy="738.0" r="6.8" fill="#fee08b" fill-opacity="0.75" stroke="#b29d61" stroke-opacity="0.25" stroke-width="0.5"/>
<circle cx="799.3" cy="738.0" r="22.0" fill="#fee08b" fill-opacity="0.78" stroke="#ad985f" stroke-opacity="0.80" stroke-width="1.0"/>
<circle cx="799.3" cy="738.0" r="13.2" fill="#ffffbf" fill-opacity="0.75" stroke="#b2b286" stroke-opacity="0.25" stroke-width="0.5"/>
<circle cx="799.3" cy="738.0" r="4.4" fill="#e6f598" fill-opacity="0.75" stroke="#a1ac6a" stroke-opacity="0.25" stroke-width="0.5"/>
<circle cx="1142.0" cy="738.0" r="18.0" fill="#f46d43" fill-opacity="0.78" stroke="#a64a2e" stroke-opacity="0.80" stroke-width="1.0"/>
<circle cx="1142.0" cy="738.0" r="9.0" fill="#fdae61" fill-opacity="0.85" stroke="#b17a44" stroke-opacity="0.25" stroke-width="0.5"/>
<circle cx="1142.0" cy="738.0" r="4.5" fill="#fee08b" fill-opacity="0.85" stroke="#b29d61" stroke-opacity="0.25" stroke-width="0.5"/>
<circle cx="644.0" cy="738.0" r="16.0" fill="#abdda4" fill-opacity="0.78" stroke="#749670" stroke-opacity="0.80" stroke-width="1.0"/>
<circle cx="644.0" cy="738.0" r="8.0" fill="#66c2a5" fill-opacity="0.85" stroke="#478873" stroke-opacity="0.25" stroke-width="0.5"/>
<circle cx="1027.8" cy="738.0" r="16.0" fill="#fee08b" fill-opacity="0.78" stroke="#ad985f" stroke-opacity="0.80" stroke-width="1.0"/>
<circle cx="1027.8" cy="738.0" r="5.3" fill="#ffffbf" fill-opacity="0.85" stroke="#b2b286" stroke-opacity="0.25" stroke-width="0.5"/>
<circle cx="714.0" cy="734.0" r="15.0" fill="#e6f598" fill-opacity="0.85" stroke="#9ca767" stroke-opacity="0.80" stroke-width="1.0"/>
<circle cx="714.0" cy="734.0" r="7.5" fill="#66c2a5" fill-opacity="0.85" stroke="#478873" stroke-opacity="0.25" stroke-width="0.5"/>
<circle cx="568.5" cy="738.0" r="14.0" fill="#abdda4" fill-opacity="0.85" stroke="#749670" stroke-opacity="0.80" stroke-width="1.0"/>
<circle cx="568.5" cy="738.0" r="7.0" fill="#66c2a5" fill-opacity="0.85" stroke="#478873" stroke-opacity="0.25" stroke-width="0.5"/>
<circle cx="698.0" cy="736.0" r="14.0" fill="#66c2a5" fill-opacity="0.85" stroke="#458470" stroke-opacity="0.80" stroke-width="1.0"/>
<circle cx="725.0" cy="736.0" r="14.0" fill="#e6f598" fill-opacity="0.85" stroke="#9ca767" stroke-opacity="0.80" stroke-width="1.0"/>
<circle cx="725.0" cy="736.0" r="7.0" fill="#abdda4" fill-opacity="0.85" stroke="#789b73" stroke-opacity="0.25" stroke-width="0.5"/>
<circle cx="767.0" cy="738.0" r="13.0" fill="#fee08b" fill-opacity="0.45" stroke="#ad985f" stroke-opacity="0.80" stroke-width="1.0"/>
<circle cx="767.0" cy="738.0" r="8.7" fill="#ffffbf" fill-opacity="0.85" stroke="#b2b286" stroke-opacity="0.25" stroke-width="0.5"/>
<circle cx="767.0" cy="738.0" r="4.3" fill="#e6f598" fill-opacity="0.85" stroke="#a1ac6a" stroke-opacity="0.25" stroke-width="0.5"/>
<circle cx="1105.0" cy="738.0" r="11.0" fill="#fdae61" fill-opacity="0.85" stroke="#ac7642" stroke-opacity="0.80" stroke-width="1.0"/>
<circle cx="1258.0" cy="738.0" r="11.0" fill="#f46d43" fill-opacity="0.85" stroke="#a64a2e" stroke-opacity="0.80" stroke-width="1.0"/>
<circle cx="527.4" cy="736.0" r="10.0" fill="#66c2a5" fill-opacity="0.85" stroke="#458470" stroke-opacity="0.80" stroke-width="1.0"/>
<circle cx="834.8" cy="738.0" r="10.0" fill="#e6f598" fill-opacity="0.85" stroke="#a0a040" stroke-opacity="0.80" stroke-width="1.0"/>
<circle cx="914.4" cy="741.0" r="10.0" fill="#e6f598" fill-opacity="0.85" stroke="#d06030" stroke-opacity="0.80" stroke-width="1.2"/>
<circle cx="990.5" cy="738.0" r="9.3" fill="#fdae61" fill-opacity="0.85" stroke="#ac7642" stroke-opacity="0.80" stroke-width="1.0"/>
<circle cx="682.0" cy="738.0" r="9.0" fill="#e6f598" fill-opacity="0.85" stroke="#9ca767" stroke-opacity="0.80" stroke-width="1.0"/>
<circle cx="1066.0" cy="738.0" r="9.0" fill="#f46d43" fill-opacity="0.85" stroke="#a64a2e" stroke-opacity="0.80" stroke-width="1.0"/>
<circle cx="763.7" cy="739.0" r="8.5" fill="#e6f598" fill-opacity="0.85" stroke="#9ca767" stroke-opacity="0.80" stroke-width="1.0"/>
<circle cx="605.0" cy="738.0" r="8.0" fill="#abdda4" fill-opacity="0.85" stroke="#749670" stroke-opacity="0.80" stroke-width="1.0"/>
<circle cx="639.0" cy="829.0" r="46.5" fill="#e6f598" fill-opacity="0.78" stroke="#9ca767" stroke-opacity="0.80" stroke-width="1.0"/>
<circle cx="631.9" cy="829.0" r="38.6" fill="#e6f598" fill-opacity="0.14" stroke="#9ca767" stroke-opacity="0.45" stroke-width="0.9"/>
<circle cx="624.0" cy="829.0" r="30.7" fill="#e6f598" fill-opacity="0.14" stroke="#9ca767" stroke-opacity="0.45" stroke-width="0.9"/>
<circle cx="615.6" cy="829.0" r="22.3" fill="#e6f598" fill-opacity="0.14" stroke="#9ca767" stroke-opacity="0.45" stroke-width="0.9"/>
<circle cx="789.8" cy="829.0" r="42.3" fill="#fee08b" fill-opacity="0.78" stroke="#ad985f" stroke-opacity="0.80" stroke-width="1.0"/>
<circle cx="783.4" cy="829.0" r="35.1" fill="#fee08b" fill-opacity="0.18" stroke="#ad985f" stroke-opacity="0.45" stroke-width="0.9"/>
<circle cx="783.4" cy="829.0" r="17.6" fill="#ffffbf" fill-opacity="0.20" stroke="#b2b286" stroke-opacity="0.25" stroke-width="0.5"/>
<circle cx="776.2" cy="829.0" r="27.9" fill="#fee08b" fill-opacity="0.18" stroke="#ad985f" stroke-opacity="0.45" stroke-width="0.9"/>
<circle cx="776.2" cy="829.0" r="14.0" fill="#ffffbf" fill-opacity="0.20" stroke="#b2b286" stroke-opacity="0.25" stroke-width="0.5"/>
<circle cx="768.6" cy="829.0" r="20.3" fill="#fee08b" fill-opacity="0.18" stroke="#ad985f" stroke-opacity="0.45" stroke-width="0.9"/>
<circle cx="768.6" cy="829.0" r="10.2" fill="#ffffbf" fill-opacity="0.20" stroke="#b2b286" stroke-opacity="0.25" stroke-width="0.5"/>
<circle cx="761.0" cy="829.0" r="12.7" fill="#fee08b" fill-opacity="0.18" stroke="#ad985f" stroke-opacity="0.45" stroke-width="0.9"/>
<circle cx="761.0" cy="829.0" r="6.3" fill="#ffffbf" fill-opacity="0.20" stroke="#b2b286" stroke-opacity="0.25" stroke-width="0.5"/>
<circle cx="789.8" cy="829.0" r="25.4" fill="#ffffbf" fill-opacity="0.75" stroke="#b2b286" stroke-opacity="0.25" stroke-width="0.5"/>
<circle cx="789.8" cy="829.0" r="12.7" fill="#e6f598" fill-opacity="0.75" stroke="#a1ac6a" stroke-opacity="0.25" stroke-width="0.5"/>
<circle cx="789.8" cy="829.0" r="8.5" fill="#abdda4" fill-opacity="0.75" stroke="#789b73" stroke-opacity="0.25" stroke-width="0.5"/>
<circle cx="789.8" cy="829.0" r="4.2" fill="#66c2a5" fill-opacity="0.75" stroke="#478873" stroke-opacity="0.25" stroke-width="0.5"/>
<circle cx="875.3" cy="829.0" r="35.0" fill="#fdae61" fill-opacity="0.78" stroke="#ac7642" stroke-opacity="0.80" stroke-width="1.0"/>
<circle cx="870.1" cy="829.0" r="29.0" fill="#fdae61" fill-opacity="0.18" stroke="#ac7642" stroke-opacity="0.45" stroke-width="0.9"/>
<circle cx="870.1" cy="829.0" r="14.5" fill="#fee08b" fill-opacity="0.20" stroke="#b29d61" stroke-opacity="0.25" stroke-width="0.5"/>
<circle cx="864.2" cy="829.0" r="23.1" fill="#fdae61" fill-opacity="0.18" stroke="#ac7642" stroke-opacity="0.45" stroke-width="0.9"/>
<circle cx="864.2" cy="829.0" r="11.6" fill="#fee08b" fill-opacity="0.20" stroke="#b29d61" stroke-opacity="0.25" stroke-width="0.5"/>
<circle cx="857.9" cy="829.0" r="16.8" fill="#fdae61" fill-opacity="0.18" stroke="#ac7642" stroke-opacity="0.45" stroke-width="0.9"/>
<circle cx="857.9" cy="829.0" r="8.4" fill="#fee08b" fill-opacity="0.20" stroke="#b29d61" stroke-opacity="0.25" stroke-width="0.5"/>
<circle cx="875.3" cy="829.0" r="17.5" fill="#fee08b" fill-opacity="0.75" stroke="#b29d61" stroke-opacity="0.25" stroke-width="0.5"/>
<circle cx="875.3" cy="829.0" r="5.8" fill="#ffffbf" fill-opacity="0.75" stroke="#b2b286" stroke-opacity="0.25" stroke-width="0.5"/>
<circle cx="951.0" cy="829.0" r="32.7" fill="#f46d43" fill-opacity="0.78" stroke="#a64a2e" stroke-opacity="0.80" stroke-width="1.0"/>
<circle cx="951.0" cy="829.0" r="21.8" fill="#fdae61" fill-opacity="0.75" stroke="#b17a44" stroke-opacity="0.25" stroke-width="0.5"/>
<circle cx="951.0" cy="829.0" r="10.9" fill="#fee08b" fill-opacity="0.75" stroke="#b29d61" stroke-opacity="0.25" stroke-width="0.5"/>
<circle cx="951.0" cy="829.0" r="5.5" fill="#ffffbf" fill-opacity="0.75" stroke="#b2b286" stroke-opacity="0.25" stroke-width="0.5"/>
<circle cx="1107.8" cy="829.0" r="29.3" fill="#d53e4f" fill-opacity="0.78" stroke="#912a36" stroke-opacity="0.80" stroke-width="1.0"/>
<circle cx="1107.8" cy="829.0" r="22.8" fill="#f46d43" fill-opacity="0.75" stroke="#ab4c2f" stroke-opacity="0.25" stroke-width="0.5"/>
<circle cx="1107.8" cy="829.0" r="13.0" fill="#fdae61" fill-opacity="0.75" stroke="#b17a44" stroke-opacity="0.25" stroke-width="0.5"/>
<circle cx="1107.8" cy="829.0" r="3.3" fill="#fee08b" fill-opacity="0.75" stroke="#b29d61" stroke-opacity="0.25" stroke-width="0.5"/>
<circle cx="648.0" cy="829.0" r="24.0" fill="#abdda4" fill-opacity="0.55" stroke="#749670" stroke-opacity="0.80" stroke-width="1.0"/>
<circle cx="648.0" cy="829.0" r="14.4" fill="#66c2a5" fill-opacity="0.75" stroke="#478873" stroke-opacity="0.25" stroke-width="0.5"/>
<circle cx="648.0" cy="829.0" r="4.8" fill="#3288bd" fill-opacity="0.75" stroke="#235f84" stroke-opacity="0.25" stroke-width="0.5"/>
<circle cx="1023.0" cy="827.0" r="22.5" fill="#fdae61" fill-opacity="0.78" stroke="#ac7642" stroke-opacity="0.80" stroke-width="1.0"/>
<circle cx="1023.0" cy="827.0" r="13.5" fill="#fee08b" fill-opacity="0.75" stroke="#b29d61" stroke-opacity="0.25" stroke-width="0.5"/>
<circle cx="1023.0" cy="827.0" r="4.5" fill="#ffffbf" fill-opacity="0.75" stroke="#b2b286" stroke-opacity="0.25" stroke-width="0.5"/>
<circle cx="715.3" cy="829.0" r="21.0" fill="#ffffbf" fill-opacity="0.78" stroke="#adad82" stroke-opacity="0.80" stroke-width="1.0"/>
<circle cx="715.3" cy="829.0" r="18.0" fill="#e6f598" fill-opacity="0.75" stroke="#a1ac6a" stroke-opacity="0.25" stroke-width="0.5"/>
<circle cx="715.3" cy="829.0" r="9.0" fill="#abdda4" fill-opacity="0.75" stroke="#789b73" stroke-opacity="0.25" stroke-width="0.5"/>
<circle cx="715.3" cy="829.0" r="6.0" fill="#66c2a5" fill-opacity="0.75" stroke="#478873" stroke-opacity="0.25" stroke-width="0.5"/>
<circle cx="991.6" cy="830.0" r="15.8" fill="#f46d43" fill-opacity="0.85" stroke="#a64a2e" stroke-opacity="0.80" stroke-width="1.0"/>
<circle cx="991.6" cy="830.0" r="9.5" fill="#fdae61" fill-opacity="0.85" stroke="#b17a44" stroke-opacity="0.25" stroke-width="0.5"/>
<circle cx="991.6" cy="830.0" r="6.3" fill="#fee08b" fill-opacity="0.85" stroke="#b29d61" stroke-opacity="0.25" stroke-width="0.5"/>
<circle cx="991.6" cy="830.0" r="3.2" fill="#ffffbf" fill-opacity="0.85" stroke="#b2b286" stroke-opacity="0.25" stroke-width="0.5"/>
<circle cx="338.0" cy="830.0" r="15.0" fill="#6253be" fill-opacity="0.85" stroke="#433881" stroke-opacity="0.80" stroke-width="1.0"/>
<circle cx="1067.0" cy="829.0" r="14.0" fill="#fdae61" fill-opacity="0.40" stroke="#ac7642" stroke-opacity="0.80" stroke-width="1.0"/>
<circle cx="607.0" cy="828.0" r="13.5" fill="#66c2a5" fill-opacity="0.85" stroke="#27408b" stroke-opacity="0.90" stroke-width="1.6"/>
<circle cx="489.7" cy="829.0" r="13.0" fill="#66c2a5" fill-opacity="0.85" stroke="#458470" stroke-opacity="0.80" stroke-width="1.0"/>
<circle cx="319.0" cy="829.0" r="11.0" fill="#6253be" fill-opacity="0.85" stroke="#433881" stroke-opacity="0.80" stroke-width="1.0"/>
<circle cx="470.7" cy="829.0" r="11.0" fill="#6253be" fill-opacity="0.85" stroke="#433881" stroke-opacity="0.80" stroke-width="1.0"/>
<circle cx="759.3" cy="828.0" r="11.0" fill="#ffffbf" fill-opacity="0.85" stroke="#3a9a5a" stroke-opacity="0.90" stroke-width="1.6"/>
<circle cx="452.0" cy="829.0" r="10.0" fill="#66c2a5" fill-opacity="0.85" stroke="#458470" stroke-opacity="0.80" stroke-width="1.0"/>
<circle cx="567.0" cy="829.0" r="10.0" fill="#abdda4" fill-opacity="0.85" stroke="#749670" stroke-opacity="0.80" stroke-width="1.0"/>
<circle cx="835.5" cy="829.0" r="10.0" fill="#ffffbf" fill-opacity="0.85" stroke="#adad82" stroke-opacity="0.80" stroke-width="1.0"/>
<circle cx="919.3" cy="832.0" r="10.0" fill="#e6f598" fill-opacity="0.85" stroke="#d06030" stroke-opacity="0.80" stroke-width="1.2"/>
<circle cx="1066.0" cy="829.0" r="10.0" fill="#e6f598" fill-opacity="0.85" stroke="#e08040" stroke-opacity="0.80" stroke-width="1.0"/>
<circle cx="684.0" cy="829.0" r="9.3" fill="#ffffbf" fill-opacity="0.85" stroke="#adad82" stroke-opacity="0.80" stroke-width="1.0"/>
<circle cx="693.3" cy="827.0" r="9.3" fill="#ffffbf" fill-opacity="0.85" stroke="#adad82" stroke-opacity="0.80" stroke-width="1.0"/>
<circle cx="298.4" cy="829.0" r="9.0" fill="#6253be" fill-opacity="0.85" stroke="#433881" stroke-opacity="0.80" stroke-width="1.0"/>
<circle cx="413.0" cy="829.0" r="9.0" fill="#6253be" fill-opacity="0.85" stroke="#433881" stroke-opacity="0.80" stroke-width="1.0"/>
<circle cx="528.5" cy="829.0" r="9.0" fill="#6253be" fill-opacity="0.85" stroke="#433881" stroke-opacity="0.80" stroke-width="1.0"/>
<circle cx="1181.0" cy="828.0" r="8.6" fill="#f46d43" fill-opacity="0.85" stroke="#a64a2e" stroke-opacity="0.80" stroke-width="1.0"/>
<circle cx="564.0" cy="919.0" r="33.4" fill="#abdda4" fill-opacity="0.78" stroke="#749670" stroke-opacity="0.80" stroke-width="1.0"/>
<circle cx="564.0" cy="919.0" r="30.6" fill="#66c2a5" fill-opacity="0.75" stroke="#478873" stroke-opacity="0.25" stroke-width="0.5"/>
<circle cx="564.0" cy="919.0" r="16.7" fill="#3288bd" fill-opacity="0.75" stroke="#235f84" stroke-opacity="0.25" stroke-width="0.5"/>
<circle cx="564.0" cy="919.0" r="5.6" fill="#6253be" fill-opacity="0.75" stroke="#453a85" stroke-opacity="0.25" stroke-width="0.5"/>
<circle cx="488.0" cy="917.0" r="18.0" fill="#66c2a5" fill-opacity="0.78" stroke="#458470" stroke-opacity="0.80" stroke-width="1.0"/>
<circle cx="488.0" cy="917.0" r="9.0" fill="#3288bd" fill-opacity="0.85" stroke="#235f84" stroke-opacity="0.25" stroke-width="0.5"/>
<circle cx="488.0" cy="917.0" r="4.5" fill="#6253be" fill-opacity="0.85" stroke="#453a85" stroke-opacity="0.25" stroke-width="0.5"/>
<circle cx="414.0" cy="919.0" r="15.0" fill="#3288bd" fill-opacity="0.85" stroke="#225c81" stroke-opacity="0.80" stroke-width="1.0"/>
<circle cx="414.0" cy="919.0" r="10.0" fill="#66c2a5" fill-opacity="0.85" stroke="#478873" stroke-opacity="0.25" stroke-width="0.5"/>
<circle cx="414.0" cy="919.0" r="5.0" fill="#3288bd" fill-opacity="0.85" stroke="#235f84" stroke-opacity="0.25" stroke-width="0.5"/>
<circle cx="338.0" cy="919.0" r="13.0" fill="#6253be" fill-opacity="0.85" stroke="#433881" stroke-opacity="0.80" stroke-width="1.0"/>
<circle cx="530.5" cy="919.0" r="12.5" fill="#66c2a5" fill-opacity="0.85" stroke="#4a3f9a" stroke-opacity="0.90" stroke-width="2.0"/>
<circle cx="390.0" cy="918.0" r="12.0" fill="#6253be" fill-opacity="0.85" stroke="#433881" stroke-opacity="0.80" stroke-width="1.0"/>
<circle cx="721.0" cy="919.0" r="12.0" fill="#66c2a5" fill-opacity="0.85" stroke="#458470" stroke-opacity="0.80" stroke-width="1.0"/>
<circle cx="453.0" cy="919.0" r="11.0" fill="#6253be" fill-opacity="0.85" stroke="#433881" stroke-opacity="0.80" stroke-width="1.0"/>
<circle cx="463.0" cy="919.0" r="11.0" fill="#6253be" fill-opacity="0.85" stroke="#433881" stroke-opacity="0.80" stroke-width="1.0"/>
<circle cx="311.0" cy="917.0" r="10.0" fill="#6253be" fill-opacity="0.85" stroke="#433881" stroke-opacity="0.80" stroke-width="1.0"/>
<circle cx="298.0" cy="919.0" r="9.0" fill="#6253be" fill-opacity="0.85" stroke="#433881" stroke-opacity="0.80" stroke-width="1.0"/>
<circle cx="374.0" cy="919.0" r="9.0" fill="#6253be" fill-opacity="0.85" stroke="#433881" stroke-opacity="0.80" stroke-width="1.0"/>
<circle cx="475.5" cy="919.0" r="9.0" fill="#6253be" fill-opacity="0.85" stroke="#433881" stroke-opacity="0.80" stroke-width="1.0"/>
<circle cx="682.5" cy="919.0" r="9.0" fill="#3288bd" fill-opacity="0.85" stroke="#225c81" stroke-opacity="0.80" stroke-width="1.0"/>
<circle cx="399.6" cy="915.0" r="8.0" fill="#3288bd" fill-opacity="0.85" stroke="#225c81" stroke-opacity="0.80" stroke-width="1.0"/>
<circle cx="644.0" cy="1009.0" r="30.0" fill="#e6f598" fill-opacity="0.78" stroke="#9ca767" stroke-opacity="0.80" stroke-width="1.0"/>
<circle cx="644.0" cy="1009.0" r="25.7" fill="#abdda4" fill-opacity="0.75" stroke="#789b73" stroke-opacity="0.25" stroke-width="0.5"/>
<circle cx="644.0" cy="1009.0" r="17.1" fill="#66c2a5" fill-opacity="0.75" stroke="#478873" stroke-opacity="0.25" stroke-width="0.5"/>
<circle cx="644.0" cy="1009.0" r="8.6" fill="#3288bd" fill-opacity="0.75" stroke="#235f84" stroke-opacity="0.25" stroke-width="0.5"/>
<circle cx="644.0" cy="1009.0" r="4.3" fill="#6253be" fill-opacity="0.75" stroke="#453a85" stroke-opacity="0.25" stroke-width="0.5"/>
<circle cx="1258.0" cy="1009.0" r="28.0" fill="#d53e4f" fill-opacity="0.78" stroke="#912a36" stroke-opacity="0.80" stroke-width="1.0"/>
<circle cx="1258.0" cy="1009.0" r="11.2" fill="#f46d43" fill-opacity="0.75" stroke="#ab4c2f" stroke-opacity="0.25" stroke-width="0.5"/>
<circle cx="1033.0" cy="1010.0" r="18.0" fill="#fdae61" fill-opacity="0.78" stroke="#ac7642" stroke-opacity="0.80" stroke-width="1.0"/>
<circle cx="874.0" cy="1009.0" r="17.0" fill="#fdae61" fill-opacity="0.78" stroke="#ac7642" stroke-opacity="0.80" stroke-width="1.0"/>
<circle cx="874.0" cy="1009.0" r="10.2" fill="#fee08b" fill-opacity="0.85" stroke="#b29d61" stroke-opacity="0.25" stroke-width="0.5"/>
<circle cx="874.0" cy="1009.0" r="6.8" fill="#ffffbf" fill-opacity="0.85" stroke="#b2b286" stroke-opacity="0.25" stroke-width="0.5"/>
<circle cx="874.0" cy="1009.0" r="3.4" fill="#abdda4" fill-opacity="0.85" stroke="#789b73" stroke-opacity="0.25" stroke-width="0.5"/>
<circle cx="1021.8" cy="1008.0" r="17.0" fill="#f46d43" fill-opacity="0.78" stroke="#a64a2e" stroke-opacity="0.80" stroke-width="1.0"/>
<circle cx="1021.8" cy="1008.0" r="8.5" fill="#fdae61" fill-opacity="0.85" stroke="#b17a44" stroke-opacity="0.25" stroke-width="0.5"/>
<circle cx="1021.8" cy="1008.0" r="4.2" fill="#fee08b" fill-opacity="0.85" stroke="#b29d61" stroke-opacity="0.25" stroke-width="0.5"/>
<circle cx="1105.0" cy="1009.0" r="17.0" fill="#f46d43" fill-opacity="0.78" stroke="#a64a2e" stroke-opacity="0.80" stroke-width="1.0"/>
<circle cx="1105.0" cy="1009.0" r="5.7" fill="#fdae61" fill-opacity="0.85" stroke="#b17a44" stroke-opacity="0.25" stroke-width="0.5"/>
<circle cx="414.0" cy="1009.0" r="15.0" fill="#6253be" fill-opacity="0.85" stroke="#433881" stroke-opacity="0.80" stroke-width="1.0"/>
<circle cx="338.0" cy="1009.0" r="13.0" fill="#6253be" fill-opacity="0.85" stroke="#433881" stroke-opacity="0.80" stroke-width="1.0"/>
<circle cx="374.0" cy="1009.0" r="12.0" fill="#6253be" fill-opacity="0.85" stroke="#433881" stroke-opacity="0.80" stroke-width="1.0"/>
<circle cx="836.0" cy="1009.0" r="12.0" fill="#fdae61" fill-opacity="0.85" stroke="#ac7642" stroke-opacity="0.80" stroke-width="1.0"/>
<circle cx="490.6" cy="1009.0" r="11.0" fill="#3288bd" fill-opacity="0.85" stroke="#225c81" stroke-opacity="0.80" stroke-width="1.0"/>
<circle cx="950.7" cy="1008.0" r="11.0" fill="#f46d43" fill-opacity="0.85" stroke="#a64a2e" stroke-opacity="0.80" stroke-width="1.0"/>
<circle cx="990.0" cy="1009.0" r="11.0" fill="#fdae61" fill-opacity="0.85" stroke="#ac7642" stroke-opacity="0.80" stroke-width="1.0"/>
<circle cx="1182.0" cy="1009.0" r="11.0" fill="#fdae61" fill-opacity="0.85" stroke="#ac7642" stroke-opacity="0.80" stroke-width="1.0"/>
<circle cx="1219.0" cy="1008.0" r="11.0" fill="#f46d43" fill-opacity="0.85" stroke="#a64a2e" stroke-opacity="0.80" stroke-width="1.0"/>
<circle cx="312.7" cy="1008.0" r="10.0" fill="#6253be" fill-opacity="0.85" stroke="#433881" stroke-opacity="0.80" stroke-width="1.0"/>
<circle cx="298.0" cy="1009.0" r="9.0" fill="#6253be" fill-opacity="0.85" stroke="#433881" stroke-opacity="0.80" stroke-width="1.0"/>
<circle cx="912.7" cy="1009.0" r="9.0" fill="#f46d43" fill-opacity="0.85" stroke="#a64a2e" stroke-opacity="0.80" stroke-width="1.0"/>
<circle cx="1143.0" cy="1008.0" r="9.0" fill="#f46d43" fill-opacity="0.85" stroke="#a64a2e" stroke-opacity="0.80" stroke-width="1.0"/>
<circle cx="1183.5" cy="1100.0" r="24.0" fill="#d53e4f" fill-opacity="0.78" stroke="#b02050" stroke-opacity="0.80" stroke-width="1.0"/>
<circle cx="1183.5" cy="1100.0" r="12.0" fill="#f46d43" fill-opacity="0.75" stroke="#ab4c2f" stroke-opacity="0.25" stroke-width="0.5"/>
<circle cx="1183.5" cy="1100.0" r="4.0" fill="#fdae61" fill-opacity="0.75" stroke="#b17a44" stroke-opacity="0.25" stroke-width="0.5"/>
<circle cx="1106.0" cy="1100.0" r="22.0" fill="#d53e4f" fill-opacity="0.78" stroke="#9e0142" stroke-opacity="0.90" stroke-width="1.4"/>
<circle cx="1106.0" cy="1100.0" r="19.2" fill="#f46d43" fill-opacity="0.75" stroke="#ab4c2f" stroke-opacity="0.25" stroke-width="0.5"/>
<circle cx="1106.0" cy="1100.0" r="16.5" fill="#fdae61" fill-opacity="0.75" stroke="#b17a44" stroke-opacity="0.25" stroke-width="0.5"/>
<circle cx="1106.0" cy="1100.0" r="8.2" fill="#fee08b" fill-opacity="0.75" stroke="#b29d61" stroke-opacity="0.25" stroke-width="0.5"/>
<circle cx="1028.6" cy="1100.0" r="17.0" fill="#d53e4f" fill-opacity="0.78" stroke="#b02050" stroke-opacity="0.80" stroke-width="1.0"/>
<circle cx="1028.6" cy="1100.0" r="6.8" fill="#f46d43" fill-opacity="0.85" stroke="#ab4c2f" stroke-opacity="0.25" stroke-width="0.5"/>
<circle cx="1258.7" cy="1100.0" r="17.0" fill="#d53e4f" fill-opacity="0.78" stroke="#9e0142" stroke-opacity="0.90" stroke-width="1.4"/>
<circle cx="875.0" cy="1100.0" r="15.0" fill="#fdae61" fill-opacity="0.85" stroke="#ac7642" stroke-opacity="0.80" stroke-width="1.0"/>
<circle cx="875.0" cy="1100.0" r="10.0" fill="#fee08b" fill-opacity="0.85" stroke="#b29d61" stroke-opacity="0.25" stroke-width="0.5"/>
<circle cx="875.0" cy="1100.0" r="5.0" fill="#ffffbf" fill-opacity="0.85" stroke="#b2b286" stroke-opacity="0.25" stroke-width="0.5"/>
<circle cx="1077.6" cy="1100.0" r="13.0" fill="#fdae61" fill-opacity="0.85" stroke="#ac7642" stroke-opacity="0.80" stroke-width="1.0"/>
<circle cx="1163.0" cy="1096.0" r="13.0" fill="#d53e4f" fill-opacity="0.85" stroke="#912a36" stroke-opacity="0.80" stroke-width="1.0"/>
<circle cx="1153.0" cy="1100.0" r="12.0" fill="#d53e4f" fill-opacity="0.85" stroke="#912a36" stroke-opacity="0.80" stroke-width="1.0"/>
<circle cx="989.0" cy="1100.0" r="10.0" fill="#fdae61" fill-opacity="0.85" stroke="#ac7642" stroke-opacity="0.80" stroke-width="1.0"/>
<circle cx="995.0" cy="1099.0" r="10.0" fill="#fdae61" fill-opacity="0.85" stroke="#ac7642" stroke-opacity="0.80" stroke-width="1.0"/>
<circle cx="1066.0" cy="1100.0" r="6.0" fill="#9e0142" fill-opacity="0.85" stroke="#6b012d" stroke-opacity="0.80" stroke-width="1.0"/>
<circle cx="1143.0" cy="1100.0" r="6.0" fill="#9e0142" fill-opacity="0.85" stroke="#6b012d" stroke-opacity="0.80" stroke-width="1.0"/>
<circle cx="1220.0" cy="1100.0" r="5.0" fill="#9e0142" fill-opacity="0.85" stroke="#6b012d" stroke-opacity="0.80" stroke-width="1.0"/>
<circle cx="1335.0" cy="1100.0" r="5.0" fill="#9e0142" fill-opacity="0.85" stroke="#6b012d" stroke-opacity="0.80" stroke-width="1.0"/>
<circle cx="721.0" cy="1190.0" r="12.0" fill="#ffffbf" fill-opacity="0.85" stroke="#adad82" stroke-opacity="0.80" stroke-width="1.0"/>
<circle cx="721.0" cy="1190.0" r="4.0" fill="#abdda4" fill-opacity="0.85" stroke="#789b73" stroke-opacity="0.25" stroke-width="0.5"/>
<circle cx="797.0" cy="1190.0" r="11.0" fill="#ffffbf" fill-opacity="0.85" stroke="#adad82" stroke-opacity="0.80" stroke-width="1.0"/>
<circle cx="644.0" cy="1190.0" r="10.0" fill="#abdda4" fill-opacity="0.85" stroke="#749670" stroke-opacity="0.80" stroke-width="1.0"/>
<circle cx="874.5" cy="1190.0" r="10.0" fill="#abdda4" fill-opacity="0.85" stroke="#749670" stroke-opacity="0.80" stroke-width="1.0"/>
<circle cx="567.0" cy="1190.0" r="9.0" fill="#abdda4" fill-opacity="0.85" stroke="#749670" stroke-opacity="0.80" stroke-width="1.0"/>
<circle cx="695.0" cy="1189.0" r="9.0" fill="#abdda4" fill-opacity="0.85" stroke="#749670" stroke-opacity="0.80" stroke-width="1.0"/>
<circle cx="682.7" cy="1190.0" r="8.0" fill="#abdda4" fill-opacity="0.85" stroke="#749670" stroke-opacity="0.80" stroke-width="1.0"/>
<circle cx="606.0" cy="1190.0" r="7.0" fill="#abdda4" fill-opacity="0.85" stroke="#749670" stroke-opacity="0.80" stroke-width="1.0"/>
<circle cx="835.6" cy="1190.0" r="7.0" fill="#abdda4" fill-opacity="0.85" stroke="#749670" stroke-opacity="0.80" stroke-width="1.0"/>
</g>
<g fill="#1a1a1a" stroke="#1a1a1a" stroke-linejoin="round">
<text font-size="13.1" stroke-width="0.16" textLength="94.7" lengthAdjust="spacingAndGlyphs" transform="translate(902.5 322.3) rotate(-27.5)">Chen X (2018)</text>
<text font-size="14.5" stroke-width="0.17" textLength="105.0" lengthAdjust="spacingAndGlyphs" transform="translate(958.4 328.1) rotate(-27.5)">Song H (2019)</text>
<text font-size="14.7" stroke-width="0.18" textLength="107.5" lengthAdjust="spacingAndGlyphs" transform="translate(1055.8 327.7) rotate(-27.5)">Kim JM (2020)</text>
<text font-size="14.0" stroke-width="0.17" textLength="82.6" lengthAdjust="spacingAndGlyphs" transform="translate(1146.3 320.8) rotate(-27.5)">Hu Y (2021)</text>
<text font-size="14.9" stroke-width="0.18" textLength="102.4" lengthAdjust="spacingAndGlyphs" transform="translate(1200.6 326.6) rotate(-27.5)">Cui YZ (2022)</text>
<text font-size="9.8" stroke-width="0.12" textLength="73.6" lengthAdjust="spacingAndGlyphs" transform="translate(1298.4 318.0) rotate(-27.5)">Foessl I (2023)</text>
<text font-size="19.4" stroke-width="0.23" textLength="157.4" lengthAdjust="spacingAndGlyphs" transform="translate(731.2 435.5) rotate(-27.5)">Miller PD (2016)</text>
<text font-size="16.3" stroke-width="0.20" textLength="163.5" lengthAdjust="spacingAndGlyphs" transform="translate(791.0 433.1) rotate(-27.5)">Langdahl BL (2017)</text>
<text font-size="16.3" stroke-width="0.20" textLength="132.5" lengthAdjust="spacingAndGlyphs" transform="translate(886.7 425.9) rotate(-27.5)">Bone HG (2018)</text>
<text font-size="16.8" stroke-width="0.20" textLength="182.8" lengthAdjust="spacingAndGlyphs" transform="translate(941.4 438.2) rotate(-27.5)">Barrionuevo P (2019)</text>
<text font-size="19.2" stroke-width="0.23" textLength="197.9" lengthAdjust="spacingAndGlyphs" transform="translate(1021.2 443.8) rotate(-27.5)">Camacho PM (2020)</text>
<text font-size="12.6" stroke-width="0.15" textLength="111.3" lengthAdjust="spacingAndGlyphs" transform="translate(1112.1 417.5) rotate(-27.5)">Solling AS (2021)</text>
<text font-size="13.9" stroke-width="0.17" textLength="134.6" lengthAdjust="spacingAndGlyphs" transform="translate(1189.3 421.2) rotate(-27.5)">Gregson CL (2022)</text>
<text font-size="8.8" stroke-width="0.11" textLength="95.0" lengthAdjust="spacingAndGlyphs" transform="translate(1270.9 407.7) rotate(-27.5)">Humphrey MB (2023)</text>
<text font-size="8.6" stroke-width="0.10" textLength="93.2" lengthAdjust="spacingAndGlyphs" transform="translate(303.1 497.2) rotate(-27.5)">Finkelstein JS (2010)</text>
<text font-size="10.9" stroke-width="0.13" textLength="97.3" lengthAdjust="spacingAndGlyphs" transform="translate(360.3 502.3) rotate(-27.5)">Eisman JA (2011)</text>
<text font-size="13.2" stroke-width="0.16" textLength="123.5" lengthAdjust="spacingAndGlyphs" transform="translate(436.7 510.5) rotate(-27.5)">Langdahl B (2012)</text>
<text font-size="15.9" stroke-width="0.19" textLength="114.9" lengthAdjust="spacingAndGlyphs" transform="translate(524.5 512.2) rotate(-27.5)">Tsai JN (2013)</text>
<text font-size="13.6" stroke-width="0.16" textLength="129.1" lengthAdjust="spacingAndGlyphs" transform="translate(571.8 513.4) rotate(-27.5)">Crandall CJ (2014)</text>
<text font-size="14.5" stroke-width="0.17" textLength="118.4" lengthAdjust="spacingAndGlyphs" transform="translate(664.5 510.6) rotate(-27.5)">Leder BZ (2015)</text>
<text font-size="8.2" stroke-width="0.10" textLength="59.8" lengthAdjust="spacingAndGlyphs" transform="translate(762.5 490.4) rotate(-27.5)">Tsai JN (2016)</text>
<text font-size="7.0" stroke-width="0.08" textLength="52.0" lengthAdjust="spacingAndGlyphs" transform="translate(819.4 486.5) rotate(-27.5)">Khan M (2017)</text>
<text font-size="9.7" stroke-width="0.12" textLength="80.9" lengthAdjust="spacingAndGlyphs" transform="translate(287.6 587.1) rotate(-27.5)">Black DM (2010)</text>
<text font-size="12.4" stroke-width="0.15" textLength="107.5" lengthAdjust="spacingAndGlyphs" transform="translate(358.8 596.1) rotate(-27.5)">Cosman F (2011)</text>
<text font-size="12.1" stroke-width="0.15" textLength="90.4" lengthAdjust="spacingAndGlyphs" transform="translate(436.4 593.0) rotate(-27.5)">Dell RM (2012)</text>
<text font-size="10.0" stroke-width="0.12" textLength="71.0" lengthAdjust="spacingAndGlyphs" transform="translate(532.5 585.4) rotate(-27.5)">Duru N (2013)</text>
<text font-size="13.9" stroke-width="0.17" textLength="113.6" lengthAdjust="spacingAndGlyphs" transform="translate(572.6 599.9) rotate(-27.5)">Leder BZ (2014)</text>
<text font-size="7.7" stroke-width="0.09" textLength="71.0" lengthAdjust="spacingAndGlyphs" transform="translate(657.5 581.9) rotate(-27.5)">Schlicher J (2015)</text>
<text font-size="7.2" stroke-width="0.09" textLength="46.4" lengthAdjust="spacingAndGlyphs" transform="translate(742.4 576.7) rotate(-27.5)">Lo JC (2016)</text>
<text font-size="7.7" stroke-width="0.09" textLength="75.6" lengthAdjust="spacingAndGlyphs" transform="translate(366.0 673.5) rotate(-27.5)">Coleman RE (2011)</text>
<text font-size="10.4" stroke-width="0.12" textLength="86.4" lengthAdjust="spacingAndGlyphs" transform="translate(535.7 678.1) rotate(-27.5)">Dallas SL (2013)</text>
<text font-size="7.2" stroke-width="0.09" textLength="69.6" lengthAdjust="spacingAndGlyphs" transform="translate(586.1 670.1) rotate(-27.5)">Crabtree NJ (2014)</text>
<text font-size="15.4" stroke-width="0.18" textLength="120.0" lengthAdjust="spacingAndGlyphs" transform="translate(674.8 693.3) rotate(-27.5)">Gnant M (2015)</text>
<text font-size="10.0" stroke-width="0.12" textLength="71.0" lengthAdjust="spacingAndGlyphs" transform="translate(759.5 677.4) rotate(-27.5)">Hadji P (2016)</text>
<text font-size="14.6" stroke-width="0.17" textLength="103.7" lengthAdjust="spacingAndGlyphs" transform="translate(829.5 691.3) rotate(-27.5)">Hadji P (2017)</text>
<text font-size="13.2" stroke-width="0.16" textLength="105.7" lengthAdjust="spacingAndGlyphs" transform="translate(904.1 686.9) rotate(-27.5)">Saag KG (2018)</text>
<text font-size="11.2" stroke-width="0.13" textLength="87.3" lengthAdjust="spacingAndGlyphs" transform="translate(971.8 680.5) rotate(-27.5)">Gnant M (2019)</text>
<text font-size="10.3" stroke-width="0.12" textLength="94.5" lengthAdjust="spacingAndGlyphs" transform="translate(1053.1 680.5) rotate(-27.5)">Coleman R (2020)</text>
<text font-size="6.9" stroke-width="0.08" textLength="51.6" lengthAdjust="spacingAndGlyphs" transform="translate(1124.6 666.9) rotate(-27.5)">Diana A (2021)</text>
<text font-size="7.6" stroke-width="0.09" textLength="62.8" lengthAdjust="spacingAndGlyphs" transform="translate(1196.7 669.5) rotate(-27.5)">Sobh MM (2022)</text>
<text font-size="8.6" stroke-width="0.10" textLength="76.5" lengthAdjust="spacingAndGlyphs" transform="translate(500.1 764.8) rotate(-27.5)">Recknor C (2013)</text>
<text font-size="6.8" stroke-width="0.08" textLength="55.9" lengthAdjust="spacingAndGlyphs" transform="translate(585.7 757.9) rotate(-27.5)">Krege JH (2014)</text>
<text font-size="13.9" stroke-width="0.17" textLength="116.6" lengthAdjust="spacingAndGlyphs" transform="translate(677.8 781.1) rotate(-27.5)">Black DM (2015)</text>
<text font-size="12.2" stroke-width="0.15" textLength="100.3" lengthAdjust="spacingAndGlyphs" transform="translate(736.5 774.8) rotate(-27.5)">Popp AW (2016)</text>
<text font-size="17.3" stroke-width="0.21" textLength="145.5" lengthAdjust="spacingAndGlyphs" transform="translate(802.5 793.2) rotate(-27.5)">Tsourdi E (2017)</text>
<text font-size="13.3" stroke-width="0.16" textLength="107.5" lengthAdjust="spacingAndGlyphs" transform="translate(878.8 778.3) rotate(-27.5)">Yeam CT (2018)</text>
<text font-size="7.7" stroke-width="0.09" textLength="57.2" lengthAdjust="spacingAndGlyphs" transform="translate(972.6 759.7) rotate(-27.5)">Burt LA (2019)</text>
<text font-size="7.0" stroke-width="0.08" textLength="75.6" lengthAdjust="spacingAndGlyphs" transform="translate(1039.0 761.5) rotate(-27.5)">Cornelissen D (2020)</text>
<text font-size="12.1" stroke-width="0.15" textLength="124.7" lengthAdjust="spacingAndGlyphs" transform="translate(1097.2 779.9) rotate(-27.5)">Burckhardt P (2021)</text>
<text font-size="9.2" stroke-width="0.11" textLength="86.8" lengthAdjust="spacingAndGlyphs" transform="translate(288.0 859.4) rotate(-27.5)">Bonnick SL (2010)</text>
<text font-size="8.5" stroke-width="0.10" textLength="111.7" lengthAdjust="spacingAndGlyphs" transform="translate(429.5 861.9) rotate(-27.5)">Dawson-Hughes B (2012)</text>
<text font-size="6.8" stroke-width="0.08" textLength="51.6" lengthAdjust="spacingAndGlyphs" transform="translate(509.6 847.9) rotate(-27.5)">Diab DL (2013)</text>
<text font-size="16.3" stroke-width="0.20" textLength="142.9" lengthAdjust="spacingAndGlyphs" transform="translate(567.6 881.3) rotate(-27.5)">Wright NC (2014)</text>
<text font-size="13.4" stroke-width="0.16" textLength="85.1" lengthAdjust="spacingAndGlyphs" transform="translate(681.7 865.2) rotate(-27.5)">Jha S (2015)</text>
<text font-size="16.2" stroke-width="0.19" textLength="166.6" lengthAdjust="spacingAndGlyphs" transform="translate(713.6 885.3) rotate(-27.5)">Camacho PM (2016)</text>
<text font-size="17.8" stroke-width="0.21" textLength="135.5" lengthAdjust="spacingAndGlyphs" transform="translate(820.9 882.5) rotate(-27.5)">Sözen T (2017)</text>
<text font-size="14.9" stroke-width="0.18" textLength="130.7" lengthAdjust="spacingAndGlyphs" transform="translate(885.0 879.1) rotate(-27.5)">Adams AL (2018)</text>
<text font-size="14.7" stroke-width="0.18" textLength="122.7" lengthAdjust="spacingAndGlyphs" transform="translate(972.6 875.7) rotate(-27.5)">Black DM (2019)</text>
<text font-size="11.9" stroke-width="0.14" textLength="99.0" lengthAdjust="spacingAndGlyphs" transform="translate(1030.6 864.9) rotate(-27.5)">Curtis JR (2020)</text>
<text font-size="6.8" stroke-width="0.08" textLength="61.9" lengthAdjust="spacingAndGlyphs" transform="translate(1159.5 849.3) rotate(-27.5)">Barton DW (2021)</text>
<text font-size="7.9" stroke-width="0.09" textLength="62.3" lengthAdjust="spacingAndGlyphs" transform="translate(287.9 941.9) rotate(-27.5)">Cotte FE (2010)</text>
<text font-size="9.5" stroke-width="0.11" textLength="87.6" lengthAdjust="spacingAndGlyphs" transform="translate(366.1 949.7) rotate(-27.5)">Kendler DL (2011)</text>
<text font-size="12.2" stroke-width="0.15" textLength="87.3" lengthAdjust="spacingAndGlyphs" transform="translate(453.8 953.8) rotate(-27.5)">Hadji P (2012)</text>
<text font-size="16.7" stroke-width="0.20" textLength="134.7" lengthAdjust="spacingAndGlyphs" transform="translate(513.8 970.0) rotate(-27.5)">Kanis JA (2013)</text>
<text font-size="7.1" stroke-width="0.09" textLength="51.1" lengthAdjust="spacingAndGlyphs" transform="translate(664.8 938.3) rotate(-27.5)">Reid IR (2015)</text>
<text font-size="8.1" stroke-width="0.10" textLength="69.2" lengthAdjust="spacingAndGlyphs" transform="translate(285.8 1032.5) rotate(-27.5)">Cheung A (2010)</text>
<text font-size="8.7" stroke-width="0.10" textLength="72.6" lengthAdjust="spacingAndGlyphs" transform="translate(347.8 1034.5) rotate(-27.5)">Henry DH (2011)</text>
<text font-size="8.7" stroke-width="0.10" textLength="84.7" lengthAdjust="spacingAndGlyphs" transform="translate(805.0 1037.2) rotate(-27.5)">Hasegawa T (2017)</text>
<text font-size="7.9" stroke-width="0.09" textLength="67.5" lengthAdjust="spacingAndGlyphs" transform="translate(925.6 1034.1) rotate(-27.5)">Di Fede O (2018)</text>
<text font-size="11.6" stroke-width="0.14" textLength="154.3" lengthAdjust="spacingAndGlyphs" transform="translate(965.6 1057.1) rotate(-27.5)">Nicolatou-Galitis O (2019)</text>
<text font-size="6.9" stroke-width="0.08" textLength="59.3" lengthAdjust="spacingAndGlyphs" transform="translate(1122.7 1029.7) rotate(-27.5)">Aguirre JI (2021)</text>
<text font-size="7.8" stroke-width="0.09" textLength="95.9" lengthAdjust="spacingAndGlyphs" transform="translate(1185.0 1038.6) rotate(-27.5)">Anastasilakis AD (2022)</text>
<text font-size="7.8" stroke-width="0.09" textLength="73.5" lengthAdjust="spacingAndGlyphs" transform="translate(967.9 1124.5) rotate(-27.5)">Salminen H (2019)</text>
<text font-size="10.1" stroke-width="0.12" textLength="145.3" lengthAdjust="spacingAndGlyphs" transform="translate(1024.6 1144.1) rotate(-27.5)">van de Laarschot DM (2020)</text>
<text font-size="12.0" stroke-width="0.14" textLength="106.2" lengthAdjust="spacingAndGlyphs" transform="translate(1124.9 1138.1) rotate(-27.5)">Chandra A (2021)</text>
<text font-size="4.1" stroke-width="0.05" textLength="25.4" lengthAdjust="spacingAndGlyphs" transform="translate(1209.3 1107.4) rotate(-27.5)">Anon (2022)</text>
<text font-size="3.7" stroke-width="0.04" textLength="25.4" lengthAdjust="spacingAndGlyphs" transform="translate(1324.3 1108.4) rotate(-27.5)">Cui YZ (2025)</text>
<text font-size="7.1" stroke-width="0.09" textLength="50.7" lengthAdjust="spacingAndGlyphs" transform="translate(548.5 1209.7) rotate(-27.5)">Zhu RJ (2013)</text>
<text font-size="7.3" stroke-width="0.09" textLength="67.9" lengthAdjust="spacingAndGlyphs" transform="translate(619.9 1212.7) rotate(-27.5)">Schouten J (2014)</text>
<text font-size="7.3" stroke-width="0.09" textLength="61.4" lengthAdjust="spacingAndGlyphs" transform="translate(672.7 1211.7) rotate(-27.5)">Sharma A (2015)</text>
<text font-size="4.9" stroke-width="0.06" textLength="47.3" lengthAdjust="spacingAndGlyphs" transform="translate(818.5 1206.9) rotate(-27.5)">Ambrosi TH (2017)</text>
</g>
<g fill="#000" font-size="12.0">
<text x="6" y="10.3" textLength="249.0" lengthAdjust="spacingAndGlyphs">CiteSpace, v. 6.3.R3 (64-bit) Advanced</text>
<text x="6" y="23.3" textLength="227.7" lengthAdjust="spacingAndGlyphs">February 19, 2025, 8:02:03 PM CST</text>
<text x="6" y="36.3" textLength="367.2" lengthAdjust="spacingAndGlyphs">WoS: D:\Drug therapy and Osteoporosis\CiteSpace\data</text>
<text x="6" y="49.3" textLength="250.3" lengthAdjust="spacingAndGlyphs">Timespan: 2015-2025 (Slice Length=1)</text>
<text x="6" y="62.3" textLength="423.0" lengthAdjust="spacingAndGlyphs">Selection Criteria: g-index (k=25), LRF=3.0, L/N=10, LBY=5, e=1.0</text>
<text x="6" y="75.3" textLength="272.7" lengthAdjust="spacingAndGlyphs">Network: N=811, E=3580 (Density=0.0109)</text>
<text x="6" y="88.3" textLength="137.9" lengthAdjust="spacingAndGlyphs">Nodes Labeled: 1.0%</text>
<text x="6" y="101.3" textLength="94.9" lengthAdjust="spacingAndGlyphs">Pruning: None</text>
<text x="6" y="114.3" textLength="126.0" lengthAdjust="spacingAndGlyphs">Modularity Q=0.648</text>
<text x="6" y="127.3" textLength="227.0" lengthAdjust="spacingAndGlyphs">Weighted Mean Silhouette S=0.859</text>
<text x="6" y="140.3" textLength="189.0" lengthAdjust="spacingAndGlyphs">Harmonic Mean(Q, S)=0.7387</text>
<text x="6" y="153.3" textLength="65.8" lengthAdjust="spacingAndGlyphs">Excluded:</text>
</g>
<g fill="#cc22cc" font-size="10" text-anchor="middle">
<text x="350" y="183" textLength="25" lengthAdjust="spacingAndGlyphs">2010</text>
<text x="721" y="183" textLength="25" lengthAdjust="spacingAndGlyphs">2015</text>
<text x="1105" y="183" textLength="25" lengthAdjust="spacingAndGlyphs">2020</text>
<text x="1425" y="183" textLength="25" lengthAdjust="spacingAndGlyphs">2024</text>
</g>
<g fill="#000" font-size="18.5">
<text x="1516" y="286.0" textLength="244.0" lengthAdjust="spacingAndGlyphs">#0 extracellular vesicles</text>
<text x="1516" y="376.0" textLength="176.0" lengthAdjust="spacingAndGlyphs">#1 romosozumab</text>
<text x="1516" y="467.0" textLength="93.0" lengthAdjust="spacingAndGlyphs">#2 serms</text>
<text x="1516" y="557.0" textLength="206.0" lengthAdjust="spacingAndGlyphs">#3 bisphosphonates</text>
<text x="1516" y="648.0" textLength="169.0" lengthAdjust="spacingAndGlyphs">#4 breast cancer</text>
<text x="1516" y="738.0" textLength="148.0" lengthAdjust="spacingAndGlyphs">#5 persistence</text>
<text x="1516" y="829.0" textLength="67.0" lengthAdjust="spacingAndGlyphs">#6 dxa</text>
<text x="1516" y="919.0" textLength="255.0" lengthAdjust="spacingAndGlyphs">#7 medication adherence</text>
<text x="1516" y="1009.0" textLength="89.0" lengthAdjust="spacingAndGlyphs">#8 mronj</text>
<text x="1516" y="1100.0" textLength="150.0" lengthAdjust="spacingAndGlyphs">#9 denosumab</text>
<text x="1516" y="1190.0" textLength="253.0" lengthAdjust="spacingAndGlyphs">#10 antiretroviral therapy</text>
</g>
<g>
<rect x="29" y="911.0" width="66.5" height="24.6" fill="#9e0142"/>
<rect x="29" y="935.3" width="66.5" height="24.6" fill="#d53e4f"/>
<rect x="29" y="959.6" width="66.5" height="24.6" fill="#f46d43"/>
<rect x="29" y="983.9" width="66.5" height="24.6" fill="#fdae61"/>
<rect x="29" y="1008.2" width="66.5" height="24.6" fill="#fee08b"/>
<rect x="29" y="1032.5" width="66.5" height="24.6" fill="#ffffbf"/>
<rect x="29" y="1056.8" width="66.5" height="24.6" fill="#e6f598"/>
<rect x="29" y="1081.1" width="66.5" height="24.6" fill="#abdda4"/>
<rect x="29" y="1105.4" width="66.5" height="24.6" fill="#66c2a5"/>
<rect x="29" y="1129.7" width="66.5" height="24.6" fill="#3288bd"/>
<rect x="29" y="1154.0" width="66.5" height="24.6" fill="#6455b0"/>
</g><g fill="#000" font-size="14" text-anchor="middle">
<text x="62.5" y="930.4" textLength="33" lengthAdjust="spacingAndGlyphs">2025</text>
<text x="62.5" y="954.7" textLength="33" lengthAdjust="spacingAndGlyphs">2024</text>
<text x="62.5" y="979.0" textLength="33" lengthAdjust="spacingAndGlyphs">2023</text>
<text x="62.5" y="1003.3" textLength="33" lengthAdjust="spacingAndGlyphs">2022</text>
<text x="62.5" y="1027.6" textLength="33" lengthAdjust="spacingAndGlyphs">2021</text>
<text x="62.5" y="1051.9" textLength="33" lengthAdjust="spacingAndGlyphs">2020</text>
<text x="62.5" y="1076.2" textLength="33" lengthAdjust="spacingAndGlyphs">2019</text>
<text x="62.5" y="1100.5" textLength="33" lengthAdjust="spacingAndGlyphs">2018</text>
<text x="62.5" y="1124.8" textLength="33" lengthAdjust="spacingAndGlyphs">2017</text>
<text x="62.5" y="1149.1" textLength="33" lengthAdjust="spacingAndGlyphs">2016</text>
<text x="62.5" y="1173.4" textLength="33" lengthAdjust="spacingAndGlyphs">2015</text>
</g>
<g>
<rect x="24.8" y="1258.4" width="14.8" height="11.6" fill="url(#bg)"/>
<rect x="40.9" y="1253.9" width="14.8" height="16.1" fill="url(#bg)"/>
<rect x="57.0" y="1249.0" width="14.8" height="21.0" fill="url(#bg)"/>
<rect x="72.8" y="1253.9" width="14.8" height="16.1" fill="url(#bg)"/>
<rect x="88.3" y="1258.4" width="14.8" height="11.6" fill="url(#bg)"/>
<path d="M4.5 1270.5 Q40 1272.5 63 1278.5 Q86 1272.5 122.5 1270.5" fill="none" stroke="#8c8c8c" stroke-width="1.8"/>
<path d="M1.7 1276.5 Q40 1277.3 63 1279.5 Q86 1277.3 124 1276.5" fill="none" stroke="#8c8c8c" stroke-width="2.2"/>
<text font-size="19" fill="#9a9a9a" style="font-weight:bold"><textPath href="#lp" textLength="102" lengthAdjust="spacingAndGlyphs">CiteSpace</textPath></text>
</g>
</svg></body></html>
